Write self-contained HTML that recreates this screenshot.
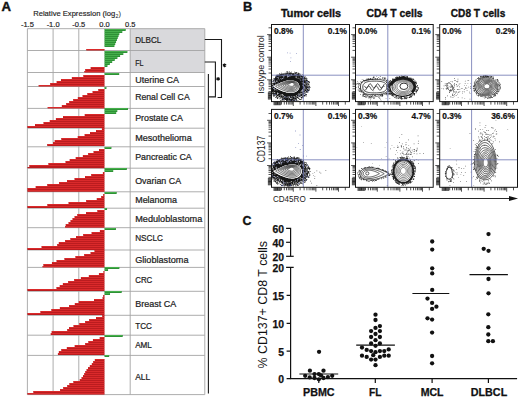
<!DOCTYPE html>
<html><head><meta charset="utf-8"><style>
html,body{margin:0;padding:0;background:#fff;width:520px;height:397px;overflow:hidden;}
svg{display:block;}
text{font-family:"Liberation Sans",sans-serif;}
</style></head><body>
<svg width="520" height="397" viewBox="0 0 520 397">
<rect width="520" height="397" fill="#fff"/>
<text x="1.5" y="11.1" font-family="Liberation Sans, sans-serif" font-weight="bold" font-size="12.4" fill="#111" stroke="#111" stroke-width="0.4" textLength="9.5" lengthAdjust="spacingAndGlyphs">A</text>
<text x="33.2" y="16" font-family="Liberation Sans, sans-serif" font-size="7.6" fill="#222" stroke="#222" stroke-width="0.15" textLength="82" lengthAdjust="spacingAndGlyphs">Relative Expression (log</text>
<text x="115.4" y="17.6" font-family="Liberation Sans, sans-serif" font-size="5.2" fill="#222">2</text>
<text x="118.4" y="16" font-family="Liberation Sans, sans-serif" font-size="7.5" fill="#222">)</text>
<text x="27.4" y="26.6" font-family="Liberation Sans, sans-serif" font-size="7.5" fill="#222" stroke="#222" stroke-width="0.18" text-anchor="middle">-1.5</text>
<text x="53.1" y="26.6" font-family="Liberation Sans, sans-serif" font-size="7.5" fill="#222" stroke="#222" stroke-width="0.18" text-anchor="middle">-1.0</text>
<text x="78.8" y="26.6" font-family="Liberation Sans, sans-serif" font-size="7.5" fill="#222" stroke="#222" stroke-width="0.18" text-anchor="middle">-0.5</text>
<text x="104.5" y="26.6" font-family="Liberation Sans, sans-serif" font-size="7.5" fill="#222" stroke="#222" stroke-width="0.18" text-anchor="middle">0.0</text>
<text x="130.2" y="26.6" font-family="Liberation Sans, sans-serif" font-size="7.5" fill="#222" stroke="#222" stroke-width="0.18" text-anchor="middle">0.5</text>
<rect x="130.2" y="28.7" width="74.6" height="43.8" fill="#d9d9dc"/>
<g stroke="#a4a4a4" stroke-width="0.9"><line x1="27.40" y1="28.7" x2="27.40" y2="394.6"/><line x1="53.10" y1="28.7" x2="53.10" y2="394.6"/><line x1="78.80" y1="28.7" x2="78.80" y2="394.6"/><line x1="27.40" y1="28.7" x2="204.8" y2="28.7"/><line x1="27.40" y1="50.5" x2="204.8" y2="50.5"/><line x1="27.40" y1="72.5" x2="204.8" y2="72.5"/><line x1="27.40" y1="86.5" x2="204.8" y2="86.5"/><line x1="27.40" y1="108.4" x2="204.8" y2="108.4"/><line x1="27.40" y1="128.2" x2="204.8" y2="128.2"/><line x1="27.40" y1="146.8" x2="204.8" y2="146.8"/><line x1="27.40" y1="168.2" x2="204.8" y2="168.2"/><line x1="27.40" y1="191.8" x2="204.8" y2="191.8"/><line x1="27.40" y1="208.2" x2="204.8" y2="208.2"/><line x1="27.40" y1="227.7" x2="204.8" y2="227.7"/><line x1="27.40" y1="250.0" x2="204.8" y2="250.0"/><line x1="27.40" y1="267.4" x2="204.8" y2="267.4"/><line x1="27.40" y1="291.3" x2="204.8" y2="291.3"/><line x1="27.40" y1="315.3" x2="204.8" y2="315.3"/><line x1="27.40" y1="335.2" x2="204.8" y2="335.2"/><line x1="27.40" y1="355.4" x2="204.8" y2="355.4"/><line x1="27.40" y1="394.6" x2="204.8" y2="394.6"/><line x1="130.20" y1="28.7" x2="130.20" y2="394.6"/><line x1="204.8" y1="28.7" x2="204.8" y2="394.6"/></g>
<g fill="#b91c1f"><rect x="86.30" y="49.00" width="18.20" height="1.50"/><rect x="90.65" y="67.00" width="13.85" height="2.00"/><rect x="85.23" y="69.00" width="19.27" height="2.00"/><rect x="84.32" y="71.00" width="20.18" height="1.50"/><rect x="83.33" y="75.00" width="21.17" height="2.00"/><rect x="71.84" y="77.00" width="32.66" height="2.00"/><rect x="60.98" y="79.00" width="43.52" height="2.00"/><rect x="56.62" y="81.00" width="47.88" height="2.00"/><rect x="50.20" y="83.00" width="54.30" height="2.00"/><rect x="38.60" y="85.00" width="65.90" height="1.50"/><rect x="98.28" y="89.00" width="6.22" height="2.00"/><rect x="92.56" y="91.00" width="11.94" height="2.00"/><rect x="87.32" y="93.00" width="17.18" height="2.00"/><rect x="82.52" y="95.00" width="21.98" height="2.00"/><rect x="77.81" y="97.00" width="26.69" height="2.00"/><rect x="73.20" y="99.00" width="31.30" height="2.00"/><rect x="69.20" y="101.00" width="35.30" height="2.00"/><rect x="66.20" y="103.00" width="38.30" height="2.00"/><rect x="61.82" y="105.00" width="42.68" height="2.00"/><rect x="47.60" y="107.00" width="56.90" height="1.40"/><rect x="84.70" y="114.00" width="19.80" height="2.00"/><rect x="63.00" y="116.00" width="41.50" height="2.00"/><rect x="55.90" y="118.00" width="48.60" height="2.00"/><rect x="49.70" y="120.00" width="54.80" height="2.00"/><rect x="43.50" y="122.00" width="61.00" height="2.00"/><rect x="35.00" y="124.00" width="69.50" height="2.00"/><rect x="27.40" y="126.00" width="77.10" height="2.00"/><rect x="101.90" y="128.00" width="2.60" height="2.00"/><rect x="96.00" y="130.00" width="8.50" height="2.00"/><rect x="90.00" y="132.00" width="14.50" height="2.00"/><rect x="84.59" y="134.00" width="19.91" height="2.00"/><rect x="77.71" y="136.00" width="26.79" height="2.00"/><rect x="61.28" y="138.00" width="43.22" height="2.00"/><rect x="54.64" y="140.00" width="49.86" height="2.00"/><rect x="53.04" y="142.00" width="51.46" height="2.00"/><rect x="47.20" y="144.00" width="57.30" height="2.00"/><rect x="99.00" y="149.00" width="5.50" height="2.00"/><rect x="93.53" y="151.00" width="10.97" height="2.00"/><rect x="88.15" y="153.00" width="16.35" height="2.00"/><rect x="82.86" y="155.00" width="21.64" height="2.00"/><rect x="75.67" y="157.00" width="28.83" height="2.00"/><rect x="69.65" y="159.00" width="34.85" height="2.00"/><rect x="65.51" y="161.00" width="38.99" height="2.00"/><rect x="48.39" y="163.00" width="56.11" height="2.00"/><rect x="29.32" y="165.00" width="75.18" height="2.00"/><rect x="27.40" y="167.00" width="77.10" height="1.20"/><rect x="102.88" y="172.00" width="1.62" height="2.00"/><rect x="91.21" y="174.00" width="13.29" height="2.00"/><rect x="85.01" y="176.00" width="19.49" height="2.00"/><rect x="74.52" y="178.00" width="29.98" height="2.00"/><rect x="67.05" y="180.00" width="37.45" height="2.00"/><rect x="59.11" y="182.00" width="45.39" height="2.00"/><rect x="47.27" y="184.00" width="57.23" height="2.00"/><rect x="35.65" y="186.00" width="68.85" height="2.00"/><rect x="27.40" y="188.00" width="77.10" height="2.00"/><rect x="27.40" y="190.00" width="77.10" height="1.80"/><rect x="103.20" y="194.00" width="1.30" height="2.00"/><rect x="101.20" y="196.00" width="3.30" height="2.00"/><rect x="96.75" y="198.00" width="7.75" height="2.00"/><rect x="86.16" y="200.00" width="18.34" height="2.00"/><rect x="68.53" y="202.00" width="35.97" height="2.00"/><rect x="47.36" y="204.00" width="57.14" height="2.00"/><rect x="27.40" y="206.00" width="77.10" height="2.00"/><rect x="97.33" y="210.00" width="7.17" height="2.00"/><rect x="86.04" y="212.00" width="18.46" height="2.00"/><rect x="77.27" y="214.00" width="27.23" height="2.00"/><rect x="74.54" y="216.00" width="29.96" height="2.00"/><rect x="72.50" y="218.00" width="32.00" height="2.00"/><rect x="70.50" y="220.00" width="34.00" height="2.00"/><rect x="68.50" y="222.00" width="36.00" height="2.00"/><rect x="65.69" y="224.00" width="38.81" height="2.00"/><rect x="65.10" y="226.00" width="39.40" height="1.70"/><rect x="99.88" y="230.00" width="4.62" height="2.00"/><rect x="91.57" y="232.00" width="12.93" height="2.00"/><rect x="83.19" y="234.00" width="21.31" height="2.00"/><rect x="76.02" y="236.00" width="28.48" height="2.00"/><rect x="70.35" y="238.00" width="34.15" height="2.00"/><rect x="65.12" y="240.00" width="39.38" height="2.00"/><rect x="58.77" y="242.00" width="45.73" height="2.00"/><rect x="57.21" y="244.00" width="47.29" height="2.00"/><rect x="41.53" y="246.00" width="62.97" height="2.00"/><rect x="27.40" y="248.00" width="77.10" height="2.00"/><rect x="94.47" y="250.00" width="10.03" height="2.00"/><rect x="90.54" y="252.00" width="13.96" height="2.00"/><rect x="84.18" y="254.00" width="20.32" height="2.00"/><rect x="75.40" y="256.00" width="29.10" height="2.00"/><rect x="64.41" y="258.00" width="40.09" height="2.00"/><rect x="56.52" y="260.00" width="47.98" height="2.00"/><rect x="51.93" y="262.00" width="52.57" height="2.00"/><rect x="43.38" y="264.00" width="61.12" height="2.00"/><rect x="42.50" y="266.00" width="62.00" height="1.40"/><rect x="103.44" y="271.00" width="1.06" height="2.00"/><rect x="98.94" y="273.00" width="5.56" height="2.00"/><rect x="88.82" y="275.00" width="15.68" height="2.00"/><rect x="80.88" y="277.00" width="23.62" height="2.00"/><rect x="74.16" y="279.00" width="30.34" height="2.00"/><rect x="68.14" y="281.00" width="36.36" height="2.00"/><rect x="62.85" y="283.00" width="41.65" height="2.00"/><rect x="59.70" y="285.00" width="44.80" height="2.00"/><rect x="56.46" y="287.00" width="48.04" height="2.00"/><rect x="27.40" y="289.00" width="77.10" height="2.00"/><rect x="103.20" y="295.00" width="1.30" height="2.00"/><rect x="102.55" y="297.00" width="1.95" height="2.00"/><rect x="94.03" y="299.00" width="10.47" height="2.00"/><rect x="78.72" y="301.00" width="25.78" height="2.00"/><rect x="74.79" y="303.00" width="29.71" height="2.00"/><rect x="69.09" y="305.00" width="35.41" height="2.00"/><rect x="59.86" y="307.00" width="44.64" height="2.00"/><rect x="51.34" y="309.00" width="53.16" height="2.00"/><rect x="40.40" y="311.00" width="64.10" height="2.00"/><rect x="27.40" y="313.00" width="77.10" height="2.00"/><rect x="102.20" y="315.00" width="2.30" height="2.00"/><rect x="96.00" y="317.00" width="8.50" height="2.00"/><rect x="89.14" y="319.00" width="15.36" height="2.00"/><rect x="85.14" y="321.00" width="19.36" height="2.00"/><rect x="79.28" y="323.00" width="25.22" height="2.00"/><rect x="73.49" y="325.00" width="31.01" height="2.00"/><rect x="69.04" y="327.00" width="35.46" height="2.00"/><rect x="67.20" y="329.00" width="37.30" height="2.00"/><rect x="51.62" y="331.00" width="52.88" height="2.00"/><rect x="50.70" y="333.00" width="53.80" height="2.00"/><rect x="99.66" y="337.00" width="4.84" height="2.00"/><rect x="92.93" y="339.00" width="11.57" height="2.00"/><rect x="88.33" y="341.00" width="16.17" height="2.00"/><rect x="85.17" y="343.00" width="19.33" height="2.00"/><rect x="74.66" y="345.00" width="29.84" height="2.00"/><rect x="66.81" y="347.00" width="37.69" height="2.00"/><rect x="61.27" y="349.00" width="43.23" height="2.00"/><rect x="58.83" y="351.00" width="45.67" height="2.00"/><rect x="57.90" y="353.00" width="46.60" height="2.00"/><rect x="94.80" y="359.00" width="9.70" height="2.00"/><rect x="93.17" y="361.00" width="11.33" height="2.00"/><rect x="91.80" y="363.00" width="12.70" height="2.00"/><rect x="89.80" y="365.00" width="14.70" height="2.00"/><rect x="88.04" y="367.00" width="16.46" height="2.00"/><rect x="86.53" y="369.00" width="17.97" height="2.00"/><rect x="85.23" y="371.00" width="19.27" height="2.00"/><rect x="84.18" y="373.00" width="20.32" height="2.00"/><rect x="82.99" y="375.00" width="21.51" height="2.00"/><rect x="81.52" y="377.00" width="22.98" height="2.00"/><rect x="79.72" y="379.00" width="24.78" height="2.00"/><rect x="73.35" y="381.00" width="31.15" height="2.00"/><rect x="69.34" y="383.00" width="35.16" height="2.00"/><rect x="67.20" y="385.00" width="37.30" height="2.00"/><rect x="63.20" y="387.00" width="41.30" height="2.00"/><rect x="60.08" y="389.00" width="44.42" height="2.00"/><rect x="33.33" y="391.00" width="71.17" height="2.00"/><rect x="27.40" y="393.00" width="77.10" height="1.60"/></g><g fill="#dc2c2d"><rect x="86.65" y="49.05" width="17.50" height="1.0"/><rect x="91.00" y="67.05" width="13.15" height="1.0"/><rect x="85.58" y="69.05" width="18.57" height="1.0"/><rect x="84.67" y="71.05" width="19.48" height="1.0"/><rect x="83.68" y="75.05" width="20.47" height="1.0"/><rect x="72.19" y="77.05" width="31.96" height="1.0"/><rect x="61.33" y="79.05" width="42.82" height="1.0"/><rect x="56.98" y="81.05" width="47.17" height="1.0"/><rect x="50.55" y="83.05" width="53.60" height="1.0"/><rect x="38.95" y="85.05" width="65.20" height="1.0"/><rect x="98.63" y="89.05" width="5.52" height="1.0"/><rect x="92.91" y="91.05" width="11.24" height="1.0"/><rect x="87.67" y="93.05" width="16.48" height="1.0"/><rect x="82.87" y="95.05" width="21.28" height="1.0"/><rect x="78.16" y="97.05" width="25.99" height="1.0"/><rect x="73.55" y="99.05" width="30.60" height="1.0"/><rect x="69.55" y="101.05" width="34.60" height="1.0"/><rect x="66.55" y="103.05" width="37.60" height="1.0"/><rect x="62.17" y="105.05" width="41.98" height="1.0"/><rect x="47.95" y="107.05" width="56.20" height="1.0"/><rect x="85.05" y="114.05" width="19.10" height="1.0"/><rect x="63.35" y="116.05" width="40.80" height="1.0"/><rect x="56.25" y="118.05" width="47.90" height="1.0"/><rect x="50.05" y="120.05" width="54.10" height="1.0"/><rect x="43.85" y="122.05" width="60.30" height="1.0"/><rect x="35.35" y="124.05" width="68.80" height="1.0"/><rect x="27.75" y="126.05" width="76.40" height="1.0"/><rect x="102.25" y="128.05" width="1.90" height="1.0"/><rect x="96.35" y="130.05" width="7.80" height="1.0"/><rect x="90.35" y="132.05" width="13.80" height="1.0"/><rect x="84.94" y="134.05" width="19.21" height="1.0"/><rect x="78.06" y="136.05" width="26.09" height="1.0"/><rect x="61.63" y="138.05" width="42.52" height="1.0"/><rect x="54.99" y="140.05" width="49.16" height="1.0"/><rect x="53.39" y="142.05" width="50.76" height="1.0"/><rect x="47.55" y="144.05" width="56.60" height="1.0"/><rect x="99.35" y="149.05" width="4.80" height="1.0"/><rect x="93.88" y="151.05" width="10.27" height="1.0"/><rect x="88.50" y="153.05" width="15.65" height="1.0"/><rect x="83.21" y="155.05" width="20.94" height="1.0"/><rect x="76.02" y="157.05" width="28.13" height="1.0"/><rect x="70.00" y="159.05" width="34.15" height="1.0"/><rect x="65.86" y="161.05" width="38.29" height="1.0"/><rect x="48.74" y="163.05" width="55.41" height="1.0"/><rect x="29.67" y="165.05" width="74.48" height="1.0"/><rect x="103.23" y="172.05" width="0.92" height="1.0"/><rect x="91.56" y="174.05" width="12.59" height="1.0"/><rect x="85.36" y="176.05" width="18.79" height="1.0"/><rect x="74.87" y="178.05" width="29.28" height="1.0"/><rect x="67.40" y="180.05" width="36.75" height="1.0"/><rect x="59.46" y="182.05" width="44.69" height="1.0"/><rect x="47.62" y="184.05" width="56.53" height="1.0"/><rect x="36.00" y="186.05" width="68.15" height="1.0"/><rect x="27.75" y="188.05" width="76.40" height="1.0"/><rect x="27.75" y="190.05" width="76.40" height="1.0"/><rect x="103.55" y="194.05" width="0.60" height="1.0"/><rect x="101.55" y="196.05" width="2.60" height="1.0"/><rect x="97.10" y="198.05" width="7.05" height="1.0"/><rect x="86.51" y="200.05" width="17.64" height="1.0"/><rect x="68.88" y="202.05" width="35.27" height="1.0"/><rect x="47.71" y="204.05" width="56.44" height="1.0"/><rect x="27.75" y="206.05" width="76.40" height="1.0"/><rect x="97.68" y="210.05" width="6.47" height="1.0"/><rect x="86.39" y="212.05" width="17.76" height="1.0"/><rect x="77.62" y="214.05" width="26.53" height="1.0"/><rect x="74.89" y="216.05" width="29.26" height="1.0"/><rect x="72.85" y="218.05" width="31.30" height="1.0"/><rect x="70.85" y="220.05" width="33.30" height="1.0"/><rect x="68.85" y="222.05" width="35.30" height="1.0"/><rect x="66.04" y="224.05" width="38.11" height="1.0"/><rect x="65.45" y="226.05" width="38.70" height="1.0"/><rect x="100.23" y="230.05" width="3.92" height="1.0"/><rect x="91.92" y="232.05" width="12.23" height="1.0"/><rect x="83.54" y="234.05" width="20.61" height="1.0"/><rect x="76.37" y="236.05" width="27.78" height="1.0"/><rect x="70.70" y="238.05" width="33.45" height="1.0"/><rect x="65.47" y="240.05" width="38.68" height="1.0"/><rect x="59.12" y="242.05" width="45.03" height="1.0"/><rect x="57.56" y="244.05" width="46.59" height="1.0"/><rect x="41.88" y="246.05" width="62.27" height="1.0"/><rect x="27.75" y="248.05" width="76.40" height="1.0"/><rect x="94.82" y="250.05" width="9.33" height="1.0"/><rect x="90.89" y="252.05" width="13.26" height="1.0"/><rect x="84.53" y="254.05" width="19.62" height="1.0"/><rect x="75.75" y="256.05" width="28.40" height="1.0"/><rect x="64.76" y="258.05" width="39.39" height="1.0"/><rect x="56.87" y="260.05" width="47.28" height="1.0"/><rect x="52.28" y="262.05" width="51.87" height="1.0"/><rect x="43.73" y="264.05" width="60.42" height="1.0"/><rect x="42.85" y="266.05" width="61.30" height="1.0"/><rect x="103.79" y="271.05" width="0.36" height="1.0"/><rect x="99.29" y="273.05" width="4.86" height="1.0"/><rect x="89.17" y="275.05" width="14.98" height="1.0"/><rect x="81.23" y="277.05" width="22.92" height="1.0"/><rect x="74.51" y="279.05" width="29.64" height="1.0"/><rect x="68.49" y="281.05" width="35.66" height="1.0"/><rect x="63.20" y="283.05" width="40.95" height="1.0"/><rect x="60.05" y="285.05" width="44.10" height="1.0"/><rect x="56.81" y="287.05" width="47.34" height="1.0"/><rect x="27.75" y="289.05" width="76.40" height="1.0"/><rect x="103.55" y="295.05" width="0.60" height="1.0"/><rect x="102.90" y="297.05" width="1.25" height="1.0"/><rect x="94.38" y="299.05" width="9.77" height="1.0"/><rect x="79.07" y="301.05" width="25.08" height="1.0"/><rect x="75.14" y="303.05" width="29.01" height="1.0"/><rect x="69.44" y="305.05" width="34.71" height="1.0"/><rect x="60.21" y="307.05" width="43.94" height="1.0"/><rect x="51.69" y="309.05" width="52.46" height="1.0"/><rect x="40.75" y="311.05" width="63.40" height="1.0"/><rect x="27.75" y="313.05" width="76.40" height="1.0"/><rect x="102.55" y="315.05" width="1.60" height="1.0"/><rect x="96.35" y="317.05" width="7.80" height="1.0"/><rect x="89.49" y="319.05" width="14.66" height="1.0"/><rect x="85.49" y="321.05" width="18.66" height="1.0"/><rect x="79.63" y="323.05" width="24.52" height="1.0"/><rect x="73.84" y="325.05" width="30.31" height="1.0"/><rect x="69.39" y="327.05" width="34.76" height="1.0"/><rect x="67.55" y="329.05" width="36.60" height="1.0"/><rect x="51.97" y="331.05" width="52.18" height="1.0"/><rect x="51.05" y="333.05" width="53.10" height="1.0"/><rect x="100.01" y="337.05" width="4.14" height="1.0"/><rect x="93.28" y="339.05" width="10.87" height="1.0"/><rect x="88.68" y="341.05" width="15.47" height="1.0"/><rect x="85.52" y="343.05" width="18.63" height="1.0"/><rect x="75.01" y="345.05" width="29.14" height="1.0"/><rect x="67.16" y="347.05" width="36.99" height="1.0"/><rect x="61.62" y="349.05" width="42.52" height="1.0"/><rect x="59.18" y="351.05" width="44.97" height="1.0"/><rect x="58.25" y="353.05" width="45.90" height="1.0"/><rect x="95.15" y="359.05" width="9.00" height="1.0"/><rect x="93.52" y="361.05" width="10.63" height="1.0"/><rect x="92.15" y="363.05" width="12.00" height="1.0"/><rect x="90.15" y="365.05" width="14.00" height="1.0"/><rect x="88.39" y="367.05" width="15.76" height="1.0"/><rect x="86.88" y="369.05" width="17.27" height="1.0"/><rect x="85.58" y="371.05" width="18.57" height="1.0"/><rect x="84.53" y="373.05" width="19.62" height="1.0"/><rect x="83.34" y="375.05" width="20.81" height="1.0"/><rect x="81.87" y="377.05" width="22.28" height="1.0"/><rect x="80.07" y="379.05" width="24.08" height="1.0"/><rect x="73.70" y="381.05" width="30.45" height="1.0"/><rect x="69.69" y="383.05" width="34.46" height="1.0"/><rect x="67.55" y="385.05" width="36.60" height="1.0"/><rect x="63.55" y="387.05" width="40.60" height="1.0"/><rect x="60.43" y="389.05" width="43.72" height="1.0"/><rect x="33.68" y="391.05" width="70.47" height="1.0"/><rect x="27.75" y="393.05" width="76.40" height="1.0"/></g>
<g fill="#2e9035"><rect x="104.50" y="29.00" width="21.18" height="2.00"/><rect x="104.50" y="31.00" width="17.80" height="2.00"/><rect x="104.50" y="33.00" width="14.85" height="2.00"/><rect x="104.50" y="35.00" width="14.02" height="2.00"/><rect x="104.50" y="37.00" width="13.20" height="2.00"/><rect x="104.50" y="39.00" width="12.38" height="2.00"/><rect x="104.50" y="41.00" width="11.55" height="2.00"/><rect x="104.50" y="43.00" width="10.73" height="2.00"/><rect x="104.50" y="45.00" width="9.91" height="2.00"/><rect x="104.50" y="51.00" width="22.89" height="2.00"/><rect x="104.50" y="53.00" width="18.83" height="2.00"/><rect x="104.50" y="55.00" width="15.59" height="2.00"/><rect x="104.50" y="57.00" width="12.90" height="2.00"/><rect x="104.50" y="59.00" width="10.21" height="2.00"/><rect x="104.50" y="61.00" width="7.69" height="2.00"/><rect x="104.50" y="63.00" width="5.30" height="2.00"/><rect x="104.50" y="65.00" width="2.92" height="2.00"/><rect x="104.50" y="73.00" width="14.70" height="2.00"/><rect x="104.50" y="87.00" width="1.93" height="2.00"/><rect x="104.50" y="108.00" width="23.50" height="2.00"/><rect x="104.50" y="110.00" width="12.80" height="2.00"/><rect x="104.50" y="112.00" width="11.70" height="2.00"/><rect x="104.50" y="147.00" width="6.90" height="2.00"/><rect x="104.50" y="168.00" width="22.33" height="2.00"/><rect x="104.50" y="170.00" width="8.70" height="2.00"/><rect x="104.50" y="192.00" width="12.16" height="2.00"/><rect x="104.50" y="208.00" width="2.53" height="2.00"/><rect x="104.50" y="228.00" width="11.43" height="2.00"/><rect x="104.50" y="267.00" width="14.86" height="2.00"/><rect x="104.50" y="269.00" width="3.56" height="2.00"/><rect x="104.50" y="291.00" width="17.20" height="2.00"/><rect x="104.50" y="293.00" width="5.52" height="2.00"/><rect x="104.50" y="335.00" width="18.20" height="2.00"/><rect x="104.50" y="355.00" width="4.66" height="2.00"/></g><g fill="#48b24e"><rect x="104.85" y="29.05" width="20.48" height="1.0"/><rect x="104.85" y="31.05" width="17.10" height="1.0"/><rect x="104.85" y="33.05" width="14.15" height="1.0"/><rect x="104.85" y="35.05" width="13.32" height="1.0"/><rect x="104.85" y="37.05" width="12.50" height="1.0"/><rect x="104.85" y="39.05" width="11.68" height="1.0"/><rect x="104.85" y="41.05" width="10.85" height="1.0"/><rect x="104.85" y="43.05" width="10.03" height="1.0"/><rect x="104.85" y="45.05" width="9.21" height="1.0"/><rect x="104.85" y="51.05" width="22.19" height="1.0"/><rect x="104.85" y="53.05" width="18.13" height="1.0"/><rect x="104.85" y="55.05" width="14.89" height="1.0"/><rect x="104.85" y="57.05" width="12.20" height="1.0"/><rect x="104.85" y="59.05" width="9.51" height="1.0"/><rect x="104.85" y="61.05" width="6.99" height="1.0"/><rect x="104.85" y="63.05" width="4.60" height="1.0"/><rect x="104.85" y="65.05" width="2.22" height="1.0"/><rect x="104.85" y="73.05" width="14.00" height="1.0"/><rect x="104.85" y="87.05" width="1.23" height="1.0"/><rect x="104.85" y="108.05" width="22.80" height="1.0"/><rect x="104.85" y="110.05" width="12.10" height="1.0"/><rect x="104.85" y="112.05" width="11.00" height="1.0"/><rect x="104.85" y="147.05" width="6.20" height="1.0"/><rect x="104.85" y="168.05" width="21.63" height="1.0"/><rect x="104.85" y="170.05" width="8.00" height="1.0"/><rect x="104.85" y="192.05" width="11.46" height="1.0"/><rect x="104.85" y="208.05" width="1.83" height="1.0"/><rect x="104.85" y="228.05" width="10.73" height="1.0"/><rect x="104.85" y="267.05" width="14.16" height="1.0"/><rect x="104.85" y="269.05" width="2.86" height="1.0"/><rect x="104.85" y="291.05" width="16.50" height="1.0"/><rect x="104.85" y="293.05" width="4.82" height="1.0"/><rect x="104.85" y="335.05" width="17.50" height="1.0"/><rect x="104.85" y="355.05" width="3.96" height="1.0"/></g>
<text x="135.2" y="42.6" font-family="Liberation Sans, sans-serif" font-size="8.6" fill="#222" stroke="#222" stroke-width="0.22" textLength="26.1" lengthAdjust="spacingAndGlyphs">DLBCL</text>
<text x="135.2" y="65.7" font-family="Liberation Sans, sans-serif" font-size="8.6" fill="#222" stroke="#222" stroke-width="0.22" textLength="8.3" lengthAdjust="spacingAndGlyphs">FL</text>
<text x="135.2" y="83.3" font-family="Liberation Sans, sans-serif" font-size="8.6" fill="#222" stroke="#222" stroke-width="0.22" textLength="43.9" lengthAdjust="spacingAndGlyphs">Uterine CA</text>
<text x="135.2" y="99.7" font-family="Liberation Sans, sans-serif" font-size="8.6" fill="#222" stroke="#222" stroke-width="0.22" textLength="54.5" lengthAdjust="spacingAndGlyphs">Renal Cell CA</text>
<text x="135.2" y="121.4" font-family="Liberation Sans, sans-serif" font-size="8.6" fill="#222" stroke="#222" stroke-width="0.22" textLength="47.7" lengthAdjust="spacingAndGlyphs">Prostate CA</text>
<text x="135.2" y="140.9" font-family="Liberation Sans, sans-serif" font-size="8.6" fill="#222" stroke="#222" stroke-width="0.22" textLength="56.5" lengthAdjust="spacingAndGlyphs">Mesothelioma</text>
<text x="135.2" y="160.3" font-family="Liberation Sans, sans-serif" font-size="8.6" fill="#222" stroke="#222" stroke-width="0.22" textLength="56.5" lengthAdjust="spacingAndGlyphs">Pancreatic CA</text>
<text x="135.2" y="183.6" font-family="Liberation Sans, sans-serif" font-size="8.6" fill="#222" stroke="#222" stroke-width="0.22" textLength="45.9" lengthAdjust="spacingAndGlyphs">Ovarian CA</text>
<text x="135.2" y="203.0" font-family="Liberation Sans, sans-serif" font-size="8.6" fill="#222" stroke="#222" stroke-width="0.22" textLength="41.8" lengthAdjust="spacingAndGlyphs">Melanoma</text>
<text x="135.2" y="221.9" font-family="Liberation Sans, sans-serif" font-size="8.6" fill="#222" stroke="#222" stroke-width="0.22" textLength="67.1" lengthAdjust="spacingAndGlyphs">Meduloblastoma</text>
<text x="135.2" y="241.3" font-family="Liberation Sans, sans-serif" font-size="8.6" fill="#222" stroke="#222" stroke-width="0.22" textLength="27.7" lengthAdjust="spacingAndGlyphs">NSCLC</text>
<text x="135.2" y="262.5" font-family="Liberation Sans, sans-serif" font-size="8.6" fill="#222" stroke="#222" stroke-width="0.22" textLength="53.3" lengthAdjust="spacingAndGlyphs">Glioblastoma</text>
<text x="135.2" y="283.3" font-family="Liberation Sans, sans-serif" font-size="8.6" fill="#222" stroke="#222" stroke-width="0.22" textLength="17.1" lengthAdjust="spacingAndGlyphs">CRC</text>
<text x="135.2" y="307.1" font-family="Liberation Sans, sans-serif" font-size="8.6" fill="#222" stroke="#222" stroke-width="0.22" textLength="41.0" lengthAdjust="spacingAndGlyphs">Breast CA</text>
<text x="135.2" y="328.7" font-family="Liberation Sans, sans-serif" font-size="8.6" fill="#222" stroke="#222" stroke-width="0.22" textLength="16.7" lengthAdjust="spacingAndGlyphs">TCC</text>
<text x="135.2" y="348.4" font-family="Liberation Sans, sans-serif" font-size="8.6" fill="#222" stroke="#222" stroke-width="0.22" textLength="16.7" lengthAdjust="spacingAndGlyphs">AML</text>
<text x="135.2" y="379.5" font-family="Liberation Sans, sans-serif" font-size="8.6" fill="#222" stroke="#222" stroke-width="0.22" textLength="15.0" lengthAdjust="spacingAndGlyphs">ALL</text>
<g fill="none" stroke="#1a1a1a" stroke-width="1.1"><path d="M204.8,39.5 H221.5 V97.5 H217.6"/><path d="M204.8,62.0 H215.4 V96.9 H208.4"/><path d="M208.4,73.9 V393.5"/></g>
<path d="M224.50,67.20 L224.50,63.40 M222.85,66.25 L226.15,64.35 M222.85,64.35 L226.15,66.25" stroke="#111" stroke-width="1.1"/>
<path d="M218.10,80.80 L218.10,77.00 M216.45,79.85 L219.75,77.95 M216.45,77.95 L219.75,79.85" stroke="#111" stroke-width="1.1"/>
<text x="243" y="11.3" font-family="Liberation Sans, sans-serif" font-weight="bold" font-size="12.8" fill="#111" stroke="#111" stroke-width="0.35">B</text>
<text x="281.0" y="17.4" font-family="Liberation Sans, sans-serif" font-weight="bold" font-size="10.7" fill="#111" stroke="#111" stroke-width="0.35" textLength="60.0" lengthAdjust="spacingAndGlyphs">Tumor cells</text>
<text x="366.6" y="17.4" font-family="Liberation Sans, sans-serif" font-weight="bold" font-size="10.7" fill="#111" stroke="#111" stroke-width="0.35" textLength="56.0" lengthAdjust="spacingAndGlyphs">CD4 T cells</text>
<text x="450.8" y="17.4" font-family="Liberation Sans, sans-serif" font-weight="bold" font-size="10.7" fill="#111" stroke="#111" stroke-width="0.35" textLength="54.5" lengthAdjust="spacingAndGlyphs">CD8 T cells</text>
<text transform="translate(264.1,93.8) rotate(-90)" font-family="Liberation Sans, sans-serif" font-size="9.3" fill="#222" textLength="58.5" lengthAdjust="spacingAndGlyphs">Isotype control</text>
<text transform="translate(264.7,162.3) rotate(-90)" font-family="Liberation Sans, sans-serif" font-size="10" fill="#222" textLength="26.6" lengthAdjust="spacingAndGlyphs">CD137</text>
<text x="272.9" y="201.8" font-family="Liberation Sans, sans-serif" font-size="9" fill="#222" textLength="32.8" lengthAdjust="spacingAndGlyphs">CD45RO</text>
<line x1="309.8" y1="198.5" x2="510" y2="198.5" stroke="#111" stroke-width="0.9"/>
<path d="M509,196.1 L518.1,198.5 L509,200.9 Z" fill="#111"/>
<rect x="271.5" y="24.5" width="78.0" height="77.1" fill="#fff"/>
<rect x="355.5" y="24.5" width="77.7" height="77.1" fill="#fff"/>
<rect x="439.7" y="24.5" width="77.8" height="77.1" fill="#fff"/>
<rect x="271.5" y="109.4" width="78.0" height="77.9" fill="#fff"/>
<rect x="355.5" y="109.4" width="77.7" height="77.9" fill="#fff"/>
<rect x="439.7" y="109.4" width="77.8" height="77.9" fill="#fff"/>
<clipPath id="c15"><rect x="271.95" y="24.95" width="77.1" height="76.2"/></clipPath>
<g clip-path="url(#c15)"><path d="M307.80,86.40 L308.04,87.61 L308.07,88.83 L307.86,90.06 L307.37,91.23 L306.63,92.34 L305.67,93.34 L304.54,94.23 L303.33,95.02 L302.07,95.74 L300.82,96.43 L299.58,97.10 L298.33,97.77 L297.06,98.44 L295.72,99.09 L294.29,99.67 L292.76,100.14 L291.15,100.44 L289.50,100.54 L287.85,100.44 L286.24,100.14 L284.71,99.67 L283.28,99.09 L281.94,98.44 L280.67,97.77 L279.42,97.10 L278.18,96.43 L276.93,95.74 L275.67,95.02 L274.46,94.23 L273.33,93.34 L272.37,92.34 L271.63,91.23 L271.14,90.06 L270.93,88.83 L270.96,87.61 L271.20,86.40 L271.58,85.23 L272.03,84.11 L272.51,83.02 L272.98,81.93 L273.46,80.84 L273.97,79.74 L274.56,78.63 L275.29,77.54 L276.19,76.51 L277.29,75.59 L278.59,74.82 L280.03,74.21 L281.59,73.79 L283.20,73.53 L284.81,73.40 L286.40,73.35 L287.96,73.34 L289.50,73.34 L291.04,73.34 L292.60,73.35 L294.19,73.40 L295.80,73.53 L297.41,73.79 L298.97,74.21 L300.41,74.82 L301.71,75.59 L302.81,76.51 L303.71,77.54 L304.44,78.63 L305.03,79.74 L305.54,80.84 L306.02,81.93 L306.49,83.02 L306.97,84.11 L307.42,85.23Z M299.35,85.89 L299.20,85.18 L298.96,84.50 L298.62,83.84 L298.18,83.22 L297.66,82.64 L297.05,82.11 L296.36,81.65 L295.59,81.24 L294.76,80.91 L293.86,80.64 L292.90,80.45 L291.89,80.33 L290.85,80.29 L289.76,80.32 L288.66,80.41 L287.53,80.58 L286.40,80.80 L285.27,81.08 L284.14,81.41 L283.04,81.78 L281.95,82.18 L280.91,82.61 L279.90,83.05 L278.94,83.50 L278.04,83.95 L277.21,84.38 L276.44,84.80 L275.75,85.19 L275.14,85.54 L274.62,85.85 L274.18,86.11 L273.84,86.32 L273.60,86.48 L273.45,86.57 L273.40,86.60 L273.45,86.63 L273.60,86.72 L273.84,86.88 L274.18,87.09 L274.62,87.35 L275.14,87.66 L275.75,88.01 L276.44,88.40 L277.21,88.82 L278.04,89.25 L278.94,89.70 L279.90,90.15 L280.91,90.59 L281.95,91.02 L283.04,91.42 L284.14,91.79 L285.27,92.12 L286.40,92.40 L287.53,92.62 L288.66,92.79 L289.76,92.88 L290.85,92.91 L291.89,92.87 L292.90,92.75 L293.86,92.56 L294.76,92.29 L295.59,91.96 L296.36,91.55 L297.05,91.09 L297.66,90.56 L298.18,89.98 L298.62,89.36 L298.96,88.70 L299.20,88.02 L299.35,87.31 L299.40,86.60Z" fill="#161616" fill-rule="evenodd"/><path d="M283.4,95.5h0.6v0.6h-0.6zM281.8,78.4h0.6v0.6h-0.6zM275.1,83.9h0.6v0.6h-0.6zM304.1,90.5h0.6v0.6h-0.6zM304.3,89.0h0.6v0.6h-0.6zM301.5,90.6h0.6v0.6h-0.6zM274.1,92.3h0.6v0.6h-0.6zM299.5,93.7h0.6v0.6h-0.6zM277.0,76.8h0.6v0.6h-0.6zM276.2,81.2h0.6v0.6h-0.6zM302.4,85.0h0.6v0.6h-0.6zM298.6,78.1h0.6v0.6h-0.6zM297.8,94.3h0.6v0.6h-0.6zM283.3,98.4h0.6v0.6h-0.6zM296.2,97.2h0.6v0.6h-0.6zM280.0,77.9h0.6v0.6h-0.6zM276.9,83.5h0.6v0.6h-0.6zM302.5,90.2h0.6v0.6h-0.6zM283.1,76.2h0.6v0.6h-0.6zM283.2,97.4h0.6v0.6h-0.6zM275.7,89.5h0.6v0.6h-0.6zM294.1,74.5h0.6v0.6h-0.6zM290.1,98.3h0.6v0.6h-0.6zM272.1,84.3h0.6v0.6h-0.6zM287.6,75.8h0.6v0.6h-0.6zM302.9,85.2h0.6v0.6h-0.6zM274.7,92.6h0.6v0.6h-0.6zM298.5,95.8h0.6v0.6h-0.6zM305.5,89.4h0.6v0.6h-0.6zM291.0,74.6h0.6v0.6h-0.6zM299.8,78.8h0.6v0.6h-0.6zM284.1,75.2h0.6v0.6h-0.6zM276.1,80.9h0.6v0.6h-0.6zM299.1,75.1h0.6v0.6h-0.6zM273.3,88.4h0.6v0.6h-0.6zM305.0,91.0h0.6v0.6h-0.6zM278.5,75.6h0.6v0.6h-0.6zM295.8,76.8h0.6v0.6h-0.6zM277.1,94.5h0.6v0.6h-0.6zM304.7,88.0h0.6v0.6h-0.6zM296.1,95.1h0.6v0.6h-0.6zM305.4,91.0h0.6v0.6h-0.6zM299.2,94.0h0.6v0.6h-0.6zM275.9,94.7h0.6v0.6h-0.6zM302.9,91.9h0.6v0.6h-0.6zM272.7,82.4h0.6v0.6h-0.6zM296.9,74.6h0.6v0.6h-0.6zM286.8,97.4h0.6v0.6h-0.6zM278.3,96.6h0.6v0.6h-0.6zM302.7,83.7h0.6v0.6h-0.6zM295.8,95.8h0.6v0.6h-0.6zM291.1,97.8h0.6v0.6h-0.6zM277.4,80.8h0.6v0.6h-0.6zM304.6,86.7h0.6v0.6h-0.6zM278.7,95.1h0.6v0.6h-0.6zM305.4,82.8h0.6v0.6h-0.6zM273.4,85.2h0.6v0.6h-0.6zM283.6,77.7h0.6v0.6h-0.6zM303.3,78.9h0.6v0.6h-0.6zM301.6,77.3h0.6v0.6h-0.6zM277.8,93.4h0.6v0.6h-0.6zM302.5,93.7h0.6v0.6h-0.6zM301.7,90.1h0.6v0.6h-0.6zM293.0,96.2h0.6v0.6h-0.6zM282.5,94.6h0.6v0.6h-0.6zM303.1,86.4h0.6v0.6h-0.6zM301.4,92.9h0.6v0.6h-0.6zM306.9,88.5h0.6v0.6h-0.6zM279.2,79.7h0.6v0.6h-0.6zM289.3,97.3h0.6v0.6h-0.6zM280.6,94.0h0.6v0.6h-0.6zM300.1,75.4h0.6v0.6h-0.6zM274.4,88.8h0.6v0.6h-0.6zM301.0,91.5h0.6v0.6h-0.6zM281.7,95.3h0.6v0.6h-0.6zM296.0,77.4h0.6v0.6h-0.6zM307.3,88.3h0.6v0.6h-0.6zM276.1,84.6h0.6v0.6h-0.6zM277.0,83.8h0.6v0.6h-0.6zM300.4,77.0h0.6v0.6h-0.6zM288.5,97.4h0.6v0.6h-0.6zM298.0,97.4h0.6v0.6h-0.6zM272.8,83.8h0.6v0.6h-0.6zM282.8,95.6h0.6v0.6h-0.6zM296.4,73.9h0.6v0.6h-0.6zM299.9,76.2h0.6v0.6h-0.6zM296.5,75.0h0.6v0.6h-0.6zM291.8,97.9h0.6v0.6h-0.6zM281.5,94.0h0.6v0.6h-0.6zM303.6,88.3h0.6v0.6h-0.6zM288.5,98.7h0.6v0.6h-0.6zM304.2,83.3h0.6v0.6h-0.6zM306.3,81.2h0.6v0.6h-0.6zM303.7,83.3h0.6v0.6h-0.6zM292.1,96.7h0.6v0.6h-0.6zM294.1,96.2h0.6v0.6h-0.6zM276.9,77.1h0.6v0.6h-0.6zM297.8,76.7h0.6v0.6h-0.6zM279.7,75.9h0.6v0.6h-0.6zM303.7,92.6h0.6v0.6h-0.6zM303.9,79.6h0.6v0.6h-0.6zM289.5,74.9h0.6v0.6h-0.6zM296.9,97.9h0.6v0.6h-0.6zM281.0,97.5h0.6v0.6h-0.6zM304.2,84.4h0.6v0.6h-0.6zM274.8,94.2h0.6v0.6h-0.6zM287.3,76.3h0.6v0.6h-0.6zM299.0,93.7h0.6v0.6h-0.6zM303.7,79.2h0.6v0.6h-0.6zM300.0,96.6h0.6v0.6h-0.6zM305.8,84.9h0.6v0.6h-0.6zM280.2,95.9h0.6v0.6h-0.6zM298.3,93.4h0.6v0.6h-0.6zM305.6,84.2h0.6v0.6h-0.6zM273.4,91.7h0.6v0.6h-0.6zM295.9,77.2h0.6v0.6h-0.6zM289.3,97.1h0.6v0.6h-0.6zM290.5,98.3h0.6v0.6h-0.6zM288.6,97.6h0.6v0.6h-0.6zM301.6,96.1h0.6v0.6h-0.6zM280.2,95.5h0.6v0.6h-0.6zM274.1,79.8h0.6v0.6h-0.6zM273.8,92.7h0.6v0.6h-0.6zM273.8,86.3h0.6v0.6h-0.6zM276.7,85.0h0.6v0.6h-0.6zM276.7,90.2h0.6v0.6h-0.6zM306.7,86.7h0.6v0.6h-0.6zM296.7,96.5h0.6v0.6h-0.6zM287.0,74.8h0.6v0.6h-0.6zM282.3,96.7h0.6v0.6h-0.6zM273.4,82.1h0.6v0.6h-0.6zM302.0,93.7h0.6v0.6h-0.6zM289.6,97.0h0.6v0.6h-0.6zM291.7,74.9h0.6v0.6h-0.6zM273.8,81.6h0.6v0.6h-0.6zM302.5,80.5h0.6v0.6h-0.6zM277.7,78.9h0.6v0.6h-0.6zM272.9,85.5h0.6v0.6h-0.6zM274.5,89.8h0.6v0.6h-0.6zM284.0,74.0h0.6v0.6h-0.6zM302.8,82.6h0.6v0.6h-0.6zM272.8,81.5h0.6v0.6h-0.6zM296.8,77.9h0.6v0.6h-0.6zM300.5,94.2h0.6v0.6h-0.6zM302.2,91.0h0.6v0.6h-0.6zM304.3,91.8h0.6v0.6h-0.6zM293.3,73.5h0.6v0.6h-0.6zM299.0,96.7h0.6v0.6h-0.6zM282.2,77.9h0.6v0.6h-0.6zM302.9,77.4h0.6v0.6h-0.6zM292.9,99.6h0.6v0.6h-0.6zM277.1,93.3h0.6v0.6h-0.6zM306.8,85.6h0.6v0.6h-0.6zM297.5,96.0h0.6v0.6h-0.6zM274.9,85.3h0.6v0.6h-0.6zM294.4,96.6h0.6v0.6h-0.6zM287.3,76.9h0.6v0.6h-0.6zM275.1,82.6h0.6v0.6h-0.6zM304.0,87.6h0.6v0.6h-0.6zM278.4,78.2h0.6v0.6h-0.6zM306.3,91.7h0.6v0.6h-0.6zM293.8,73.3h0.6v0.6h-0.6zM300.8,92.9h0.6v0.6h-0.6zM306.1,89.5h0.6v0.6h-0.6zM287.8,96.4h0.6v0.6h-0.6zM273.8,92.6h0.6v0.6h-0.6zM295.5,76.8h0.6v0.6h-0.6zM300.1,97.1h0.6v0.6h-0.6zM274.5,81.1h0.6v0.6h-0.6zM300.6,91.6h0.6v0.6h-0.6zM283.8,76.0h0.6v0.6h-0.6zM305.6,92.3h0.6v0.6h-0.6zM278.1,76.8h0.6v0.6h-0.6zM304.6,92.9h0.6v0.6h-0.6zM305.5,91.7h0.6v0.6h-0.6zM275.4,89.5h0.6v0.6h-0.6zM272.6,82.0h0.6v0.6h-0.6zM288.0,96.4h0.6v0.6h-0.6zM275.6,84.6h0.6v0.6h-0.6zM300.1,92.9h0.6v0.6h-0.6zM302.7,89.6h0.6v0.6h-0.6zM284.0,96.4h0.6v0.6h-0.6zM290.4,75.7h0.6v0.6h-0.6zM275.7,86.4h0.6v0.6h-0.6zM282.1,94.3h0.6v0.6h-0.6zM289.5,96.0h0.6v0.6h-0.6zM287.8,74.7h0.6v0.6h-0.6zM295.2,97.0h0.6v0.6h-0.6zM301.8,82.4h0.6v0.6h-0.6zM295.9,76.2h0.6v0.6h-0.6zM272.1,86.8h0.6v0.6h-0.6zM277.3,93.6h0.6v0.6h-0.6zM282.6,73.9h0.6v0.6h-0.6zM279.9,97.2h0.6v0.6h-0.6zM285.1,74.7h0.6v0.6h-0.6zM277.3,92.6h0.6v0.6h-0.6zM302.2,89.8h0.6v0.6h-0.6z" fill="#ffffff"/><path d="M304.7,91.8h0.8v0.8h-0.8zM289.0,96.6h0.8v0.8h-0.8zM304.5,93.0h0.8v0.8h-0.8zM300.8,77.5h0.8v0.8h-0.8zM286.7,96.7h0.8v0.8h-0.8zM285.4,97.4h0.8v0.8h-0.8zM297.9,95.9h0.8v0.8h-0.8zM288.0,99.8h0.8v0.8h-0.8zM305.1,84.4h0.8v0.8h-0.8zM290.1,99.9h0.8v0.8h-0.8zM284.1,96.6h0.8v0.8h-0.8zM304.4,86.5h0.8v0.8h-0.8zM274.1,88.2h0.8v0.8h-0.8zM294.2,97.4h0.8v0.8h-0.8zM303.8,86.7h0.8v0.8h-0.8zM302.2,92.4h0.8v0.8h-0.8zM302.0,88.9h0.8v0.8h-0.8zM284.8,96.3h0.8v0.8h-0.8zM276.0,80.4h0.8v0.8h-0.8zM289.6,74.2h0.8v0.8h-0.8zM285.8,73.6h0.8v0.8h-0.8zM278.3,93.3h0.8v0.8h-0.8zM303.1,85.4h0.8v0.8h-0.8zM286.9,74.4h0.8v0.8h-0.8zM306.2,89.9h0.8v0.8h-0.8zM302.1,78.8h0.8v0.8h-0.8zM287.8,73.6h0.8v0.8h-0.8zM299.6,95.3h0.8v0.8h-0.8zM272.1,86.0h0.8v0.8h-0.8zM295.3,74.3h0.8v0.8h-0.8zM274.2,79.8h0.8v0.8h-0.8zM282.7,75.1h0.8v0.8h-0.8zM291.1,96.0h0.8v0.8h-0.8zM299.4,94.6h0.8v0.8h-0.8zM303.3,94.3h0.8v0.8h-0.8zM274.3,82.1h0.8v0.8h-0.8zM277.9,77.6h0.8v0.8h-0.8zM276.7,87.0h0.8v0.8h-0.8zM294.5,74.4h0.8v0.8h-0.8zM273.8,86.2h0.8v0.8h-0.8zM282.4,78.2h0.8v0.8h-0.8zM288.3,75.9h0.8v0.8h-0.8zM302.2,91.2h0.8v0.8h-0.8zM287.7,76.1h0.8v0.8h-0.8zM288.3,72.9h0.8v0.8h-0.8zM274.6,86.8h0.8v0.8h-0.8zM273.1,88.0h0.8v0.8h-0.8zM291.2,74.4h0.8v0.8h-0.8zM281.2,78.7h0.8v0.8h-0.8zM298.0,94.8h0.8v0.8h-0.8zM288.9,75.6h0.8v0.8h-0.8zM277.8,82.4h0.8v0.8h-0.8zM302.8,90.3h0.8v0.8h-0.8zM281.7,75.5h0.8v0.8h-0.8zM283.0,76.8h0.8v0.8h-0.8zM274.2,85.2h0.8v0.8h-0.8zM276.3,88.5h0.8v0.8h-0.8zM300.4,80.0h0.8v0.8h-0.8zM307.3,84.6h0.8v0.8h-0.8zM304.7,87.7h0.8v0.8h-0.8z" fill="#9aa0c8"/><path d="M298.2,72.7h0.8v0.8h-0.8zM294.2,100.3h0.8v0.8h-0.8zM301.6,97.5h0.8v0.8h-0.8zM306.8,82.5h0.8v0.8h-0.8zM297.7,73.5h0.8v0.8h-0.8zM304.4,76.9h0.8v0.8h-0.8zM308.6,86.7h0.8v0.8h-0.8zM301.4,97.1h0.8v0.8h-0.8zM281.4,100.0h0.8v0.8h-0.8zM309.3,86.6h0.8v0.8h-0.8zM299.1,75.0h0.8v0.8h-0.8zM307.1,79.9h0.8v0.8h-0.8zM304.6,78.4h0.8v0.8h-0.8zM276.4,96.5h0.8v0.8h-0.8zM308.9,86.3h0.8v0.8h-0.8zM277.4,97.2h0.8v0.8h-0.8zM286.7,99.5h0.8v0.8h-0.8zM305.6,95.3h0.8v0.8h-0.8zM289.6,100.1h0.8v0.8h-0.8zM275.2,97.2h0.8v0.8h-0.8zM304.4,76.5h0.8v0.8h-0.8zM275.7,75.4h0.8v0.8h-0.8zM307.4,81.2h0.8v0.8h-0.8zM286.1,73.3h0.8v0.8h-0.8zM287.4,72.4h0.8v0.8h-0.8zM289.8,71.9h0.8v0.8h-0.8zM285.5,99.3h0.8v0.8h-0.8zM305.7,80.4h0.8v0.8h-0.8zM283.7,100.4h0.8v0.8h-0.8zM307.8,84.4h0.8v0.8h-0.8zM279.2,74.9h0.8v0.8h-0.8zM298.5,98.1h0.8v0.8h-0.8zM306.5,77.9h0.8v0.8h-0.8zM272.3,90.6h0.8v0.8h-0.8zM295.9,98.9h0.8v0.8h-0.8zM279.7,97.6h0.8v0.8h-0.8zM290.8,100.1h0.8v0.8h-0.8zM289.5,72.4h0.8v0.8h-0.8zM273.1,93.7h0.8v0.8h-0.8zM276.1,96.1h0.8v0.8h-0.8zM306.6,91.6h0.8v0.8h-0.8zM307.2,83.7h0.8v0.8h-0.8zM301.4,76.1h0.8v0.8h-0.8zM287.1,100.0h0.8v0.8h-0.8zM274.2,94.7h0.8v0.8h-0.8zM308.7,82.1h0.8v0.8h-0.8zM301.9,76.9h0.8v0.8h-0.8zM308.8,89.3h0.8v0.8h-0.8zM304.6,77.8h0.8v0.8h-0.8zM274.3,79.5h0.8v0.8h-0.8zM273.7,95.9h0.8v0.8h-0.8zM298.7,73.1h0.8v0.8h-0.8zM307.7,84.0h0.8v0.8h-0.8zM303.6,94.9h0.8v0.8h-0.8zM307.9,81.1h0.8v0.8h-0.8zM277.6,74.6h0.8v0.8h-0.8zM308.8,90.0h0.8v0.8h-0.8zM278.2,75.5h0.8v0.8h-0.8zM302.3,96.3h0.8v0.8h-0.8zM276.6,75.4h0.8v0.8h-0.8zM303.2,95.0h0.8v0.8h-0.8zM275.5,95.2h0.8v0.8h-0.8zM275.2,78.6h0.8v0.8h-0.8zM283.5,99.8h0.8v0.8h-0.8zM308.4,82.7h0.8v0.8h-0.8zM303.7,77.0h0.8v0.8h-0.8zM291.3,100.0h0.8v0.8h-0.8zM308.6,82.8h0.8v0.8h-0.8zM283.2,98.8h0.8v0.8h-0.8zM273.3,93.0h0.8v0.8h-0.8zM279.4,73.3h0.8v0.8h-0.8zM292.1,99.5h0.8v0.8h-0.8zM279.6,98.4h0.8v0.8h-0.8zM282.0,74.0h0.8v0.8h-0.8zM295.3,72.3h0.8v0.8h-0.8zM307.8,83.8h0.8v0.8h-0.8zM297.3,74.0h0.8v0.8h-0.8zM292.7,100.2h0.8v0.8h-0.8zM279.2,73.4h0.8v0.8h-0.8zM300.9,97.5h0.8v0.8h-0.8zM300.7,96.7h0.8v0.8h-0.8zM307.0,91.6h0.8v0.8h-0.8zM305.7,77.4h0.8v0.8h-0.8zM287.3,71.3h0.8v0.8h-0.8zM306.5,80.6h0.8v0.8h-0.8zM297.5,100.3h0.8v0.8h-0.8zM289.1,73.1h0.8v0.8h-0.8zM279.9,74.4h0.8v0.8h-0.8zM276.4,96.3h0.8v0.8h-0.8zM298.1,97.9h0.8v0.8h-0.8zM286.0,100.1h0.8v0.8h-0.8zM306.9,82.7h0.8v0.8h-0.8zM307.4,83.4h0.8v0.8h-0.8zM277.1,98.1h0.8v0.8h-0.8zM297.8,73.7h0.8v0.8h-0.8zM307.6,90.7h0.8v0.8h-0.8zM275.4,97.2h0.8v0.8h-0.8zM296.1,99.5h0.8v0.8h-0.8zM303.7,78.4h0.8v0.8h-0.8zM272.6,94.3h0.8v0.8h-0.8zM291.4,73.2h0.8v0.8h-0.8zM307.0,89.3h0.8v0.8h-0.8zM305.7,79.8h0.8v0.8h-0.8zM289.2,71.4h0.8v0.8h-0.8zM279.7,98.1h0.8v0.8h-0.8zM308.3,82.6h0.8v0.8h-0.8zM282.0,99.0h0.8v0.8h-0.8zM309.3,86.7h0.8v0.8h-0.8zM306.4,79.1h0.8v0.8h-0.8zM306.2,81.8h0.8v0.8h-0.8zM309.1,82.3h0.8v0.8h-0.8zM275.6,95.4h0.8v0.8h-0.8zM272.2,92.5h0.8v0.8h-0.8zM305.9,80.5h0.8v0.8h-0.8zM295.9,72.5h0.8v0.8h-0.8zM298.3,73.1h0.8v0.8h-0.8zM274.9,77.8h0.8v0.8h-0.8zM281.6,99.0h0.8v0.8h-0.8zM293.1,73.3h0.8v0.8h-0.8zM295.9,100.3h0.8v0.8h-0.8zM289.8,99.7h0.8v0.8h-0.8zM308.3,89.4h0.8v0.8h-0.8zM280.1,99.9h0.8v0.8h-0.8zM304.7,76.2h0.8v0.8h-0.8zM287.8,99.7h0.8v0.8h-0.8zM305.2,94.5h0.8v0.8h-0.8zM284.8,72.7h0.8v0.8h-0.8zM291.4,100.4h0.8v0.8h-0.8zM275.2,76.4h0.8v0.8h-0.8zM289.2,71.5h0.8v0.8h-0.8zM280.2,74.9h0.8v0.8h-0.8zM299.5,74.8h0.8v0.8h-0.8zM272.4,80.7h0.8v0.8h-0.8zM288.1,72.8h0.8v0.8h-0.8zM289.8,100.1h0.8v0.8h-0.8zM301.0,98.7h0.8v0.8h-0.8zM273.1,79.9h0.8v0.8h-0.8zM273.2,95.6h0.8v0.8h-0.8zM296.5,72.8h0.8v0.8h-0.8zM307.5,85.6h0.8v0.8h-0.8zM300.4,73.7h0.8v0.8h-0.8zM307.5,89.9h0.8v0.8h-0.8zM302.9,95.6h0.8v0.8h-0.8zM308.6,84.0h0.8v0.8h-0.8zM306.5,80.5h0.8v0.8h-0.8zM302.2,75.9h0.8v0.8h-0.8zM306.5,81.9h0.8v0.8h-0.8zM273.5,78.2h0.8v0.8h-0.8zM293.3,100.1h0.8v0.8h-0.8zM301.0,97.0h0.8v0.8h-0.8zM278.9,75.3h0.8v0.8h-0.8zM308.1,87.4h0.8v0.8h-0.8zM281.6,74.2h0.8v0.8h-0.8zM282.5,99.0h0.8v0.8h-0.8zM294.9,72.7h0.8v0.8h-0.8zM306.1,91.6h0.8v0.8h-0.8zM274.3,95.2h0.8v0.8h-0.8zM278.0,76.1h0.8v0.8h-0.8zM299.6,98.9h0.8v0.8h-0.8zM273.9,93.8h0.8v0.8h-0.8zM282.1,99.7h0.8v0.8h-0.8zM277.7,97.4h0.8v0.8h-0.8zM303.0,74.9h0.8v0.8h-0.8zM277.5,96.7h0.8v0.8h-0.8zM287.0,72.9h0.8v0.8h-0.8zM309.7,87.0h0.8v0.8h-0.8zM272.7,94.7h0.8v0.8h-0.8zM308.7,87.7h0.8v0.8h-0.8zM276.7,74.8h0.8v0.8h-0.8zM306.0,94.1h0.8v0.8h-0.8zM276.3,96.7h0.8v0.8h-0.8zM300.8,97.3h0.8v0.8h-0.8zM304.3,95.4h0.8v0.8h-0.8zM296.4,72.1h0.8v0.8h-0.8zM295.4,99.1h0.8v0.8h-0.8zM308.6,81.1h0.8v0.8h-0.8zM306.3,80.1h0.8v0.8h-0.8zM305.5,78.2h0.8v0.8h-0.8zM297.7,74.3h0.8v0.8h-0.8zM293.6,73.1h0.8v0.8h-0.8zM272.9,94.8h0.8v0.8h-0.8zM298.2,74.5h0.8v0.8h-0.8zM293.2,100.1h0.8v0.8h-0.8zM302.7,96.0h0.8v0.8h-0.8zM286.3,71.6h0.8v0.8h-0.8zM308.2,90.1h0.8v0.8h-0.8zM290.3,73.1h0.8v0.8h-0.8zM299.0,75.0h0.8v0.8h-0.8zM273.9,78.0h0.8v0.8h-0.8zM276.5,76.5h0.8v0.8h-0.8zM272.5,93.3h0.8v0.8h-0.8zM272.0,92.9h0.8v0.8h-0.8zM308.7,88.5h0.8v0.8h-0.8zM291.2,71.7h0.8v0.8h-0.8zM302.6,96.6h0.8v0.8h-0.8zM305.4,94.1h0.8v0.8h-0.8zM277.7,76.3h0.8v0.8h-0.8zM287.4,71.7h0.8v0.8h-0.8zM306.8,82.3h0.8v0.8h-0.8zM302.3,74.5h0.8v0.8h-0.8zM287.3,71.6h0.8v0.8h-0.8zM305.2,79.6h0.8v0.8h-0.8zM294.3,71.7h0.8v0.8h-0.8zM306.7,92.0h0.8v0.8h-0.8zM290.2,72.9h0.8v0.8h-0.8zM304.2,78.1h0.8v0.8h-0.8zM296.8,74.0h0.8v0.8h-0.8zM294.3,99.7h0.8v0.8h-0.8zM307.3,89.5h0.8v0.8h-0.8zM300.3,99.2h0.8v0.8h-0.8zM280.9,72.8h0.8v0.8h-0.8zM299.2,99.3h0.8v0.8h-0.8zM303.9,95.8h0.8v0.8h-0.8zM277.2,75.9h0.8v0.8h-0.8zM303.0,76.1h0.8v0.8h-0.8zM305.7,95.7h0.8v0.8h-0.8zM276.6,76.2h0.8v0.8h-0.8zM295.0,73.3h0.8v0.8h-0.8zM308.8,85.5h0.8v0.8h-0.8zM276.8,97.8h0.8v0.8h-0.8zM272.4,91.2h0.8v0.8h-0.8zM288.8,73.1h0.8v0.8h-0.8zM297.3,74.0h0.8v0.8h-0.8zM276.4,74.7h0.8v0.8h-0.8zM272.7,78.9h0.8v0.8h-0.8zM282.7,98.6h0.8v0.8h-0.8zM307.3,89.2h0.8v0.8h-0.8zM275.4,77.0h0.8v0.8h-0.8zM301.9,96.5h0.8v0.8h-0.8zM279.3,75.5h0.8v0.8h-0.8zM308.2,86.6h0.8v0.8h-0.8zM304.2,95.0h0.8v0.8h-0.8z" fill="#1c1c1c"/><path d="M292.6,100.3h0.8v0.8h-0.8zM274.3,79.3h0.8v0.8h-0.8zM276.2,76.6h0.8v0.8h-0.8zM302.7,97.5h0.8v0.8h-0.8zM290.2,99.6h0.8v0.8h-0.8zM305.3,94.5h0.8v0.8h-0.8zM303.0,75.9h0.8v0.8h-0.8zM274.7,94.2h0.8v0.8h-0.8zM308.6,87.4h0.8v0.8h-0.8zM272.5,81.2h0.8v0.8h-0.8zM278.2,75.4h0.8v0.8h-0.8zM307.4,80.9h0.8v0.8h-0.8zM307.6,90.2h0.8v0.8h-0.8zM274.5,93.9h0.8v0.8h-0.8zM307.7,91.6h0.8v0.8h-0.8zM308.3,87.5h0.8v0.8h-0.8zM306.1,81.6h0.8v0.8h-0.8zM295.4,99.9h0.8v0.8h-0.8zM296.4,74.2h0.8v0.8h-0.8zM282.9,99.0h0.8v0.8h-0.8z" fill="#3a468f"/><path d="M299.40,86.60 L299.35,87.31 L299.20,88.02 L298.96,88.70 L298.62,89.36 L298.18,89.98 L297.66,90.56 L297.05,91.09 L296.36,91.55 L295.59,91.96 L294.76,92.29 L293.86,92.56 L292.90,92.75 L291.89,92.87 L290.85,92.91 L289.76,92.88 L288.66,92.79 L287.53,92.62 L286.40,92.40 L285.27,92.12 L284.14,91.79 L283.04,91.42 L281.95,91.02 L280.91,90.59 L279.90,90.15 L278.94,89.70 L278.04,89.25 L277.21,88.82 L276.44,88.40 L275.75,88.01 L275.14,87.66 L274.62,87.35 L274.18,87.09 L273.84,86.88 L273.60,86.72 L273.45,86.63 L273.40,86.60 L273.45,86.57 L273.60,86.48 L273.84,86.32 L274.18,86.11 L274.62,85.85 L275.14,85.54 L275.75,85.19 L276.44,84.80 L277.21,84.38 L278.04,83.95 L278.94,83.50 L279.90,83.05 L280.91,82.61 L281.95,82.18 L283.04,81.78 L284.14,81.41 L285.27,81.08 L286.40,80.80 L287.53,80.58 L288.66,80.41 L289.76,80.32 L290.85,80.29 L291.89,80.33 L292.90,80.45 L293.86,80.64 L294.76,80.91 L295.59,81.24 L296.36,81.65 L297.05,82.11 L297.66,82.64 L298.18,83.22 L298.62,83.84 L298.96,84.50 L299.20,85.18 L299.35,85.89Z" fill="#fafafa"/><path d="M298.51,86.31 L298.47,86.94 L298.34,87.56 L298.12,88.16 L297.82,88.74 L297.44,89.29 L296.98,89.80 L296.44,90.26 L295.84,90.67 L295.16,91.03 L294.43,91.32 L293.63,91.56 L292.79,91.72 L291.91,91.83 L290.98,91.87 L290.03,91.84 L289.06,91.76 L288.07,91.61 L287.07,91.41 L286.07,91.17 L285.09,90.88 L284.11,90.56 L283.16,90.20 L282.24,89.83 L281.35,89.44 L280.51,89.04 L279.72,88.65 L278.98,88.26 L278.31,87.90 L277.70,87.56 L277.16,87.25 L276.70,86.97 L276.32,86.74 L276.02,86.56 L275.81,86.42 L275.68,86.34 L275.63,86.31 L275.68,86.28 L275.81,86.20 L276.02,86.07 L276.32,85.88 L276.70,85.65 L277.16,85.38 L277.70,85.07 L278.31,84.73 L278.98,84.36 L279.72,83.98 L280.51,83.58 L281.35,83.19 L282.24,82.80 L283.16,82.42 L284.11,82.07 L285.09,81.74 L286.07,81.46 L287.07,81.21 L288.07,81.01 L289.06,80.87 L290.03,80.78 L290.98,80.76 L291.91,80.80 L292.79,80.90 L293.63,81.07 L294.43,81.30 L295.16,81.60 L295.84,81.95 L296.44,82.36 L296.98,82.83 L297.44,83.33 L297.82,83.88 L298.12,84.46 L298.34,85.06 L298.47,85.68Z M297.48,85.98 L297.44,86.50 L297.33,87.03 L297.15,87.53 L296.90,88.02 L296.57,88.48 L296.19,88.91 L295.74,89.30 L295.23,89.64 L294.66,89.94 L294.04,90.19 L293.37,90.38 L292.67,90.53 L291.92,90.61 L291.15,90.65 L290.35,90.63 L289.53,90.55 L288.69,90.43 L287.86,90.27 L287.02,90.06 L286.19,89.82 L285.37,89.54 L284.57,89.25 L283.79,88.93 L283.05,88.60 L282.34,88.27 L281.67,87.94 L281.05,87.62 L280.49,87.31 L279.98,87.02 L279.52,86.76 L279.14,86.53 L278.82,86.34 L278.56,86.18 L278.38,86.07 L278.27,86.00 L278.24,85.98 L278.27,85.95 L278.38,85.88 L278.56,85.77 L278.82,85.62 L279.14,85.42 L279.52,85.19 L279.98,84.93 L280.49,84.64 L281.05,84.33 L281.67,84.01 L282.34,83.68 L283.05,83.35 L283.79,83.02 L284.57,82.71 L285.37,82.41 L286.19,82.13 L287.02,81.89 L287.86,81.69 L288.69,81.52 L289.53,81.40 L290.35,81.33 L291.15,81.31 L291.92,81.34 L292.67,81.42 L293.37,81.57 L294.04,81.76 L294.66,82.01 L295.23,82.31 L295.74,82.66 L296.19,83.05 L296.57,83.47 L296.90,83.93 L297.15,84.42 L297.33,84.93 L297.44,85.45Z M296.51,85.66 L296.48,86.10 L296.39,86.53 L296.24,86.95 L296.04,87.35 L295.77,87.73 L295.45,88.08 L295.08,88.40 L294.66,88.69 L294.19,88.93 L293.68,89.14 L293.13,89.30 L292.55,89.42 L291.94,89.49 L291.30,89.51 L290.64,89.50 L289.96,89.44 L289.28,89.34 L288.58,89.20 L287.89,89.03 L287.21,88.83 L286.53,88.61 L285.87,88.36 L285.23,88.10 L284.62,87.83 L284.04,87.56 L283.49,87.28 L282.98,87.02 L282.51,86.76 L282.09,86.53 L281.72,86.31 L281.40,86.12 L281.13,85.96 L280.92,85.83 L280.77,85.74 L280.68,85.68 L280.65,85.66 L280.68,85.64 L280.77,85.59 L280.92,85.50 L281.13,85.37 L281.40,85.21 L281.72,85.02 L282.09,84.80 L282.51,84.56 L282.98,84.31 L283.49,84.04 L284.04,83.77 L284.62,83.50 L285.23,83.23 L285.87,82.97 L286.53,82.72 L287.21,82.50 L287.89,82.30 L288.58,82.13 L289.28,81.99 L289.96,81.89 L290.64,81.83 L291.30,81.81 L291.94,81.84 L292.55,81.91 L293.13,82.03 L293.68,82.19 L294.19,82.40 L294.66,82.64 L295.08,82.93 L295.45,83.25 L295.77,83.60 L296.04,83.98 L296.24,84.38 L296.39,84.80 L296.48,85.23Z M295.63,85.38 L295.60,85.73 L295.53,86.07 L295.41,86.41 L295.24,86.73 L295.03,87.03 L294.77,87.32 L294.47,87.57 L294.14,87.80 L293.76,88.00 L293.35,88.17 L292.91,88.30 L292.44,88.39 L291.95,88.45 L291.43,88.47 L290.90,88.46 L290.36,88.41 L289.81,88.33 L289.26,88.22 L288.70,88.08 L288.15,87.92 L287.61,87.74 L287.08,87.54 L286.56,87.33 L286.07,87.12 L285.60,86.90 L285.16,86.68 L284.75,86.46 L284.38,86.26 L284.04,86.07 L283.74,85.90 L283.48,85.74 L283.27,85.61 L283.10,85.51 L282.98,85.44 L282.91,85.39 L282.89,85.38 L282.91,85.36 L282.98,85.32 L283.10,85.24 L283.27,85.14 L283.48,85.01 L283.74,84.86 L284.04,84.68 L284.38,84.49 L284.75,84.29 L285.16,84.08 L285.60,83.86 L286.07,83.64 L286.56,83.42 L287.08,83.21 L287.61,83.01 L288.15,82.83 L288.70,82.67 L289.26,82.53 L289.81,82.42 L290.36,82.34 L290.90,82.30 L291.43,82.28 L291.95,82.30 L292.44,82.36 L292.91,82.46 L293.35,82.59 L293.76,82.75 L294.14,82.95 L294.47,83.18 L294.77,83.44 L295.03,83.72 L295.24,84.02 L295.41,84.34 L295.53,84.68 L295.60,85.03Z M294.74,85.09 L294.72,85.35 L294.66,85.61 L294.57,85.87 L294.45,86.11 L294.29,86.34 L294.09,86.55 L293.87,86.75 L293.61,86.92 L293.33,87.07 L293.02,87.19 L292.69,87.29 L292.33,87.36 L291.96,87.41 L291.57,87.42 L291.17,87.41 L290.76,87.38 L290.35,87.32 L289.93,87.23 L289.51,87.13 L289.09,87.01 L288.68,86.87 L288.28,86.72 L287.90,86.57 L287.52,86.40 L287.17,86.24 L286.84,86.07 L286.53,85.91 L286.24,85.76 L285.99,85.61 L285.76,85.48 L285.57,85.37 L285.41,85.27 L285.28,85.19 L285.19,85.13 L285.14,85.10 L285.12,85.09 L285.14,85.08 L285.19,85.04 L285.28,84.99 L285.41,84.91 L285.57,84.81 L285.76,84.70 L285.99,84.56 L286.24,84.42 L286.53,84.27 L286.84,84.11 L287.17,83.94 L287.52,83.77 L287.90,83.61 L288.28,83.45 L288.68,83.30 L289.09,83.17 L289.51,83.05 L289.93,82.94 L290.35,82.86 L290.76,82.80 L291.17,82.76 L291.57,82.75 L291.96,82.77 L292.33,82.81 L292.69,82.88 L293.02,82.98 L293.33,83.11 L293.61,83.26 L293.87,83.43 L294.09,83.62 L294.29,83.84 L294.45,84.07 L294.57,84.31 L294.66,84.56 L294.72,84.82Z M293.85,84.80 L293.84,84.98 L293.80,85.15 L293.74,85.33 L293.65,85.49 L293.55,85.65 L293.41,85.79 L293.26,85.92 L293.09,86.04 L292.90,86.14 L292.69,86.22 L292.46,86.29 L292.23,86.34 L291.97,86.37 L291.71,86.38 L291.44,86.37 L291.16,86.35 L290.88,86.31 L290.60,86.25 L290.32,86.18 L290.04,86.10 L289.76,86.01 L289.49,85.90 L289.23,85.80 L288.98,85.69 L288.74,85.58 L288.51,85.46 L288.30,85.35 L288.11,85.25 L287.94,85.15 L287.79,85.07 L287.65,84.99 L287.55,84.92 L287.46,84.87 L287.40,84.83 L287.36,84.81 L287.35,84.80 L287.36,84.79 L287.40,84.77 L287.46,84.73 L287.55,84.68 L287.65,84.61 L287.79,84.53 L287.94,84.45 L288.11,84.35 L288.30,84.25 L288.51,84.14 L288.74,84.02 L288.98,83.91 L289.23,83.80 L289.49,83.70 L289.76,83.59 L290.04,83.50 L290.32,83.42 L290.60,83.35 L290.88,83.29 L291.16,83.25 L291.44,83.23 L291.71,83.22 L291.97,83.23 L292.23,83.26 L292.46,83.31 L292.69,83.38 L292.90,83.46 L293.09,83.56 L293.26,83.68 L293.41,83.81 L293.55,83.95 L293.65,84.11 L293.74,84.27 L293.80,84.45 L293.84,84.62Z" fill="none" stroke="#2a2a2a" stroke-width="0.7"/><ellipse cx="292.0" cy="84.2" rx="1.7" ry="1.1" fill="#fff"/></g>
<clipPath id="c17"><rect x="271.95" y="109.85000000000001" width="77.1" height="77.0"/></clipPath>
<g clip-path="url(#c17)"><path d="M307.80,171.40 L308.04,172.62 L308.07,173.87 L307.86,175.11 L307.37,176.31 L306.63,177.42 L305.67,178.44 L304.54,179.34 L303.33,180.15 L302.07,180.88 L300.82,181.57 L299.58,182.25 L298.33,182.94 L297.06,183.62 L295.72,184.28 L294.29,184.87 L292.76,185.34 L291.15,185.65 L289.50,185.75 L287.85,185.65 L286.24,185.34 L284.71,184.87 L283.28,184.28 L281.94,183.62 L280.67,182.94 L279.42,182.25 L278.18,181.57 L276.93,180.88 L275.67,180.15 L274.46,179.34 L273.33,178.44 L272.37,177.42 L271.63,176.31 L271.14,175.11 L270.93,173.87 L270.96,172.62 L271.20,171.40 L271.58,170.22 L272.03,169.08 L272.51,167.97 L272.98,166.87 L273.46,165.76 L273.97,164.64 L274.56,163.51 L275.29,162.41 L276.19,161.37 L277.29,160.43 L278.59,159.65 L280.03,159.03 L281.59,158.61 L283.20,158.34 L284.81,158.21 L286.40,158.16 L287.96,158.15 L289.50,158.15 L291.04,158.15 L292.60,158.16 L294.19,158.21 L295.80,158.34 L297.41,158.61 L298.97,159.03 L300.41,159.65 L301.71,160.43 L302.81,161.37 L303.71,162.41 L304.44,163.51 L305.03,164.64 L305.54,165.76 L306.02,166.87 L306.49,167.97 L306.97,169.08 L307.42,170.22Z M301.75,170.60 L301.58,169.81 L301.32,169.04 L300.94,168.30 L300.47,167.60 L299.90,166.96 L299.23,166.37 L298.48,165.84 L297.64,165.39 L296.73,165.01 L295.74,164.72 L294.70,164.50 L293.60,164.37 L292.46,164.32 L291.28,164.35 L290.07,164.46 L288.84,164.64 L287.60,164.89 L286.36,165.21 L285.13,165.58 L283.92,165.99 L282.74,166.44 L281.60,166.92 L280.50,167.42 L279.46,167.92 L278.47,168.42 L277.56,168.91 L276.72,169.38 L275.97,169.81 L275.30,170.21 L274.73,170.56 L274.26,170.85 L273.88,171.09 L273.62,171.26 L273.45,171.37 L273.40,171.40 L273.45,171.43 L273.62,171.54 L273.88,171.71 L274.26,171.95 L274.73,172.24 L275.30,172.59 L275.97,172.99 L276.72,173.42 L277.56,173.89 L278.47,174.38 L279.46,174.88 L280.50,175.38 L281.60,175.88 L282.74,176.36 L283.92,176.81 L285.13,177.22 L286.36,177.59 L287.60,177.91 L288.84,178.16 L290.07,178.34 L291.28,178.45 L292.46,178.48 L293.60,178.43 L294.70,178.30 L295.74,178.08 L296.73,177.79 L297.64,177.41 L298.48,176.96 L299.23,176.43 L299.90,175.84 L300.47,175.20 L300.94,174.50 L301.32,173.76 L301.58,172.99 L301.75,172.20 L301.80,171.40Z" fill="#161616" fill-rule="evenodd"/><path d="M306.4,175.4h0.6v0.6h-0.6zM292.9,159.0h0.6v0.6h-0.6zM306.9,171.9h0.6v0.6h-0.6zM289.0,159.8h0.6v0.6h-0.6zM288.7,159.9h0.6v0.6h-0.6zM291.5,181.4h0.6v0.6h-0.6zM290.9,181.2h0.6v0.6h-0.6zM280.8,182.4h0.6v0.6h-0.6zM283.6,159.0h0.6v0.6h-0.6zM286.1,160.9h0.6v0.6h-0.6zM275.2,167.6h0.6v0.6h-0.6zM293.3,159.9h0.6v0.6h-0.6zM287.9,183.7h0.6v0.6h-0.6zM303.2,169.1h0.6v0.6h-0.6zM298.9,164.7h0.6v0.6h-0.6zM288.6,182.0h0.6v0.6h-0.6zM288.8,157.8h0.6v0.6h-0.6zM289.1,160.4h0.6v0.6h-0.6zM300.2,163.9h0.6v0.6h-0.6zM290.7,184.8h0.6v0.6h-0.6zM278.2,162.2h0.6v0.6h-0.6zM280.3,159.6h0.6v0.6h-0.6zM272.4,173.9h0.6v0.6h-0.6zM283.8,158.9h0.6v0.6h-0.6zM274.0,176.3h0.6v0.6h-0.6zM276.4,166.7h0.6v0.6h-0.6zM293.3,183.3h0.6v0.6h-0.6zM305.2,177.7h0.6v0.6h-0.6zM297.5,179.1h0.6v0.6h-0.6zM303.5,179.8h0.6v0.6h-0.6zM281.9,179.9h0.6v0.6h-0.6zM302.3,173.2h0.6v0.6h-0.6zM283.8,159.9h0.6v0.6h-0.6zM284.0,159.4h0.6v0.6h-0.6zM304.2,176.3h0.6v0.6h-0.6zM278.2,181.3h0.6v0.6h-0.6zM297.0,159.3h0.6v0.6h-0.6zM305.6,176.7h0.6v0.6h-0.6zM305.0,164.4h0.6v0.6h-0.6zM300.4,178.0h0.6v0.6h-0.6zM299.4,177.7h0.6v0.6h-0.6zM299.4,160.8h0.6v0.6h-0.6zM278.0,161.6h0.6v0.6h-0.6zM279.8,163.4h0.6v0.6h-0.6zM300.3,177.3h0.6v0.6h-0.6zM290.1,160.9h0.6v0.6h-0.6zM283.1,181.8h0.6v0.6h-0.6zM303.6,172.8h0.6v0.6h-0.6zM286.1,183.8h0.6v0.6h-0.6zM279.7,179.5h0.6v0.6h-0.6zM304.7,168.8h0.6v0.6h-0.6zM299.1,161.6h0.6v0.6h-0.6zM304.3,173.6h0.6v0.6h-0.6zM273.8,176.4h0.6v0.6h-0.6zM280.0,181.7h0.6v0.6h-0.6zM275.9,168.9h0.6v0.6h-0.6zM298.1,163.8h0.6v0.6h-0.6zM295.3,162.0h0.6v0.6h-0.6zM303.4,171.5h0.6v0.6h-0.6zM290.9,157.7h0.6v0.6h-0.6zM305.0,171.7h0.6v0.6h-0.6zM272.3,172.1h0.6v0.6h-0.6zM295.7,182.1h0.6v0.6h-0.6zM279.5,182.1h0.6v0.6h-0.6zM288.3,184.9h0.6v0.6h-0.6zM286.6,181.7h0.6v0.6h-0.6zM284.6,160.3h0.6v0.6h-0.6zM302.1,179.2h0.6v0.6h-0.6zM304.5,177.7h0.6v0.6h-0.6zM283.9,159.2h0.6v0.6h-0.6zM279.3,163.4h0.6v0.6h-0.6zM277.3,178.0h0.6v0.6h-0.6zM299.8,165.0h0.6v0.6h-0.6zM299.4,165.1h0.6v0.6h-0.6zM293.4,181.7h0.6v0.6h-0.6zM302.2,164.6h0.6v0.6h-0.6zM276.7,180.6h0.6v0.6h-0.6zM291.1,182.9h0.6v0.6h-0.6zM272.9,168.9h0.6v0.6h-0.6zM289.8,159.1h0.6v0.6h-0.6zM281.0,180.4h0.6v0.6h-0.6zM299.3,182.3h0.6v0.6h-0.6zM280.6,160.6h0.6v0.6h-0.6zM296.9,181.4h0.6v0.6h-0.6zM291.8,159.5h0.6v0.6h-0.6zM300.3,179.6h0.6v0.6h-0.6zM300.1,164.4h0.6v0.6h-0.6zM294.7,181.6h0.6v0.6h-0.6zM284.4,158.8h0.6v0.6h-0.6zM297.2,179.9h0.6v0.6h-0.6zM289.7,182.4h0.6v0.6h-0.6zM275.9,170.0h0.6v0.6h-0.6zM283.0,180.6h0.6v0.6h-0.6zM306.1,169.4h0.6v0.6h-0.6zM304.0,179.5h0.6v0.6h-0.6zM301.5,178.1h0.6v0.6h-0.6zM306.6,170.1h0.6v0.6h-0.6zM287.9,160.0h0.6v0.6h-0.6zM294.9,183.0h0.6v0.6h-0.6zM300.4,177.9h0.6v0.6h-0.6zM279.6,177.7h0.6v0.6h-0.6zM275.7,179.1h0.6v0.6h-0.6zM284.1,160.4h0.6v0.6h-0.6zM279.2,162.8h0.6v0.6h-0.6zM299.6,180.9h0.6v0.6h-0.6zM275.6,178.6h0.6v0.6h-0.6zM302.2,165.1h0.6v0.6h-0.6zM274.4,165.7h0.6v0.6h-0.6zM277.1,176.4h0.6v0.6h-0.6zM286.4,158.3h0.6v0.6h-0.6zM292.0,159.0h0.6v0.6h-0.6zM299.4,161.4h0.6v0.6h-0.6zM279.9,162.4h0.6v0.6h-0.6zM283.2,182.7h0.6v0.6h-0.6zM301.8,178.0h0.6v0.6h-0.6zM292.9,159.0h0.6v0.6h-0.6zM279.8,163.6h0.6v0.6h-0.6zM275.9,176.7h0.6v0.6h-0.6zM278.6,163.5h0.6v0.6h-0.6zM281.4,159.4h0.6v0.6h-0.6zM296.2,182.7h0.6v0.6h-0.6zM292.1,160.3h0.6v0.6h-0.6zM304.8,174.2h0.6v0.6h-0.6zM298.6,182.3h0.6v0.6h-0.6zM304.1,167.1h0.6v0.6h-0.6zM302.4,178.5h0.6v0.6h-0.6zM273.3,168.2h0.6v0.6h-0.6zM273.2,170.5h0.6v0.6h-0.6zM297.0,161.0h0.6v0.6h-0.6zM274.3,178.7h0.6v0.6h-0.6zM293.6,183.5h0.6v0.6h-0.6zM276.2,179.4h0.6v0.6h-0.6zM302.6,181.0h0.6v0.6h-0.6zM281.4,179.2h0.6v0.6h-0.6zM287.2,182.6h0.6v0.6h-0.6zM304.6,172.4h0.6v0.6h-0.6zM274.9,177.4h0.6v0.6h-0.6zM281.0,180.0h0.6v0.6h-0.6zM292.2,184.0h0.6v0.6h-0.6zM304.1,167.0h0.6v0.6h-0.6zM292.8,184.1h0.6v0.6h-0.6zM278.6,178.0h0.6v0.6h-0.6zM301.2,180.7h0.6v0.6h-0.6zM295.5,160.0h0.6v0.6h-0.6zM273.9,173.7h0.6v0.6h-0.6zM292.2,184.9h0.6v0.6h-0.6zM279.7,181.2h0.6v0.6h-0.6zM296.7,159.6h0.6v0.6h-0.6zM275.4,173.6h0.6v0.6h-0.6zM276.6,168.4h0.6v0.6h-0.6zM296.9,161.8h0.6v0.6h-0.6zM297.9,162.7h0.6v0.6h-0.6zM279.4,178.9h0.6v0.6h-0.6zM277.1,176.1h0.6v0.6h-0.6zM306.3,171.6h0.6v0.6h-0.6zM286.7,181.9h0.6v0.6h-0.6zM284.6,182.4h0.6v0.6h-0.6zM274.8,176.7h0.6v0.6h-0.6zM281.5,162.0h0.6v0.6h-0.6zM305.3,165.7h0.6v0.6h-0.6zM305.8,176.0h0.6v0.6h-0.6zM303.7,164.2h0.6v0.6h-0.6zM300.5,181.5h0.6v0.6h-0.6zM280.9,164.2h0.6v0.6h-0.6zM307.5,172.4h0.6v0.6h-0.6zM281.6,162.5h0.6v0.6h-0.6zM300.4,177.5h0.6v0.6h-0.6zM291.3,184.2h0.6v0.6h-0.6zM281.7,179.9h0.6v0.6h-0.6zM303.6,164.1h0.6v0.6h-0.6zM298.2,183.0h0.6v0.6h-0.6zM276.2,163.3h0.6v0.6h-0.6zM280.8,159.8h0.6v0.6h-0.6zM293.6,158.6h0.6v0.6h-0.6zM294.9,183.2h0.6v0.6h-0.6zM272.9,169.0h0.6v0.6h-0.6zM273.1,176.4h0.6v0.6h-0.6zM276.1,167.8h0.6v0.6h-0.6zM290.8,181.6h0.6v0.6h-0.6zM276.4,171.8h0.6v0.6h-0.6zM276.2,173.5h0.6v0.6h-0.6zM274.0,172.0h0.6v0.6h-0.6zM272.5,168.1h0.6v0.6h-0.6zM306.9,171.9h0.6v0.6h-0.6zM273.9,173.8h0.6v0.6h-0.6zM280.7,160.1h0.6v0.6h-0.6zM278.8,179.5h0.6v0.6h-0.6zM302.3,169.0h0.6v0.6h-0.6zM278.9,162.1h0.6v0.6h-0.6zM305.4,173.6h0.6v0.6h-0.6zM282.1,159.1h0.6v0.6h-0.6zM280.7,183.4h0.6v0.6h-0.6zM274.1,170.6h0.6v0.6h-0.6zM299.9,165.5h0.6v0.6h-0.6zM286.3,159.4h0.6v0.6h-0.6zM280.2,182.6h0.6v0.6h-0.6zM279.2,180.1h0.6v0.6h-0.6zM272.7,169.3h0.6v0.6h-0.6zM293.2,182.5h0.6v0.6h-0.6z" fill="#ffffff"/><path d="M275.5,177.0h0.8v0.8h-0.8zM296.2,161.8h0.8v0.8h-0.8zM296.6,161.4h0.8v0.8h-0.8zM275.2,171.1h0.8v0.8h-0.8zM279.8,160.7h0.8v0.8h-0.8zM282.4,181.0h0.8v0.8h-0.8zM284.6,182.9h0.8v0.8h-0.8zM278.2,161.7h0.8v0.8h-0.8zM305.7,174.6h0.8v0.8h-0.8zM301.4,163.6h0.8v0.8h-0.8zM303.3,174.7h0.8v0.8h-0.8zM303.3,171.8h0.8v0.8h-0.8zM303.7,165.6h0.8v0.8h-0.8zM280.1,160.6h0.8v0.8h-0.8zM303.1,164.9h0.8v0.8h-0.8zM277.4,163.2h0.8v0.8h-0.8zM284.2,160.0h0.8v0.8h-0.8zM283.6,161.8h0.8v0.8h-0.8zM281.9,161.4h0.8v0.8h-0.8zM290.6,161.4h0.8v0.8h-0.8zM294.9,180.3h0.8v0.8h-0.8zM292.2,158.1h0.8v0.8h-0.8zM281.2,162.1h0.8v0.8h-0.8zM297.0,159.8h0.8v0.8h-0.8zM276.3,167.3h0.8v0.8h-0.8zM284.6,182.2h0.8v0.8h-0.8zM283.2,181.8h0.8v0.8h-0.8zM278.2,160.9h0.8v0.8h-0.8zM304.5,175.4h0.8v0.8h-0.8zM302.6,173.9h0.8v0.8h-0.8zM295.4,160.2h0.8v0.8h-0.8zM302.8,165.8h0.8v0.8h-0.8zM304.4,172.4h0.8v0.8h-0.8zM274.5,164.0h0.8v0.8h-0.8zM304.8,170.0h0.8v0.8h-0.8zM278.1,176.7h0.8v0.8h-0.8zM280.9,163.1h0.8v0.8h-0.8zM297.0,179.3h0.8v0.8h-0.8zM306.1,171.8h0.8v0.8h-0.8zM302.6,180.9h0.8v0.8h-0.8zM304.5,178.4h0.8v0.8h-0.8zM298.4,178.5h0.8v0.8h-0.8zM286.8,160.9h0.8v0.8h-0.8zM288.1,161.0h0.8v0.8h-0.8zM305.7,175.4h0.8v0.8h-0.8zM285.5,158.5h0.8v0.8h-0.8zM287.8,161.5h0.8v0.8h-0.8zM278.0,162.3h0.8v0.8h-0.8zM272.1,174.7h0.8v0.8h-0.8zM289.0,185.0h0.8v0.8h-0.8zM286.9,161.9h0.8v0.8h-0.8zM305.8,172.5h0.8v0.8h-0.8zM294.9,162.3h0.8v0.8h-0.8zM283.2,183.2h0.8v0.8h-0.8zM298.3,182.8h0.8v0.8h-0.8zM276.4,172.3h0.8v0.8h-0.8zM278.7,180.3h0.8v0.8h-0.8zM274.2,176.1h0.8v0.8h-0.8zM300.0,181.6h0.8v0.8h-0.8z" fill="#9aa0c8"/><path d="M276.8,182.5h0.8v0.8h-0.8zM276.5,161.0h0.8v0.8h-0.8zM274.5,181.3h0.8v0.8h-0.8zM308.2,166.3h0.8v0.8h-0.8zM272.6,165.7h0.8v0.8h-0.8zM308.5,177.1h0.8v0.8h-0.8zM283.7,156.9h0.8v0.8h-0.8zM279.9,184.1h0.8v0.8h-0.8zM309.3,169.3h0.8v0.8h-0.8zM274.5,163.1h0.8v0.8h-0.8zM275.5,181.8h0.8v0.8h-0.8zM273.3,162.3h0.8v0.8h-0.8zM296.0,158.3h0.8v0.8h-0.8zM308.0,171.5h0.8v0.8h-0.8zM272.4,178.2h0.8v0.8h-0.8zM297.6,157.5h0.8v0.8h-0.8zM308.8,175.4h0.8v0.8h-0.8zM297.1,157.3h0.8v0.8h-0.8zM272.9,165.3h0.8v0.8h-0.8zM301.4,159.3h0.8v0.8h-0.8zM281.4,157.4h0.8v0.8h-0.8zM279.2,182.5h0.8v0.8h-0.8zM295.6,185.6h0.8v0.8h-0.8zM306.2,165.6h0.8v0.8h-0.8zM274.1,162.2h0.8v0.8h-0.8zM294.4,157.6h0.8v0.8h-0.8zM306.5,179.3h0.8v0.8h-0.8zM292.1,157.7h0.8v0.8h-0.8zM303.9,161.8h0.8v0.8h-0.8zM296.3,184.2h0.8v0.8h-0.8zM297.8,184.9h0.8v0.8h-0.8zM276.9,182.4h0.8v0.8h-0.8zM273.8,179.7h0.8v0.8h-0.8zM300.1,182.3h0.8v0.8h-0.8zM308.3,171.1h0.8v0.8h-0.8zM304.8,180.5h0.8v0.8h-0.8zM293.7,158.1h0.8v0.8h-0.8zM274.2,163.3h0.8v0.8h-0.8zM309.5,174.6h0.8v0.8h-0.8zM302.2,160.7h0.8v0.8h-0.8zM272.7,165.7h0.8v0.8h-0.8zM293.0,157.4h0.8v0.8h-0.8zM308.2,166.5h0.8v0.8h-0.8zM298.0,157.4h0.8v0.8h-0.8zM289.1,184.9h0.8v0.8h-0.8zM295.0,184.5h0.8v0.8h-0.8zM305.0,178.2h0.8v0.8h-0.8zM304.6,164.2h0.8v0.8h-0.8zM274.1,163.2h0.8v0.8h-0.8zM304.4,181.9h0.8v0.8h-0.8zM288.6,185.9h0.8v0.8h-0.8zM276.6,159.5h0.8v0.8h-0.8zM280.4,159.0h0.8v0.8h-0.8zM272.3,175.8h0.8v0.8h-0.8zM309.5,168.1h0.8v0.8h-0.8zM292.7,184.7h0.8v0.8h-0.8zM288.8,185.5h0.8v0.8h-0.8zM306.1,162.6h0.8v0.8h-0.8zM298.8,159.9h0.8v0.8h-0.8zM294.0,156.9h0.8v0.8h-0.8zM277.1,159.1h0.8v0.8h-0.8zM306.5,176.1h0.8v0.8h-0.8zM290.1,156.1h0.8v0.8h-0.8zM281.3,158.8h0.8v0.8h-0.8zM272.9,163.3h0.8v0.8h-0.8zM304.2,180.0h0.8v0.8h-0.8zM288.7,185.0h0.8v0.8h-0.8zM290.8,185.0h0.8v0.8h-0.8zM281.7,159.4h0.8v0.8h-0.8zM285.8,157.9h0.8v0.8h-0.8zM309.3,174.8h0.8v0.8h-0.8zM303.0,160.1h0.8v0.8h-0.8zM301.6,182.4h0.8v0.8h-0.8zM306.1,180.2h0.8v0.8h-0.8zM300.2,159.1h0.8v0.8h-0.8zM297.9,158.5h0.8v0.8h-0.8zM276.9,161.5h0.8v0.8h-0.8zM292.7,184.7h0.8v0.8h-0.8zM285.1,157.2h0.8v0.8h-0.8zM301.9,183.4h0.8v0.8h-0.8zM287.6,185.6h0.8v0.8h-0.8zM299.8,183.0h0.8v0.8h-0.8zM299.5,159.5h0.8v0.8h-0.8zM298.9,183.9h0.8v0.8h-0.8zM281.1,185.3h0.8v0.8h-0.8zM304.9,181.5h0.8v0.8h-0.8zM308.4,176.7h0.8v0.8h-0.8zM280.5,159.4h0.8v0.8h-0.8zM288.6,185.2h0.8v0.8h-0.8zM276.0,183.0h0.8v0.8h-0.8zM309.8,171.2h0.8v0.8h-0.8zM304.7,179.4h0.8v0.8h-0.8zM303.7,163.2h0.8v0.8h-0.8zM286.8,157.6h0.8v0.8h-0.8zM307.1,169.6h0.8v0.8h-0.8zM296.1,158.2h0.8v0.8h-0.8zM300.8,181.7h0.8v0.8h-0.8zM299.0,158.8h0.8v0.8h-0.8zM296.9,184.5h0.8v0.8h-0.8zM305.1,164.1h0.8v0.8h-0.8zM273.2,165.5h0.8v0.8h-0.8zM297.9,185.0h0.8v0.8h-0.8zM285.1,158.0h0.8v0.8h-0.8zM305.3,177.9h0.8v0.8h-0.8zM274.7,162.3h0.8v0.8h-0.8zM286.8,185.1h0.8v0.8h-0.8zM274.5,161.8h0.8v0.8h-0.8zM296.8,157.9h0.8v0.8h-0.8zM294.8,184.3h0.8v0.8h-0.8zM287.5,157.3h0.8v0.8h-0.8zM286.3,158.1h0.8v0.8h-0.8zM296.4,158.3h0.8v0.8h-0.8zM300.5,158.7h0.8v0.8h-0.8zM305.6,163.7h0.8v0.8h-0.8zM302.3,161.4h0.8v0.8h-0.8zM297.3,185.3h0.8v0.8h-0.8zM277.3,181.6h0.8v0.8h-0.8zM276.1,182.0h0.8v0.8h-0.8zM308.7,171.8h0.8v0.8h-0.8zM303.8,181.6h0.8v0.8h-0.8zM297.7,157.5h0.8v0.8h-0.8zM281.0,184.8h0.8v0.8h-0.8zM274.9,181.5h0.8v0.8h-0.8zM308.2,177.1h0.8v0.8h-0.8zM307.8,167.3h0.8v0.8h-0.8zM272.2,168.3h0.8v0.8h-0.8zM307.5,168.6h0.8v0.8h-0.8zM296.9,183.8h0.8v0.8h-0.8zM307.2,174.0h0.8v0.8h-0.8zM283.7,158.3h0.8v0.8h-0.8zM308.8,173.0h0.8v0.8h-0.8zM272.5,164.7h0.8v0.8h-0.8zM284.2,158.4h0.8v0.8h-0.8zM303.0,160.5h0.8v0.8h-0.8zM306.9,175.2h0.8v0.8h-0.8zM286.2,184.8h0.8v0.8h-0.8zM274.5,179.0h0.8v0.8h-0.8zM272.6,163.1h0.8v0.8h-0.8zM301.1,183.0h0.8v0.8h-0.8zM289.1,157.7h0.8v0.8h-0.8zM298.8,157.8h0.8v0.8h-0.8zM275.0,180.6h0.8v0.8h-0.8zM299.8,159.2h0.8v0.8h-0.8zM273.4,180.8h0.8v0.8h-0.8zM292.6,157.5h0.8v0.8h-0.8zM290.6,185.5h0.8v0.8h-0.8zM296.3,157.0h0.8v0.8h-0.8zM297.5,157.5h0.8v0.8h-0.8zM307.6,176.2h0.8v0.8h-0.8zM309.1,167.4h0.8v0.8h-0.8zM289.6,185.7h0.8v0.8h-0.8zM276.9,160.9h0.8v0.8h-0.8zM272.0,177.3h0.8v0.8h-0.8zM307.5,173.2h0.8v0.8h-0.8zM309.0,168.6h0.8v0.8h-0.8zM307.5,165.7h0.8v0.8h-0.8zM296.8,157.2h0.8v0.8h-0.8zM302.9,162.5h0.8v0.8h-0.8zM277.9,160.6h0.8v0.8h-0.8zM281.5,158.8h0.8v0.8h-0.8zM276.2,161.8h0.8v0.8h-0.8zM307.2,167.2h0.8v0.8h-0.8zM282.8,185.2h0.8v0.8h-0.8zM303.6,181.4h0.8v0.8h-0.8zM307.9,167.5h0.8v0.8h-0.8zM287.3,185.7h0.8v0.8h-0.8zM302.4,181.0h0.8v0.8h-0.8zM284.4,185.1h0.8v0.8h-0.8zM285.1,184.9h0.8v0.8h-0.8zM305.9,179.0h0.8v0.8h-0.8zM299.9,159.0h0.8v0.8h-0.8zM295.4,185.6h0.8v0.8h-0.8zM275.0,162.1h0.8v0.8h-0.8zM282.7,184.3h0.8v0.8h-0.8zM292.9,185.6h0.8v0.8h-0.8zM275.1,181.2h0.8v0.8h-0.8zM308.2,172.5h0.8v0.8h-0.8zM301.4,160.8h0.8v0.8h-0.8zM283.9,185.8h0.8v0.8h-0.8zM299.2,182.8h0.8v0.8h-0.8zM302.6,161.1h0.8v0.8h-0.8zM306.9,176.8h0.8v0.8h-0.8zM303.7,180.2h0.8v0.8h-0.8zM308.6,167.6h0.8v0.8h-0.8zM300.0,183.0h0.8v0.8h-0.8zM277.7,183.2h0.8v0.8h-0.8zM274.5,161.3h0.8v0.8h-0.8zM297.8,158.4h0.8v0.8h-0.8zM288.1,156.5h0.8v0.8h-0.8zM290.7,157.1h0.8v0.8h-0.8zM293.8,156.9h0.8v0.8h-0.8zM305.1,164.4h0.8v0.8h-0.8zM301.7,161.7h0.8v0.8h-0.8zM291.4,156.9h0.8v0.8h-0.8zM272.5,165.2h0.8v0.8h-0.8zM293.7,156.5h0.8v0.8h-0.8zM274.8,162.6h0.8v0.8h-0.8zM286.4,157.6h0.8v0.8h-0.8zM274.6,180.6h0.8v0.8h-0.8zM275.6,180.7h0.8v0.8h-0.8zM294.1,156.7h0.8v0.8h-0.8zM297.0,184.2h0.8v0.8h-0.8zM301.3,182.9h0.8v0.8h-0.8zM273.8,164.7h0.8v0.8h-0.8zM305.8,164.6h0.8v0.8h-0.8zM300.6,158.8h0.8v0.8h-0.8zM307.2,167.9h0.8v0.8h-0.8zM307.3,172.3h0.8v0.8h-0.8zM272.0,165.7h0.8v0.8h-0.8zM306.9,164.2h0.8v0.8h-0.8zM282.1,158.4h0.8v0.8h-0.8zM277.4,182.8h0.8v0.8h-0.8zM277.4,183.8h0.8v0.8h-0.8zM280.9,158.4h0.8v0.8h-0.8zM304.8,179.6h0.8v0.8h-0.8zM273.8,179.9h0.8v0.8h-0.8zM308.1,168.2h0.8v0.8h-0.8zM308.2,171.1h0.8v0.8h-0.8zM298.4,183.7h0.8v0.8h-0.8zM309.3,169.4h0.8v0.8h-0.8zM305.0,162.3h0.8v0.8h-0.8zM298.3,157.5h0.8v0.8h-0.8zM303.9,162.2h0.8v0.8h-0.8zM299.8,183.0h0.8v0.8h-0.8zM296.4,184.1h0.8v0.8h-0.8zM276.2,160.7h0.8v0.8h-0.8zM277.1,183.7h0.8v0.8h-0.8zM277.8,161.2h0.8v0.8h-0.8zM272.6,179.3h0.8v0.8h-0.8zM282.6,185.3h0.8v0.8h-0.8zM308.1,171.7h0.8v0.8h-0.8zM300.1,159.2h0.8v0.8h-0.8zM280.5,159.4h0.8v0.8h-0.8zM287.5,186.1h0.8v0.8h-0.8zM272.6,165.0h0.8v0.8h-0.8zM302.6,180.9h0.8v0.8h-0.8zM290.6,157.8h0.8v0.8h-0.8zM304.2,179.5h0.8v0.8h-0.8z" fill="#1c1c1c"/><path d="M274.6,161.8h0.8v0.8h-0.8zM305.6,176.4h0.8v0.8h-0.8zM291.9,157.7h0.8v0.8h-0.8zM285.5,157.9h0.8v0.8h-0.8zM298.3,183.3h0.8v0.8h-0.8zM305.6,180.2h0.8v0.8h-0.8zM273.6,164.6h0.8v0.8h-0.8zM272.0,175.7h0.8v0.8h-0.8zM308.2,176.4h0.8v0.8h-0.8zM272.1,163.9h0.8v0.8h-0.8zM289.6,184.6h0.8v0.8h-0.8zM307.4,165.1h0.8v0.8h-0.8zM281.6,185.1h0.8v0.8h-0.8zM296.8,158.8h0.8v0.8h-0.8zM273.5,162.3h0.8v0.8h-0.8zM290.3,185.3h0.8v0.8h-0.8zM286.0,158.1h0.8v0.8h-0.8zM282.3,185.3h0.8v0.8h-0.8zM290.2,184.9h0.8v0.8h-0.8z" fill="#3a468f"/><path d="M301.80,171.40 L301.75,172.20 L301.58,172.99 L301.32,173.76 L300.94,174.50 L300.47,175.20 L299.90,175.84 L299.23,176.43 L298.48,176.96 L297.64,177.41 L296.73,177.79 L295.74,178.08 L294.70,178.30 L293.60,178.43 L292.46,178.48 L291.28,178.45 L290.07,178.34 L288.84,178.16 L287.60,177.91 L286.36,177.59 L285.13,177.22 L283.92,176.81 L282.74,176.36 L281.60,175.88 L280.50,175.38 L279.46,174.88 L278.47,174.38 L277.56,173.89 L276.72,173.42 L275.97,172.99 L275.30,172.59 L274.73,172.24 L274.26,171.95 L273.88,171.71 L273.62,171.54 L273.45,171.43 L273.40,171.40 L273.45,171.37 L273.62,171.26 L273.88,171.09 L274.26,170.85 L274.73,170.56 L275.30,170.21 L275.97,169.81 L276.72,169.38 L277.56,168.91 L278.47,168.42 L279.46,167.92 L280.50,167.42 L281.60,166.92 L282.74,166.44 L283.92,165.99 L285.13,165.58 L286.36,165.21 L287.60,164.89 L288.84,164.64 L290.07,164.46 L291.28,164.35 L292.46,164.32 L293.60,164.37 L294.70,164.50 L295.74,164.72 L296.73,165.01 L297.64,165.39 L298.48,165.84 L299.23,166.37 L299.90,166.96 L300.47,167.60 L300.94,168.30 L301.32,169.04 L301.58,169.81 L301.75,170.60Z" fill="#fafafa"/><path d="M300.59,171.09 L300.54,171.79 L300.40,172.49 L300.16,173.17 L299.83,173.81 L299.42,174.43 L298.91,175.00 L298.33,175.52 L297.66,175.98 L296.93,176.38 L296.12,176.71 L295.26,176.97 L294.34,177.16 L293.37,177.28 L292.37,177.32 L291.33,177.29 L290.26,177.20 L289.18,177.03 L288.09,176.81 L287.00,176.54 L285.92,176.21 L284.86,175.85 L283.82,175.45 L282.81,175.03 L281.84,174.59 L280.92,174.15 L280.06,173.71 L279.26,173.28 L278.52,172.87 L277.86,172.48 L277.27,172.14 L276.77,171.83 L276.35,171.57 L276.02,171.36 L275.79,171.21 L275.64,171.12 L275.60,171.09 L275.64,171.06 L275.79,170.97 L276.02,170.81 L276.35,170.61 L276.77,170.35 L277.27,170.04 L277.86,169.69 L278.52,169.31 L279.26,168.90 L280.06,168.47 L280.92,168.03 L281.84,167.58 L282.81,167.15 L283.82,166.72 L284.86,166.33 L285.92,165.96 L287.00,165.64 L288.09,165.36 L289.18,165.14 L290.26,164.98 L291.33,164.88 L292.37,164.86 L293.37,164.90 L294.34,165.02 L295.26,165.21 L296.12,165.47 L296.93,165.80 L297.66,166.20 L298.33,166.66 L298.91,167.18 L299.42,167.75 L299.83,168.36 L300.16,169.01 L300.40,169.69 L300.54,170.38Z M299.17,170.72 L299.13,171.32 L299.01,171.90 L298.82,172.47 L298.54,173.02 L298.19,173.53 L297.77,174.01 L297.27,174.45 L296.72,174.84 L296.10,175.17 L295.42,175.45 L294.69,175.67 L293.92,175.83 L293.11,175.93 L292.26,175.96 L291.39,175.94 L290.49,175.86 L289.58,175.72 L288.67,175.54 L287.75,175.31 L286.84,175.03 L285.95,174.73 L285.07,174.39 L284.23,174.04 L283.41,173.67 L282.64,173.30 L281.91,172.93 L281.24,172.57 L280.62,172.22 L280.06,171.90 L279.57,171.61 L279.14,171.35 L278.79,171.13 L278.52,170.95 L278.32,170.83 L278.20,170.75 L278.16,170.72 L278.20,170.70 L278.32,170.62 L278.52,170.49 L278.79,170.32 L279.14,170.10 L279.57,169.84 L280.06,169.55 L280.62,169.23 L281.24,168.88 L281.91,168.52 L282.64,168.15 L283.41,167.78 L284.23,167.41 L285.07,167.05 L285.95,166.72 L286.84,166.41 L287.75,166.14 L288.67,165.91 L289.58,165.72 L290.49,165.59 L291.39,165.51 L292.26,165.48 L293.11,165.52 L293.92,165.62 L294.69,165.78 L295.42,166.00 L296.10,166.28 L296.72,166.61 L297.27,167.00 L297.77,167.44 L298.19,167.92 L298.54,168.43 L298.82,168.98 L299.01,169.55 L299.13,170.13Z M297.86,170.39 L297.83,170.87 L297.73,171.36 L297.57,171.83 L297.34,172.28 L297.05,172.70 L296.70,173.10 L296.29,173.46 L295.83,173.78 L295.32,174.05 L294.77,174.28 L294.17,174.46 L293.53,174.59 L292.86,174.68 L292.16,174.71 L291.44,174.69 L290.70,174.62 L289.95,174.51 L289.20,174.35 L288.44,174.16 L287.69,173.94 L286.96,173.69 L286.24,173.41 L285.54,173.12 L284.87,172.82 L284.23,172.51 L283.63,172.20 L283.07,171.90 L282.56,171.62 L282.10,171.35 L281.70,171.11 L281.35,170.90 L281.06,170.72 L280.83,170.58 L280.67,170.47 L280.57,170.41 L280.54,170.39 L280.57,170.36 L280.67,170.30 L280.83,170.20 L281.06,170.05 L281.35,169.87 L281.70,169.66 L282.10,169.42 L282.56,169.15 L283.07,168.87 L283.63,168.57 L284.23,168.26 L284.87,167.96 L285.54,167.65 L286.24,167.36 L286.96,167.09 L287.69,166.83 L288.44,166.61 L289.20,166.42 L289.95,166.26 L290.70,166.15 L291.44,166.09 L292.16,166.07 L292.86,166.10 L293.53,166.18 L294.17,166.31 L294.77,166.49 L295.32,166.72 L295.83,167.00 L296.29,167.32 L296.70,167.68 L297.05,168.07 L297.34,168.50 L297.57,168.95 L297.73,169.42 L297.83,169.90Z M296.65,170.07 L296.62,170.47 L296.54,170.85 L296.41,171.23 L296.23,171.59 L296.00,171.93 L295.72,172.25 L295.39,172.54 L295.02,172.80 L294.61,173.02 L294.16,173.20 L293.68,173.35 L293.17,173.46 L292.63,173.52 L292.07,173.54 L291.49,173.53 L290.90,173.47 L290.30,173.38 L289.69,173.26 L289.08,173.11 L288.48,172.93 L287.89,172.72 L287.31,172.50 L286.75,172.27 L286.21,172.03 L285.70,171.78 L285.22,171.53 L284.77,171.29 L284.36,171.07 L283.99,170.85 L283.67,170.66 L283.38,170.49 L283.15,170.34 L282.97,170.23 L282.84,170.14 L282.76,170.09 L282.73,170.07 L282.76,170.06 L282.84,170.01 L282.97,169.92 L283.15,169.81 L283.38,169.66 L283.67,169.49 L283.99,169.30 L284.36,169.08 L284.77,168.85 L285.22,168.61 L285.70,168.37 L286.21,168.12 L286.75,167.88 L287.31,167.64 L287.89,167.42 L288.48,167.22 L289.08,167.04 L289.69,166.89 L290.30,166.76 L290.90,166.67 L291.49,166.62 L292.07,166.60 L292.63,166.63 L293.17,166.69 L293.68,166.80 L294.16,166.94 L294.61,167.13 L295.02,167.35 L295.39,167.61 L295.72,167.90 L296.00,168.21 L296.23,168.56 L296.41,168.92 L296.54,169.29 L296.62,169.68Z M295.44,169.76 L295.42,170.06 L295.36,170.35 L295.26,170.64 L295.12,170.91 L294.94,171.17 L294.73,171.41 L294.49,171.62 L294.21,171.82 L293.90,171.99 L293.56,172.13 L293.20,172.24 L292.81,172.31 L292.40,172.36 L291.98,172.38 L291.54,172.37 L291.10,172.33 L290.64,172.26 L290.18,172.17 L289.73,172.05 L289.27,171.92 L288.82,171.76 L288.39,171.60 L287.96,171.42 L287.56,171.24 L287.17,171.05 L286.81,170.86 L286.47,170.68 L286.16,170.51 L285.88,170.35 L285.63,170.20 L285.42,170.07 L285.25,169.96 L285.11,169.88 L285.01,169.81 L284.95,169.77 L284.93,169.76 L284.95,169.75 L285.01,169.71 L285.11,169.65 L285.25,169.56 L285.42,169.45 L285.63,169.32 L285.88,169.17 L286.16,169.01 L286.47,168.84 L286.81,168.66 L287.17,168.47 L287.56,168.29 L287.96,168.10 L288.39,167.93 L288.82,167.76 L289.27,167.61 L289.73,167.47 L290.18,167.36 L290.64,167.26 L291.10,167.19 L291.54,167.15 L291.98,167.14 L292.40,167.16 L292.81,167.21 L293.20,167.29 L293.56,167.40 L293.90,167.54 L294.21,167.71 L294.49,167.90 L294.73,168.12 L294.94,168.36 L295.12,168.62 L295.26,168.89 L295.36,169.17 L295.42,169.47Z M294.23,169.45 L294.21,169.65 L294.17,169.85 L294.10,170.04 L294.01,170.22 L293.89,170.40 L293.75,170.56 L293.58,170.71 L293.39,170.84 L293.19,170.95 L292.96,171.05 L292.71,171.12 L292.45,171.18 L292.18,171.21 L291.89,171.22 L291.59,171.21 L291.29,171.19 L290.98,171.14 L290.68,171.08 L290.37,171.00 L290.06,170.91 L289.76,170.80 L289.46,170.69 L289.17,170.57 L288.90,170.45 L288.64,170.32 L288.39,170.19 L288.16,170.07 L287.96,169.96 L287.77,169.85 L287.60,169.75 L287.46,169.66 L287.34,169.59 L287.25,169.53 L287.18,169.48 L287.14,169.46 L287.12,169.45 L287.14,169.44 L287.18,169.42 L287.25,169.37 L287.34,169.31 L287.46,169.24 L287.60,169.15 L287.77,169.05 L287.96,168.94 L288.16,168.83 L288.39,168.71 L288.64,168.58 L288.90,168.45 L289.17,168.33 L289.46,168.21 L289.76,168.10 L290.06,167.99 L290.37,167.90 L290.68,167.82 L290.98,167.76 L291.29,167.71 L291.59,167.69 L291.89,167.68 L292.18,167.69 L292.45,167.73 L292.71,167.78 L292.96,167.85 L293.19,167.95 L293.39,168.06 L293.58,168.19 L293.75,168.34 L293.89,168.50 L294.01,168.68 L294.10,168.86 L294.17,169.05 L294.21,169.25Z" fill="none" stroke="#2a2a2a" stroke-width="0.7"/><ellipse cx="291.7" cy="168.8" rx="1.7" ry="1.1" fill="#fff"/></g>
<path d="M290.0,61.0h0.8v0.8h-0.8zM296.1,53.2h0.8v0.8h-0.8zM289.7,52.8h0.8v0.8h-0.8zM287.2,52.5h0.8v0.8h-0.8zM290.5,57.5h0.8v0.8h-0.8z" fill="#8890c0"/>
<path d="M306.0,155.7h0.8v0.8h-0.8zM295.3,147.2h0.8v0.8h-0.8zM299.8,149.1h0.8v0.8h-0.8zM298.1,143.2h0.8v0.8h-0.8zM295.2,130.6h0.8v0.8h-0.8zM303.2,155.6h0.8v0.8h-0.8zM302.0,145.2h0.8v0.8h-0.8zM299.6,134.6h0.8v0.8h-0.8z" fill="#8890c0"/>
<path d="M305.5,179.0h0.7v0.7h-0.7zM319.4,171.7h0.7v0.7h-0.7zM311.2,182.7h0.7v0.7h-0.7zM313.0,174.9h0.7v0.7h-0.7zM314.5,175.9h0.7v0.7h-0.7zM316.5,170.5h0.7v0.7h-0.7zM325.5,170.3h0.7v0.7h-0.7zM314.4,178.3h0.7v0.7h-0.7zM314.2,172.4h0.7v0.7h-0.7zM320.5,172.8h0.7v0.7h-0.7zM309.3,174.4h0.7v0.7h-0.7zM316.5,185.2h0.7v0.7h-0.7zM310.3,180.8h0.7v0.7h-0.7zM312.5,172.9h0.7v0.7h-0.7z" fill="#444"/>
<clipPath id="c22"><rect x="355.95" y="24.95" width="76.8" height="76.2"/></clipPath>
<g clip-path="url(#c22)"><path d="M363.6,92.3h0.7v0.7h-0.7zM381.8,95.6h0.7v0.7h-0.7zM366.5,96.7h0.7v0.7h-0.7zM387.8,93.3h0.7v0.7h-0.7zM363.6,94.5h0.7v0.7h-0.7zM370.0,95.7h0.7v0.7h-0.7zM368.3,95.9h0.7v0.7h-0.7zM386.7,94.2h0.7v0.7h-0.7zM371.1,96.6h0.7v0.7h-0.7zM388.4,81.8h0.7v0.7h-0.7zM387.6,80.1h0.7v0.7h-0.7zM384.8,93.5h0.7v0.7h-0.7zM392.3,88.9h0.7v0.7h-0.7zM366.9,79.7h0.7v0.7h-0.7zM360.8,91.9h0.7v0.7h-0.7zM370.1,79.2h0.7v0.7h-0.7zM384.0,79.1h0.7v0.7h-0.7zM364.2,80.7h0.7v0.7h-0.7zM388.4,94.1h0.7v0.7h-0.7zM372.8,77.3h0.7v0.7h-0.7zM389.4,89.3h0.7v0.7h-0.7zM381.9,94.0h0.7v0.7h-0.7zM368.9,96.4h0.7v0.7h-0.7zM390.6,89.4h0.7v0.7h-0.7zM365.0,80.5h0.7v0.7h-0.7zM384.0,78.3h0.7v0.7h-0.7zM371.5,78.8h0.7v0.7h-0.7zM360.0,90.7h0.7v0.7h-0.7zM365.8,94.1h0.7v0.7h-0.7zM384.0,77.6h0.7v0.7h-0.7zM371.0,95.7h0.7v0.7h-0.7zM385.2,78.9h0.7v0.7h-0.7zM390.2,89.8h0.7v0.7h-0.7zM388.4,93.8h0.7v0.7h-0.7zM378.7,96.6h0.7v0.7h-0.7zM374.5,78.5h0.7v0.7h-0.7zM369.5,79.0h0.7v0.7h-0.7zM374.2,76.7h0.7v0.7h-0.7zM371.5,95.8h0.7v0.7h-0.7zM388.5,84.1h0.7v0.7h-0.7zM388.9,83.1h0.7v0.7h-0.7zM373.3,76.9h0.7v0.7h-0.7zM363.3,80.3h0.7v0.7h-0.7zM392.1,90.6h0.7v0.7h-0.7zM360.8,90.8h0.7v0.7h-0.7zM386.8,83.5h0.7v0.7h-0.7zM375.6,78.4h0.7v0.7h-0.7zM369.7,77.9h0.7v0.7h-0.7zM373.3,96.8h0.7v0.7h-0.7zM390.3,85.2h0.7v0.7h-0.7zM358.7,84.4h0.7v0.7h-0.7zM390.4,90.6h0.7v0.7h-0.7zM362.5,91.3h0.7v0.7h-0.7zM368.5,95.6h0.7v0.7h-0.7zM370.2,78.1h0.7v0.7h-0.7zM375.6,95.7h0.7v0.7h-0.7zM357.9,86.1h0.7v0.7h-0.7zM387.9,83.7h0.7v0.7h-0.7zM368.6,97.8h0.7v0.7h-0.7zM384.6,94.3h0.7v0.7h-0.7zM365.0,96.6h0.7v0.7h-0.7zM356.5,83.7h0.7v0.7h-0.7zM382.2,95.1h0.7v0.7h-0.7zM360.6,81.2h0.7v0.7h-0.7zM376.4,76.4h0.7v0.7h-0.7zM386.4,93.1h0.7v0.7h-0.7zM364.5,94.0h0.7v0.7h-0.7zM390.0,90.6h0.7v0.7h-0.7zM379.7,95.8h0.7v0.7h-0.7zM361.6,89.5h0.7v0.7h-0.7zM366.6,96.1h0.7v0.7h-0.7zM364.5,93.8h0.7v0.7h-0.7zM388.4,90.9h0.7v0.7h-0.7zM391.7,86.5h0.7v0.7h-0.7zM390.5,92.4h0.7v0.7h-0.7zM390.4,85.8h0.7v0.7h-0.7zM387.6,93.2h0.7v0.7h-0.7zM361.8,90.2h0.7v0.7h-0.7zM359.8,84.6h0.7v0.7h-0.7zM388.3,82.5h0.7v0.7h-0.7zM361.8,79.4h0.7v0.7h-0.7zM366.1,80.1h0.7v0.7h-0.7zM374.9,95.6h0.7v0.7h-0.7zM392.7,88.9h0.7v0.7h-0.7zM383.3,78.9h0.7v0.7h-0.7zM380.7,95.4h0.7v0.7h-0.7zM385.4,77.8h0.7v0.7h-0.7zM382.5,95.3h0.7v0.7h-0.7zM383.6,77.5h0.7v0.7h-0.7zM367.0,95.3h0.7v0.7h-0.7zM382.2,78.3h0.7v0.7h-0.7zM363.1,94.2h0.7v0.7h-0.7zM362.2,94.7h0.7v0.7h-0.7zM375.4,95.2h0.7v0.7h-0.7zM357.8,82.7h0.7v0.7h-0.7zM382.4,77.2h0.7v0.7h-0.7zM388.9,81.3h0.7v0.7h-0.7zM358.3,87.3h0.7v0.7h-0.7zM382.5,94.1h0.7v0.7h-0.7zM360.8,82.6h0.7v0.7h-0.7zM369.3,79.6h0.7v0.7h-0.7zM358.6,90.5h0.7v0.7h-0.7zM387.5,91.8h0.7v0.7h-0.7zM361.6,90.0h0.7v0.7h-0.7zM372.2,79.2h0.7v0.7h-0.7zM384.8,77.7h0.7v0.7h-0.7zM378.4,77.3h0.7v0.7h-0.7zM370.7,97.3h0.7v0.7h-0.7zM358.0,86.1h0.7v0.7h-0.7zM365.4,95.5h0.7v0.7h-0.7zM366.1,78.7h0.7v0.7h-0.7zM386.2,82.3h0.7v0.7h-0.7zM369.6,96.7h0.7v0.7h-0.7zM358.8,83.2h0.7v0.7h-0.7zM379.0,94.4h0.7v0.7h-0.7zM366.7,96.1h0.7v0.7h-0.7zM391.5,85.2h0.7v0.7h-0.7zM387.0,78.8h0.7v0.7h-0.7zM389.9,84.8h0.7v0.7h-0.7zM380.4,78.6h0.7v0.7h-0.7zM367.5,78.9h0.7v0.7h-0.7zM369.3,97.0h0.7v0.7h-0.7zM389.0,84.4h0.7v0.7h-0.7zM365.5,80.1h0.7v0.7h-0.7zM363.9,96.3h0.7v0.7h-0.7zM390.1,88.6h0.7v0.7h-0.7zM368.0,79.2h0.7v0.7h-0.7zM390.2,92.4h0.7v0.7h-0.7zM362.8,94.1h0.7v0.7h-0.7zM361.2,91.5h0.7v0.7h-0.7zM358.7,83.0h0.7v0.7h-0.7zM386.1,92.9h0.7v0.7h-0.7zM386.9,81.0h0.7v0.7h-0.7zM388.6,93.9h0.7v0.7h-0.7zM374.2,95.6h0.7v0.7h-0.7zM358.6,85.2h0.7v0.7h-0.7zM358.2,87.6h0.7v0.7h-0.7zM376.8,96.2h0.7v0.7h-0.7zM387.3,93.4h0.7v0.7h-0.7zM361.3,82.2h0.7v0.7h-0.7zM363.0,91.4h0.7v0.7h-0.7zM359.1,90.6h0.7v0.7h-0.7zM356.7,83.6h0.7v0.7h-0.7zM375.1,78.3h0.7v0.7h-0.7zM391.5,86.4h0.7v0.7h-0.7zM389.4,93.5h0.7v0.7h-0.7zM363.2,92.3h0.7v0.7h-0.7zM389.6,84.8h0.7v0.7h-0.7zM376.9,78.1h0.7v0.7h-0.7zM377.0,78.3h0.7v0.7h-0.7zM375.8,95.9h0.7v0.7h-0.7zM391.8,88.0h0.7v0.7h-0.7zM377.8,95.2h0.7v0.7h-0.7zM370.5,78.6h0.7v0.7h-0.7zM387.1,80.8h0.7v0.7h-0.7zM386.2,80.0h0.7v0.7h-0.7zM389.1,82.2h0.7v0.7h-0.7zM382.5,95.2h0.7v0.7h-0.7zM364.4,96.1h0.7v0.7h-0.7zM367.5,78.4h0.7v0.7h-0.7zM385.9,93.5h0.7v0.7h-0.7zM373.1,76.6h0.7v0.7h-0.7zM372.1,79.2h0.7v0.7h-0.7zM362.3,81.6h0.7v0.7h-0.7zM356.3,83.7h0.7v0.7h-0.7zM388.7,94.1h0.7v0.7h-0.7zM368.1,79.7h0.7v0.7h-0.7zM379.7,95.1h0.7v0.7h-0.7zM383.9,78.2h0.7v0.7h-0.7zM385.6,92.6h0.7v0.7h-0.7zM388.5,93.8h0.7v0.7h-0.7zM380.6,95.2h0.7v0.7h-0.7zM369.9,97.4h0.7v0.7h-0.7zM363.7,92.8h0.7v0.7h-0.7zM386.3,80.2h0.7v0.7h-0.7zM368.4,78.2h0.7v0.7h-0.7zM387.0,84.6h0.7v0.7h-0.7zM365.8,94.7h0.7v0.7h-0.7zM356.4,86.9h0.7v0.7h-0.7zM379.3,78.4h0.7v0.7h-0.7zM381.3,95.7h0.7v0.7h-0.7zM368.2,79.3h0.7v0.7h-0.7zM360.4,88.3h0.7v0.7h-0.7zM384.0,78.9h0.7v0.7h-0.7zM386.4,79.9h0.7v0.7h-0.7zM389.5,91.5h0.7v0.7h-0.7zM378.1,96.7h0.7v0.7h-0.7zM361.5,82.3h0.7v0.7h-0.7zM381.6,94.5h0.7v0.7h-0.7zM359.0,88.8h0.7v0.7h-0.7zM362.8,92.8h0.7v0.7h-0.7zM391.5,87.4h0.7v0.7h-0.7zM366.8,94.7h0.7v0.7h-0.7zM357.8,89.5h0.7v0.7h-0.7zM389.8,89.6h0.7v0.7h-0.7zM367.7,79.7h0.7v0.7h-0.7zM372.0,96.9h0.7v0.7h-0.7zM373.2,96.9h0.7v0.7h-0.7zM388.7,86.6h0.7v0.7h-0.7zM356.9,82.9h0.7v0.7h-0.7zM386.8,79.6h0.7v0.7h-0.7zM363.3,79.8h0.7v0.7h-0.7zM364.2,94.0h0.7v0.7h-0.7zM379.9,76.2h0.7v0.7h-0.7zM389.2,83.5h0.7v0.7h-0.7zM368.2,97.4h0.7v0.7h-0.7zM373.4,77.7h0.7v0.7h-0.7zM364.3,80.3h0.7v0.7h-0.7zM358.1,83.9h0.7v0.7h-0.7zM390.3,90.7h0.7v0.7h-0.7zM365.6,97.4h0.7v0.7h-0.7zM359.3,88.0h0.7v0.7h-0.7zM375.1,95.7h0.7v0.7h-0.7zM365.4,94.3h0.7v0.7h-0.7zM392.8,87.5h0.7v0.7h-0.7zM360.1,89.5h0.7v0.7h-0.7zM359.2,82.9h0.7v0.7h-0.7zM381.1,93.8h0.7v0.7h-0.7zM369.2,96.2h0.7v0.7h-0.7zM372.2,77.9h0.7v0.7h-0.7zM387.9,83.8h0.7v0.7h-0.7zM388.2,82.7h0.7v0.7h-0.7zM388.6,91.5h0.7v0.7h-0.7zM357.1,81.4h0.7v0.7h-0.7zM363.1,95.3h0.7v0.7h-0.7zM359.5,91.2h0.7v0.7h-0.7zM390.6,91.2h0.7v0.7h-0.7zM386.4,81.9h0.7v0.7h-0.7zM373.8,95.5h0.7v0.7h-0.7z" fill="#222"/><path d="M380.0,98.7h0.7v0.7h-0.7zM374.0,95.3h0.7v0.7h-0.7zM370.6,98.0h0.7v0.7h-0.7zM360.1,94.0h0.7v0.7h-0.7zM372.0,95.7h0.7v0.7h-0.7zM373.4,90.6h0.7v0.7h-0.7zM372.7,96.4h0.7v0.7h-0.7zM383.5,92.2h0.7v0.7h-0.7zM373.1,98.1h0.7v0.7h-0.7zM380.7,99.9h0.7v0.7h-0.7zM386.1,94.5h0.7v0.7h-0.7zM382.1,96.2h0.7v0.7h-0.7zM370.0,94.9h0.7v0.7h-0.7zM372.1,95.0h0.7v0.7h-0.7zM385.7,97.9h0.7v0.7h-0.7zM389.5,98.0h0.7v0.7h-0.7zM370.1,99.5h0.7v0.7h-0.7zM369.7,95.9h0.7v0.7h-0.7zM374.4,97.1h0.7v0.7h-0.7zM387.5,95.5h0.7v0.7h-0.7zM379.4,96.9h0.7v0.7h-0.7zM363.9,94.4h0.7v0.7h-0.7zM373.9,98.0h0.7v0.7h-0.7zM379.1,98.2h0.7v0.7h-0.7zM376.5,95.9h0.7v0.7h-0.7zM380.1,94.6h0.7v0.7h-0.7zM363.1,96.2h0.7v0.7h-0.7zM362.2,95.8h0.7v0.7h-0.7zM368.8,95.7h0.7v0.7h-0.7z" fill="#444"/><path d="M388.30,87.00 L388.26,88.33 L388.15,89.18 L387.96,89.89 L387.70,90.53 L387.36,91.11 L386.94,91.63 L386.45,92.11 L385.89,92.54 L385.25,92.93 L384.54,93.28 L383.75,93.59 L382.87,93.86 L381.91,94.08 L380.86,94.27 L379.69,94.41 L378.38,94.52 L376.83,94.58 L374.40,94.60 L371.97,94.58 L370.42,94.52 L369.11,94.41 L367.94,94.27 L366.89,94.08 L365.93,93.86 L365.05,93.59 L364.26,93.28 L363.55,92.93 L362.91,92.54 L362.35,92.11 L361.86,91.63 L361.44,91.11 L361.10,90.53 L360.84,89.89 L360.65,89.18 L360.54,88.33 L360.50,87.00 L360.54,85.67 L360.65,84.82 L360.84,84.11 L361.10,83.47 L361.44,82.89 L361.86,82.37 L362.35,81.89 L362.91,81.46 L363.55,81.07 L364.26,80.72 L365.05,80.41 L365.93,80.14 L366.89,79.92 L367.94,79.73 L369.11,79.59 L370.42,79.48 L371.97,79.42 L374.40,79.40 L376.83,79.42 L378.38,79.48 L379.69,79.59 L380.86,79.73 L381.91,79.92 L382.87,80.14 L383.75,80.41 L384.54,80.72 L385.25,81.07 L385.89,81.46 L386.45,81.89 L386.94,82.37 L387.36,82.89 L387.70,83.47 L387.96,84.11 L388.15,84.82 L388.26,85.67Z M386.80,87.00 L386.76,87.90 L386.66,88.53 L386.48,89.09 L386.24,89.58 L385.93,90.04 L385.54,90.46 L385.09,90.85 L384.58,91.20 L383.99,91.52 L383.34,91.81 L382.62,92.06 L381.84,92.28 L380.99,92.47 L380.06,92.62 L379.04,92.74 L377.92,92.83 L376.64,92.88 L374.80,92.90 L372.96,92.88 L371.68,92.83 L370.56,92.74 L369.54,92.62 L368.61,92.47 L367.76,92.28 L366.98,92.06 L366.26,91.81 L365.61,91.52 L365.02,91.20 L364.51,90.85 L364.06,90.46 L363.67,90.04 L363.36,89.58 L363.12,89.09 L362.94,88.53 L362.84,87.90 L362.80,87.00 L362.84,86.10 L362.94,85.47 L363.12,84.91 L363.36,84.42 L363.67,83.96 L364.06,83.54 L364.51,83.15 L365.02,82.80 L365.61,82.48 L366.26,82.19 L366.98,81.94 L367.76,81.72 L368.61,81.53 L369.54,81.38 L370.56,81.26 L371.68,81.17 L372.96,81.12 L374.80,81.10 L376.64,81.12 L377.92,81.17 L379.04,81.26 L380.06,81.38 L380.99,81.53 L381.84,81.72 L382.62,81.94 L383.34,82.19 L383.99,82.48 L384.58,82.80 L385.09,83.15 L385.54,83.54 L385.93,83.96 L386.24,84.42 L386.48,84.91 L386.66,85.47 L386.76,86.10Z" fill="none" stroke="#1a1a1a" stroke-width="0.8"/><path d="M364.50,85.92 L365.00,86.81 L365.50,87.55 L366.00,88.01 L366.50,88.11 L367.00,87.83 L367.50,87.21 L368.00,86.38 L368.50,85.46 L369.00,84.63 L369.50,84.01 L370.00,83.73 L370.50,83.83 L371.00,84.29 L371.50,85.03 L372.00,85.92 L372.50,86.81 L373.00,87.55 L373.50,88.01 L374.00,88.11 L374.50,87.83 L375.00,87.21 L375.50,86.38 L376.00,85.46 L376.50,84.63 L377.00,84.01 L377.50,83.73 L378.00,83.83 L378.50,84.29 L379.00,85.03 L379.50,85.92 L380.00,86.81 L380.50,87.55 L381.00,88.01 L381.50,88.11 L382.00,87.83 L382.50,87.21 L383.00,86.38 L383.50,85.46 L384.00,84.63 L384.50,84.01 M364.50,90.13 L365.00,90.28 L365.50,90.04 L366.00,89.47 L366.50,88.66 L367.00,87.75 L367.50,86.89 L368.00,86.24 L368.50,85.91 L369.00,85.95 L369.50,86.36 L370.00,87.07 L370.50,87.96 L371.00,88.86 L371.50,89.63 L372.00,90.13 L372.50,90.28 L373.00,90.04 L373.50,89.47 L374.00,88.66 L374.50,87.75 L375.00,86.89 L375.50,86.24 L376.00,85.91 L376.50,85.95 L377.00,86.36 L377.50,87.07 L378.00,87.96 L378.50,88.86 L379.00,89.63 L379.50,90.13 L380.00,90.28 L380.50,90.04 L381.00,89.47 L381.50,88.66 L382.00,87.75 L382.50,86.89 L383.00,86.24 L383.50,85.91 L384.00,85.95 L384.50,86.36" fill="none" stroke="#1a1a1a" stroke-width="0.75"/><path d="M401.5,76.8h0.8v0.8h-0.8zM398.7,76.2h0.8v0.8h-0.8zM404.6,76.8h0.8v0.8h-0.8zM404.5,75.6h0.8v0.8h-0.8zM388.9,90.1h0.8v0.8h-0.8zM386.9,85.4h0.8v0.8h-0.8zM411.3,94.4h0.8v0.8h-0.8zM387.6,88.8h0.8v0.8h-0.8zM404.4,76.7h0.8v0.8h-0.8zM416.1,86.4h0.8v0.8h-0.8zM402.9,77.0h0.8v0.8h-0.8zM415.7,88.9h0.8v0.8h-0.8zM415.8,91.1h0.8v0.8h-0.8zM389.4,83.6h0.8v0.8h-0.8zM415.5,83.2h0.8v0.8h-0.8zM410.4,95.3h0.8v0.8h-0.8zM401.1,75.6h0.8v0.8h-0.8zM409.3,95.6h0.8v0.8h-0.8zM404.7,76.9h0.8v0.8h-0.8zM416.7,85.9h0.8v0.8h-0.8zM393.0,79.2h0.8v0.8h-0.8zM406.8,76.9h0.8v0.8h-0.8zM395.4,97.4h0.8v0.8h-0.8zM414.0,94.1h0.8v0.8h-0.8zM415.9,91.5h0.8v0.8h-0.8zM389.8,93.7h0.8v0.8h-0.8zM415.9,91.1h0.8v0.8h-0.8zM389.2,93.3h0.8v0.8h-0.8zM416.2,83.4h0.8v0.8h-0.8zM404.6,97.3h0.8v0.8h-0.8zM401.2,97.7h0.8v0.8h-0.8zM403.9,97.3h0.8v0.8h-0.8zM403.2,76.1h0.8v0.8h-0.8zM397.6,98.2h0.8v0.8h-0.8zM405.4,97.8h0.8v0.8h-0.8zM410.8,96.6h0.8v0.8h-0.8zM411.8,79.5h0.8v0.8h-0.8zM402.4,75.7h0.8v0.8h-0.8zM399.4,97.4h0.8v0.8h-0.8zM386.9,88.1h0.8v0.8h-0.8zM410.2,96.5h0.8v0.8h-0.8zM390.5,80.9h0.8v0.8h-0.8zM388.8,81.6h0.8v0.8h-0.8zM406.2,98.2h0.8v0.8h-0.8zM392.6,95.8h0.8v0.8h-0.8zM411.3,79.4h0.8v0.8h-0.8zM412.6,78.3h0.8v0.8h-0.8zM398.4,96.6h0.8v0.8h-0.8zM414.2,94.6h0.8v0.8h-0.8zM417.8,87.8h0.8v0.8h-0.8zM411.1,96.2h0.8v0.8h-0.8zM413.5,93.0h0.8v0.8h-0.8zM396.8,77.9h0.8v0.8h-0.8zM394.0,96.9h0.8v0.8h-0.8zM399.1,75.9h0.8v0.8h-0.8zM415.6,85.8h0.8v0.8h-0.8zM403.8,98.4h0.8v0.8h-0.8zM397.3,77.8h0.8v0.8h-0.8zM388.5,86.8h0.8v0.8h-0.8zM390.0,91.4h0.8v0.8h-0.8zM417.8,88.6h0.8v0.8h-0.8zM396.1,97.6h0.8v0.8h-0.8zM412.8,94.5h0.8v0.8h-0.8zM411.7,95.1h0.8v0.8h-0.8zM408.7,97.1h0.8v0.8h-0.8zM411.3,96.1h0.8v0.8h-0.8zM388.7,87.1h0.8v0.8h-0.8zM393.5,95.7h0.8v0.8h-0.8zM414.6,82.0h0.8v0.8h-0.8zM405.7,98.4h0.8v0.8h-0.8zM413.5,79.6h0.8v0.8h-0.8zM400.3,97.2h0.8v0.8h-0.8zM401.1,97.1h0.8v0.8h-0.8zM416.3,90.0h0.8v0.8h-0.8zM390.0,93.0h0.8v0.8h-0.8zM393.6,94.6h0.8v0.8h-0.8zM396.7,76.9h0.8v0.8h-0.8zM388.2,84.1h0.8v0.8h-0.8zM396.6,76.3h0.8v0.8h-0.8zM412.9,79.1h0.8v0.8h-0.8zM391.0,93.3h0.8v0.8h-0.8zM388.6,92.8h0.8v0.8h-0.8zM391.5,94.0h0.8v0.8h-0.8zM390.8,92.5h0.8v0.8h-0.8zM415.6,87.0h0.8v0.8h-0.8zM390.2,79.9h0.8v0.8h-0.8zM401.9,98.1h0.8v0.8h-0.8zM392.4,94.3h0.8v0.8h-0.8zM406.6,96.7h0.8v0.8h-0.8zM410.7,77.7h0.8v0.8h-0.8zM413.6,81.7h0.8v0.8h-0.8zM397.5,77.3h0.8v0.8h-0.8zM393.4,78.5h0.8v0.8h-0.8zM396.0,97.8h0.8v0.8h-0.8zM417.4,87.2h0.8v0.8h-0.8zM411.1,78.5h0.8v0.8h-0.8zM389.2,80.7h0.8v0.8h-0.8zM403.7,98.1h0.8v0.8h-0.8zM401.7,76.5h0.8v0.8h-0.8zM398.9,76.8h0.8v0.8h-0.8zM387.7,85.3h0.8v0.8h-0.8zM396.1,77.7h0.8v0.8h-0.8zM392.2,79.2h0.8v0.8h-0.8zM404.8,97.9h0.8v0.8h-0.8zM400.9,98.6h0.8v0.8h-0.8zM387.5,89.0h0.8v0.8h-0.8zM388.0,85.6h0.8v0.8h-0.8zM404.8,97.1h0.8v0.8h-0.8zM415.4,82.3h0.8v0.8h-0.8zM387.9,85.5h0.8v0.8h-0.8zM407.7,77.6h0.8v0.8h-0.8zM409.5,97.1h0.8v0.8h-0.8zM387.9,89.8h0.8v0.8h-0.8zM409.5,76.9h0.8v0.8h-0.8zM411.3,79.7h0.8v0.8h-0.8zM391.1,94.8h0.8v0.8h-0.8zM407.9,77.9h0.8v0.8h-0.8zM410.2,95.6h0.8v0.8h-0.8zM413.6,93.4h0.8v0.8h-0.8zM407.1,76.9h0.8v0.8h-0.8zM389.4,90.0h0.8v0.8h-0.8zM389.9,94.2h0.8v0.8h-0.8zM397.4,77.0h0.8v0.8h-0.8zM387.2,88.6h0.8v0.8h-0.8zM403.1,76.9h0.8v0.8h-0.8zM396.3,77.5h0.8v0.8h-0.8zM388.5,85.8h0.8v0.8h-0.8zM392.6,94.7h0.8v0.8h-0.8zM392.5,93.8h0.8v0.8h-0.8zM406.8,97.5h0.8v0.8h-0.8zM415.1,90.7h0.8v0.8h-0.8zM399.5,76.9h0.8v0.8h-0.8zM396.1,96.3h0.8v0.8h-0.8zM409.1,78.4h0.8v0.8h-0.8zM392.2,78.5h0.8v0.8h-0.8zM406.6,97.3h0.8v0.8h-0.8zM406.2,76.5h0.8v0.8h-0.8zM393.0,94.3h0.8v0.8h-0.8zM389.0,90.8h0.8v0.8h-0.8zM399.0,77.0h0.8v0.8h-0.8zM389.9,93.1h0.8v0.8h-0.8zM407.6,77.3h0.8v0.8h-0.8zM391.3,94.3h0.8v0.8h-0.8zM414.6,82.4h0.8v0.8h-0.8zM417.1,85.1h0.8v0.8h-0.8zM391.9,95.1h0.8v0.8h-0.8zM395.9,95.9h0.8v0.8h-0.8zM402.8,76.5h0.8v0.8h-0.8zM388.0,85.4h0.8v0.8h-0.8zM414.6,80.6h0.8v0.8h-0.8zM416.8,88.9h0.8v0.8h-0.8zM388.3,89.6h0.8v0.8h-0.8zM409.9,78.1h0.8v0.8h-0.8zM387.1,89.0h0.8v0.8h-0.8zM388.8,91.1h0.8v0.8h-0.8zM387.1,86.3h0.8v0.8h-0.8zM395.1,77.3h0.8v0.8h-0.8zM391.4,92.9h0.8v0.8h-0.8zM396.1,77.3h0.8v0.8h-0.8zM404.1,75.9h0.8v0.8h-0.8zM412.5,94.1h0.8v0.8h-0.8zM415.8,92.4h0.8v0.8h-0.8zM413.1,93.1h0.8v0.8h-0.8zM402.6,76.2h0.8v0.8h-0.8zM416.3,90.9h0.8v0.8h-0.8zM398.8,76.7h0.8v0.8h-0.8zM416.4,90.9h0.8v0.8h-0.8zM389.5,92.5h0.8v0.8h-0.8zM417.6,87.0h0.8v0.8h-0.8zM411.8,79.8h0.8v0.8h-0.8zM395.0,96.4h0.8v0.8h-0.8zM418.0,87.5h0.8v0.8h-0.8zM400.1,97.3h0.8v0.8h-0.8zM396.9,96.7h0.8v0.8h-0.8zM411.5,78.7h0.8v0.8h-0.8zM388.0,86.4h0.8v0.8h-0.8zM415.6,90.4h0.8v0.8h-0.8zM412.5,78.7h0.8v0.8h-0.8zM410.9,79.0h0.8v0.8h-0.8zM406.3,96.6h0.8v0.8h-0.8zM388.5,84.7h0.8v0.8h-0.8zM388.2,89.5h0.8v0.8h-0.8zM390.0,81.8h0.8v0.8h-0.8zM406.7,77.4h0.8v0.8h-0.8zM415.1,81.8h0.8v0.8h-0.8zM415.6,90.4h0.8v0.8h-0.8zM388.3,84.9h0.8v0.8h-0.8zM389.4,82.9h0.8v0.8h-0.8zM400.1,98.3h0.8v0.8h-0.8zM398.4,97.9h0.8v0.8h-0.8zM407.1,76.7h0.8v0.8h-0.8zM387.4,90.4h0.8v0.8h-0.8zM387.8,91.0h0.8v0.8h-0.8zM415.7,90.9h0.8v0.8h-0.8zM393.7,79.4h0.8v0.8h-0.8zM411.1,79.5h0.8v0.8h-0.8zM391.0,81.3h0.8v0.8h-0.8zM415.2,82.0h0.8v0.8h-0.8zM406.8,76.9h0.8v0.8h-0.8zM395.4,77.2h0.8v0.8h-0.8zM398.5,97.0h0.8v0.8h-0.8zM409.5,78.5h0.8v0.8h-0.8zM414.3,82.0h0.8v0.8h-0.8zM413.2,93.1h0.8v0.8h-0.8zM405.6,75.8h0.8v0.8h-0.8zM389.5,92.8h0.8v0.8h-0.8zM401.6,98.6h0.8v0.8h-0.8zM396.9,77.7h0.8v0.8h-0.8zM416.3,91.0h0.8v0.8h-0.8zM417.1,90.1h0.8v0.8h-0.8zM398.5,97.0h0.8v0.8h-0.8zM390.1,81.9h0.8v0.8h-0.8zM389.6,83.3h0.8v0.8h-0.8zM414.3,81.6h0.8v0.8h-0.8zM409.7,78.6h0.8v0.8h-0.8zM407.1,76.0h0.8v0.8h-0.8zM391.9,93.4h0.8v0.8h-0.8zM391.5,94.7h0.8v0.8h-0.8zM404.7,97.8h0.8v0.8h-0.8zM414.3,93.1h0.8v0.8h-0.8zM400.3,76.5h0.8v0.8h-0.8zM396.4,78.0h0.8v0.8h-0.8zM408.7,78.2h0.8v0.8h-0.8zM416.2,81.7h0.8v0.8h-0.8zM415.8,83.1h0.8v0.8h-0.8zM398.7,97.3h0.8v0.8h-0.8zM402.3,76.3h0.8v0.8h-0.8zM414.5,82.8h0.8v0.8h-0.8zM387.0,88.2h0.8v0.8h-0.8zM390.4,80.8h0.8v0.8h-0.8z" fill="#222"/><path d="M415.30,86.90 L415.25,87.72 L415.11,88.53 L414.86,89.33 L414.53,90.11 L414.10,90.87 L413.59,91.60 L412.99,92.29 L412.31,92.94 L411.55,93.55 L410.73,94.10 L409.84,94.60 L408.90,95.04 L407.91,95.42 L406.88,95.73 L405.81,95.98 L404.72,96.16 L403.62,96.26 L402.50,96.30 L401.38,96.26 L400.28,96.16 L399.19,95.98 L398.12,95.73 L397.09,95.42 L396.10,95.04 L395.16,94.60 L394.27,94.10 L393.45,93.55 L392.69,92.94 L392.01,92.29 L391.41,91.60 L390.90,90.87 L390.47,90.11 L390.14,89.33 L389.89,88.53 L389.75,87.72 L389.70,86.90 L389.75,86.08 L389.89,85.27 L390.14,84.47 L390.47,83.69 L390.90,82.93 L391.41,82.20 L392.01,81.51 L392.69,80.86 L393.45,80.25 L394.27,79.70 L395.16,79.20 L396.10,78.76 L397.09,78.38 L398.12,78.07 L399.19,77.82 L400.28,77.64 L401.38,77.54 L402.50,77.50 L403.62,77.54 L404.72,77.64 L405.81,77.82 L406.88,78.07 L407.91,78.38 L408.90,78.76 L409.84,79.20 L410.73,79.70 L411.55,80.25 L412.31,80.86 L412.99,81.51 L413.59,82.20 L414.10,82.93 L414.53,83.69 L414.86,84.47 L415.11,85.27 L415.25,86.08Z" fill="none" stroke="#1a1a1a" stroke-width="1.3"/><path d="M391.18,85.44 L391.52,84.44 L392.02,83.48 L392.69,82.57 L393.50,81.73 L394.46,80.96 L395.54,80.28 L396.72,79.70 L398.00,79.23 L399.35,78.87 L400.75,78.63 L402.18,78.51 L403.62,78.52 L405.05,78.65 L406.45,78.91 L407.79,79.29 L409.05,79.78 L410.23,80.37 L411.29,81.06 L412.22,81.84 L413.02,82.70 L413.66,83.62 L414.14,84.58 L414.45,85.59 L414.59,86.61 L414.56,87.63 L414.34,88.65 L413.96,89.63 L413.41,90.58 L412.70,91.47 L411.84,92.30" fill="none" stroke="#1a1a1a" stroke-width="2.6"/><path d="M412.94,86.94 L412.90,87.63 L412.78,88.32 L412.59,88.99 L412.32,89.65 L411.97,90.29 L411.56,90.90 L411.08,91.48 L410.53,92.03 L409.92,92.54 L409.26,93.00 L408.55,93.43 L407.79,93.80 L406.99,94.11 L406.16,94.38 L405.30,94.59 L404.43,94.74 L403.53,94.83 L402.64,94.86 L401.74,94.83 L400.85,94.74 L399.97,94.59 L399.11,94.38 L398.28,94.11 L397.48,93.80 L396.73,93.43 L396.01,93.00 L395.35,92.54 L394.74,92.03 L394.20,91.48 L393.71,90.90 L393.30,90.29 L392.95,89.65 L392.68,88.99 L392.49,88.32 L392.37,87.63 L392.33,86.94 L392.37,86.25 L392.49,85.57 L392.68,84.90 L392.95,84.24 L393.30,83.60 L393.71,82.99 L394.20,82.41 L394.74,81.86 L395.35,81.35 L396.01,80.88 L396.73,80.46 L397.48,80.09 L398.28,79.77 L399.11,79.51 L399.97,79.30 L400.85,79.15 L401.74,79.06 L402.64,79.03 L403.53,79.06 L404.43,79.15 L405.30,79.30 L406.16,79.51 L406.99,79.77 L407.79,80.09 L408.55,80.46 L409.26,80.88 L409.92,81.35 L410.53,81.86 L411.08,82.41 L411.56,82.99 L411.97,83.60 L412.32,84.24 L412.59,84.90 L412.78,85.57 L412.90,86.25Z M411.80,86.86 L411.77,87.46 L411.66,88.05 L411.49,88.64 L411.26,89.21 L410.96,89.77 L410.60,90.30 L410.18,90.81 L409.70,91.28 L409.18,91.72 L408.60,92.13 L407.98,92.50 L407.32,92.82 L406.63,93.10 L405.90,93.33 L405.16,93.51 L404.40,93.64 L403.62,93.71 L402.84,93.74 L402.06,93.71 L401.28,93.64 L400.52,93.51 L399.78,93.33 L399.05,93.10 L398.36,92.82 L397.70,92.50 L397.08,92.13 L396.50,91.72 L395.98,91.28 L395.50,90.81 L395.08,90.30 L394.72,89.77 L394.42,89.21 L394.19,88.64 L394.02,88.05 L393.91,87.46 L393.88,86.86 L393.91,86.26 L394.02,85.67 L394.19,85.08 L394.42,84.51 L394.72,83.95 L395.08,83.42 L395.50,82.91 L395.98,82.44 L396.50,82.00 L397.08,81.59 L397.70,81.22 L398.36,80.90 L399.05,80.62 L399.78,80.39 L400.52,80.21 L401.28,80.08 L402.06,80.01 L402.84,79.98 L403.62,80.01 L404.40,80.08 L405.16,80.21 L405.90,80.39 L406.63,80.62 L407.32,80.90 L407.98,81.22 L408.60,81.59 L409.18,82.00 L409.70,82.44 L410.18,82.91 L410.60,83.42 L410.96,83.95 L411.26,84.51 L411.49,85.08 L411.66,85.67 L411.77,86.26Z M410.66,86.78 L410.63,87.29 L410.54,87.79 L410.40,88.29 L410.20,88.78 L409.95,89.25 L409.64,89.70 L409.28,90.13 L408.88,90.54 L408.43,90.91 L407.94,91.26 L407.41,91.57 L406.85,91.84 L406.26,92.08 L405.65,92.27 L405.02,92.42 L404.37,92.54 L403.71,92.60 L403.04,92.62 L402.38,92.60 L401.72,92.54 L401.07,92.42 L400.44,92.27 L399.83,92.08 L399.24,91.84 L398.68,91.57 L398.15,91.26 L397.66,90.91 L397.21,90.54 L396.81,90.13 L396.45,89.70 L396.14,89.25 L395.89,88.78 L395.69,88.29 L395.54,87.79 L395.46,87.29 L395.43,86.78 L395.46,86.27 L395.54,85.76 L395.69,85.26 L395.89,84.78 L396.14,84.30 L396.45,83.85 L396.81,83.42 L397.21,83.02 L397.66,82.64 L398.15,82.30 L398.68,81.99 L399.24,81.71 L399.83,81.48 L400.44,81.28 L401.07,81.13 L401.72,81.02 L402.38,80.95 L403.04,80.93 L403.71,80.95 L404.37,81.02 L405.02,81.13 L405.65,81.28 L406.26,81.48 L406.85,81.71 L407.41,81.99 L407.94,82.30 L408.43,82.64 L408.88,83.02 L409.28,83.42 L409.64,83.85 L409.95,84.30 L410.20,84.78 L410.40,85.26 L410.54,85.76 L410.63,86.27Z M409.52,86.69 L409.50,87.11 L409.42,87.53 L409.31,87.94 L409.14,88.34 L408.93,88.73 L408.68,89.10 L408.39,89.45 L408.05,89.79 L407.68,90.10 L407.28,90.38 L406.85,90.64 L406.38,90.86 L405.90,91.06 L405.39,91.22 L404.87,91.34 L404.34,91.43 L403.79,91.49 L403.25,91.51 L402.70,91.49 L402.16,91.43 L401.62,91.34 L401.10,91.22 L400.60,91.06 L400.11,90.86 L399.65,90.64 L399.22,90.38 L398.81,90.10 L398.44,89.79 L398.11,89.45 L397.82,89.10 L397.56,88.73 L397.35,88.34 L397.19,87.94 L397.07,87.53 L397.00,87.11 L396.98,86.69 L397.00,86.27 L397.07,85.86 L397.19,85.45 L397.35,85.04 L397.56,84.66 L397.82,84.28 L398.11,83.93 L398.44,83.60 L398.81,83.29 L399.22,83.00 L399.65,82.75 L400.11,82.52 L400.60,82.33 L401.10,82.17 L401.62,82.04 L402.16,81.95 L402.70,81.89 L403.25,81.88 L403.79,81.89 L404.34,81.95 L404.87,82.04 L405.39,82.17 L405.90,82.33 L406.38,82.52 L406.85,82.75 L407.28,83.00 L407.68,83.29 L408.05,83.60 L408.39,83.93 L408.68,84.28 L408.93,84.66 L409.14,85.04 L409.31,85.45 L409.42,85.86 L409.50,86.27Z" fill="none" stroke="#2a2a2a" stroke-width="0.6"/><ellipse cx="403.9" cy="86.3" rx="4.0" ry="3.2" fill="none" stroke="#333" stroke-width="1.0"/><ellipse cx="403.9" cy="86.2" rx="1.8" ry="1.4" fill="#fff"/></g>
<clipPath id="c24"><rect x="440.15" y="24.95" width="76.9" height="76.2"/></clipPath>
<g clip-path="url(#c24)"><path d="M454.3,89.3h0.7v0.7h-0.7zM450.6,97.4h0.7v0.7h-0.7zM454.0,85.3h0.7v0.7h-0.7zM453.1,87.5h0.7v0.7h-0.7zM441.4,81.2h0.7v0.7h-0.7zM445.3,97.0h0.7v0.7h-0.7zM451.1,86.8h0.7v0.7h-0.7zM449.3,92.3h0.7v0.7h-0.7zM452.1,95.4h0.7v0.7h-0.7zM455.8,95.1h0.7v0.7h-0.7zM451.4,89.6h0.7v0.7h-0.7zM449.9,87.3h0.7v0.7h-0.7zM443.7,85.5h0.7v0.7h-0.7zM447.4,85.2h0.7v0.7h-0.7zM457.9,89.1h0.7v0.7h-0.7zM457.9,91.7h0.7v0.7h-0.7zM456.4,92.4h0.7v0.7h-0.7zM449.1,91.5h0.7v0.7h-0.7zM450.4,85.7h0.7v0.7h-0.7zM457.8,97.4h0.7v0.7h-0.7zM447.3,95.5h0.7v0.7h-0.7zM456.0,84.3h0.7v0.7h-0.7zM453.3,89.6h0.7v0.7h-0.7zM453.8,86.5h0.7v0.7h-0.7zM445.8,88.1h0.7v0.7h-0.7zM456.2,91.4h0.7v0.7h-0.7zM455.2,92.8h0.7v0.7h-0.7zM447.2,87.8h0.7v0.7h-0.7zM453.6,92.3h0.7v0.7h-0.7zM452.8,90.2h0.7v0.7h-0.7zM452.6,97.1h0.7v0.7h-0.7zM441.5,87.9h0.7v0.7h-0.7zM463.9,89.0h0.7v0.7h-0.7zM443.2,88.6h0.7v0.7h-0.7zM445.1,85.1h0.7v0.7h-0.7zM453.1,95.4h0.7v0.7h-0.7zM454.2,90.9h0.7v0.7h-0.7zM456.9,88.9h0.7v0.7h-0.7zM447.9,87.6h0.7v0.7h-0.7zM453.6,86.8h0.7v0.7h-0.7zM448.8,86.4h0.7v0.7h-0.7zM444.8,83.6h0.7v0.7h-0.7zM451.6,86.4h0.7v0.7h-0.7zM452.2,94.1h0.7v0.7h-0.7zM453.4,87.9h0.7v0.7h-0.7zM446.4,83.3h0.7v0.7h-0.7zM453.8,84.2h0.7v0.7h-0.7zM454.1,83.3h0.7v0.7h-0.7zM452.6,87.7h0.7v0.7h-0.7zM456.8,86.3h0.7v0.7h-0.7zM450.2,89.1h0.7v0.7h-0.7zM452.3,95.3h0.7v0.7h-0.7zM450.8,85.7h0.7v0.7h-0.7zM450.5,90.1h0.7v0.7h-0.7zM453.1,91.0h0.7v0.7h-0.7zM445.3,98.7h0.7v0.7h-0.7zM460.9,87.9h0.7v0.7h-0.7zM446.2,88.7h0.7v0.7h-0.7zM454.0,78.3h0.7v0.7h-0.7zM452.1,81.6h0.7v0.7h-0.7zM454.2,94.0h0.7v0.7h-0.7zM457.0,81.5h0.7v0.7h-0.7zM458.6,91.9h0.7v0.7h-0.7zM450.3,90.2h0.7v0.7h-0.7zM459.3,86.6h0.7v0.7h-0.7zM451.9,85.6h0.7v0.7h-0.7zM457.6,78.7h0.7v0.7h-0.7zM458.8,83.8h0.7v0.7h-0.7zM456.5,81.0h0.7v0.7h-0.7zM447.5,85.4h0.7v0.7h-0.7z" fill="#333"/><path d="M467.6,80.2h0.7v0.7h-0.7zM466.1,84.9h0.7v0.7h-0.7zM470.4,86.5h0.7v0.7h-0.7zM465.3,87.2h0.7v0.7h-0.7zM474.1,86.3h0.7v0.7h-0.7zM461.8,97.5h0.7v0.7h-0.7zM462.5,91.3h0.7v0.7h-0.7zM457.0,89.0h0.7v0.7h-0.7zM446.7,88.5h0.7v0.7h-0.7zM457.6,80.8h0.7v0.7h-0.7zM452.5,93.5h0.7v0.7h-0.7zM464.9,80.7h0.7v0.7h-0.7zM474.2,84.7h0.7v0.7h-0.7zM459.5,89.2h0.7v0.7h-0.7zM454.3,80.2h0.7v0.7h-0.7zM457.0,93.7h0.7v0.7h-0.7zM468.4,80.4h0.7v0.7h-0.7zM470.1,88.2h0.7v0.7h-0.7zM465.4,88.2h0.7v0.7h-0.7zM464.8,83.2h0.7v0.7h-0.7zM455.9,84.6h0.7v0.7h-0.7zM459.5,91.0h0.7v0.7h-0.7zM453.8,95.7h0.7v0.7h-0.7zM457.7,85.2h0.7v0.7h-0.7zM466.7,90.1h0.7v0.7h-0.7zM459.7,82.9h0.7v0.7h-0.7zM455.3,80.3h0.7v0.7h-0.7zM469.7,93.2h0.7v0.7h-0.7zM474.6,90.4h0.7v0.7h-0.7zM464.2,91.6h0.7v0.7h-0.7zM468.4,86.8h0.7v0.7h-0.7zM464.4,98.4h0.7v0.7h-0.7zM450.6,81.2h0.7v0.7h-0.7zM455.5,91.6h0.7v0.7h-0.7zM470.0,86.4h0.7v0.7h-0.7zM466.5,87.8h0.7v0.7h-0.7zM464.0,85.4h0.7v0.7h-0.7zM461.8,88.0h0.7v0.7h-0.7zM469.6,98.7h0.7v0.7h-0.7zM449.8,90.6h0.7v0.7h-0.7zM462.0,92.7h0.7v0.7h-0.7zM469.2,91.8h0.7v0.7h-0.7zM467.5,83.4h0.7v0.7h-0.7zM450.5,96.0h0.7v0.7h-0.7zM470.1,83.4h0.7v0.7h-0.7z" fill="#555"/><path d="M452.60,86.90 L452.69,87.24 L452.75,87.61 L452.78,87.98 L452.77,88.37 L452.73,88.75 L452.64,89.13 L452.52,89.49 L452.37,89.82 L452.18,90.12 L451.95,90.38 L451.71,90.60 L451.44,90.76 L451.16,90.87 L450.88,90.93 L450.60,90.94 L450.32,90.90 L450.05,90.82 L449.80,90.70 L449.56,90.55 L449.35,90.39 L449.15,90.20 L448.97,90.01 L448.80,89.82 L448.64,89.62 L448.50,89.43 L448.35,89.24 L448.22,89.05 L448.08,88.86 L447.94,88.67 L447.80,88.47 L447.65,88.26 L447.51,88.03 L447.37,87.79 L447.23,87.51 L447.11,87.22 L447.00,86.90 L446.91,86.56 L446.85,86.19 L446.82,85.82 L446.83,85.43 L446.87,85.05 L446.96,84.67 L447.08,84.31 L447.23,83.98 L447.42,83.68 L447.65,83.42 L447.89,83.20 L448.16,83.04 L448.44,82.93 L448.72,82.87 L449.00,82.86 L449.28,82.90 L449.55,82.98 L449.80,83.10 L450.04,83.25 L450.25,83.41 L450.45,83.60 L450.63,83.79 L450.80,83.98 L450.96,84.18 L451.10,84.37 L451.25,84.56 L451.38,84.75 L451.52,84.94 L451.66,85.13 L451.80,85.33 L451.95,85.54 L452.09,85.77 L452.23,86.01 L452.37,86.29 L452.49,86.58Z" fill="none" stroke="#1e1e1e" stroke-width="0.8"/><path d="M498.0,91.6h0.7v0.7h-0.7zM473.6,90.5h0.7v0.7h-0.7zM478.1,95.0h0.7v0.7h-0.7zM478.1,78.7h0.7v0.7h-0.7zM473.6,85.0h0.7v0.7h-0.7zM497.1,80.6h0.7v0.7h-0.7zM477.5,95.3h0.7v0.7h-0.7zM499.1,90.5h0.7v0.7h-0.7zM481.3,76.5h0.7v0.7h-0.7zM474.0,90.1h0.7v0.7h-0.7zM496.7,79.4h0.7v0.7h-0.7zM486.5,76.6h0.7v0.7h-0.7zM481.1,95.5h0.7v0.7h-0.7zM499.5,83.1h0.7v0.7h-0.7zM494.4,95.1h0.7v0.7h-0.7zM476.2,81.9h0.7v0.7h-0.7zM476.2,93.6h0.7v0.7h-0.7zM478.8,78.5h0.7v0.7h-0.7zM487.5,76.2h0.7v0.7h-0.7zM474.5,83.6h0.7v0.7h-0.7zM499.4,85.0h0.7v0.7h-0.7zM490.9,76.0h0.7v0.7h-0.7zM476.5,94.5h0.7v0.7h-0.7zM483.2,75.7h0.7v0.7h-0.7zM484.5,96.5h0.7v0.7h-0.7zM474.6,81.3h0.7v0.7h-0.7zM489.8,76.4h0.7v0.7h-0.7zM494.6,94.8h0.7v0.7h-0.7zM495.0,79.5h0.7v0.7h-0.7zM485.6,76.4h0.7v0.7h-0.7zM482.1,95.7h0.7v0.7h-0.7zM482.8,96.6h0.7v0.7h-0.7zM499.9,84.1h0.7v0.7h-0.7zM491.2,96.1h0.7v0.7h-0.7zM497.7,83.0h0.7v0.7h-0.7zM481.1,96.1h0.7v0.7h-0.7zM495.9,93.0h0.7v0.7h-0.7zM476.8,93.0h0.7v0.7h-0.7zM498.3,84.2h0.7v0.7h-0.7zM490.4,97.6h0.7v0.7h-0.7zM473.7,90.0h0.7v0.7h-0.7zM477.8,77.9h0.7v0.7h-0.7zM481.8,95.8h0.7v0.7h-0.7zM487.1,75.8h0.7v0.7h-0.7zM474.3,82.5h0.7v0.7h-0.7zM486.7,76.2h0.7v0.7h-0.7zM477.6,95.3h0.7v0.7h-0.7zM474.5,84.6h0.7v0.7h-0.7zM478.2,79.0h0.7v0.7h-0.7zM488.1,76.7h0.7v0.7h-0.7zM492.4,76.8h0.7v0.7h-0.7zM478.2,95.8h0.7v0.7h-0.7zM485.3,96.7h0.7v0.7h-0.7zM498.1,91.1h0.7v0.7h-0.7zM486.8,75.4h0.7v0.7h-0.7zM475.1,92.4h0.7v0.7h-0.7zM495.8,93.2h0.7v0.7h-0.7zM478.1,77.3h0.7v0.7h-0.7zM477.8,78.2h0.7v0.7h-0.7zM488.4,76.1h0.7v0.7h-0.7zM498.8,82.4h0.7v0.7h-0.7zM479.7,95.4h0.7v0.7h-0.7zM490.7,76.7h0.7v0.7h-0.7zM491.8,97.1h0.7v0.7h-0.7zM474.1,84.4h0.7v0.7h-0.7zM479.9,76.4h0.7v0.7h-0.7zM494.7,94.3h0.7v0.7h-0.7zM497.9,90.8h0.7v0.7h-0.7zM473.0,86.3h0.7v0.7h-0.7zM480.2,77.0h0.7v0.7h-0.7zM476.0,92.7h0.7v0.7h-0.7zM484.5,97.8h0.7v0.7h-0.7zM489.7,75.4h0.7v0.7h-0.7zM494.1,95.5h0.7v0.7h-0.7zM486.8,75.7h0.7v0.7h-0.7zM497.4,79.6h0.7v0.7h-0.7zM485.9,75.1h0.7v0.7h-0.7zM478.5,77.2h0.7v0.7h-0.7zM495.4,94.7h0.7v0.7h-0.7zM482.8,76.0h0.7v0.7h-0.7zM484.7,96.3h0.7v0.7h-0.7zM475.8,79.6h0.7v0.7h-0.7zM484.8,96.6h0.7v0.7h-0.7zM488.4,96.3h0.7v0.7h-0.7zM480.3,76.0h0.7v0.7h-0.7zM490.5,76.6h0.7v0.7h-0.7zM482.9,77.1h0.7v0.7h-0.7zM493.0,77.6h0.7v0.7h-0.7zM499.4,86.7h0.7v0.7h-0.7zM494.3,94.4h0.7v0.7h-0.7zM498.2,90.4h0.7v0.7h-0.7zM473.9,82.7h0.7v0.7h-0.7zM499.5,89.3h0.7v0.7h-0.7zM495.7,93.1h0.7v0.7h-0.7zM478.1,78.9h0.7v0.7h-0.7zM480.3,96.0h0.7v0.7h-0.7zM489.2,97.6h0.7v0.7h-0.7zM489.9,97.6h0.7v0.7h-0.7zM491.1,76.4h0.7v0.7h-0.7zM499.5,88.7h0.7v0.7h-0.7zM499.0,88.4h0.7v0.7h-0.7zM476.2,91.1h0.7v0.7h-0.7zM477.5,78.3h0.7v0.7h-0.7zM475.8,81.1h0.7v0.7h-0.7zM473.7,85.7h0.7v0.7h-0.7zM488.5,97.9h0.7v0.7h-0.7zM499.8,86.2h0.7v0.7h-0.7zM498.4,84.0h0.7v0.7h-0.7zM498.1,85.6h0.7v0.7h-0.7zM474.8,87.9h0.7v0.7h-0.7zM474.0,89.7h0.7v0.7h-0.7zM483.3,76.2h0.7v0.7h-0.7zM480.0,95.0h0.7v0.7h-0.7zM476.5,92.4h0.7v0.7h-0.7zM491.0,97.1h0.7v0.7h-0.7zM474.1,85.4h0.7v0.7h-0.7zM490.7,97.1h0.7v0.7h-0.7zM490.5,96.2h0.7v0.7h-0.7zM474.3,82.4h0.7v0.7h-0.7zM499.5,84.6h0.7v0.7h-0.7zM499.4,82.8h0.7v0.7h-0.7zM484.2,75.5h0.7v0.7h-0.7zM497.6,90.4h0.7v0.7h-0.7zM499.9,87.4h0.7v0.7h-0.7zM484.2,75.6h0.7v0.7h-0.7zM485.4,97.0h0.7v0.7h-0.7zM493.2,96.0h0.7v0.7h-0.7zM498.7,85.9h0.7v0.7h-0.7zM497.9,89.3h0.7v0.7h-0.7zM478.2,95.6h0.7v0.7h-0.7zM490.7,76.4h0.7v0.7h-0.7zM495.9,92.5h0.7v0.7h-0.7zM494.0,95.8h0.7v0.7h-0.7zM472.9,88.6h0.7v0.7h-0.7zM497.8,80.5h0.7v0.7h-0.7zM473.3,88.2h0.7v0.7h-0.7zM494.6,93.7h0.7v0.7h-0.7zM474.8,82.3h0.7v0.7h-0.7zM489.6,96.5h0.7v0.7h-0.7zM500.0,88.0h0.7v0.7h-0.7zM483.1,75.2h0.7v0.7h-0.7zM498.9,85.2h0.7v0.7h-0.7zM485.1,76.0h0.7v0.7h-0.7zM491.6,75.9h0.7v0.7h-0.7zM494.2,93.8h0.7v0.7h-0.7zM489.4,97.2h0.7v0.7h-0.7zM478.2,93.3h0.7v0.7h-0.7zM492.9,76.6h0.7v0.7h-0.7zM475.2,88.7h0.7v0.7h-0.7zM496.3,79.5h0.7v0.7h-0.7zM497.5,91.0h0.7v0.7h-0.7zM476.9,78.4h0.7v0.7h-0.7zM473.6,87.6h0.7v0.7h-0.7zM489.8,96.4h0.7v0.7h-0.7zM496.8,80.6h0.7v0.7h-0.7zM496.7,93.2h0.7v0.7h-0.7zM494.9,93.8h0.7v0.7h-0.7zM474.1,89.5h0.7v0.7h-0.7zM477.9,78.0h0.7v0.7h-0.7zM475.7,90.2h0.7v0.7h-0.7zM484.6,76.7h0.7v0.7h-0.7zM474.3,88.4h0.7v0.7h-0.7zM480.4,76.6h0.7v0.7h-0.7zM487.3,97.6h0.7v0.7h-0.7zM482.0,76.5h0.7v0.7h-0.7zM495.0,95.5h0.7v0.7h-0.7zM477.0,80.7h0.7v0.7h-0.7zM487.5,98.2h0.7v0.7h-0.7zM488.2,97.0h0.7v0.7h-0.7zM489.7,75.4h0.7v0.7h-0.7zM477.7,78.1h0.7v0.7h-0.7zM497.9,88.9h0.7v0.7h-0.7zM499.7,84.8h0.7v0.7h-0.7zM497.8,88.8h0.7v0.7h-0.7zM487.3,98.1h0.7v0.7h-0.7zM489.0,97.4h0.7v0.7h-0.7zM498.2,81.8h0.7v0.7h-0.7zM497.1,81.5h0.7v0.7h-0.7zM493.1,94.6h0.7v0.7h-0.7zM487.0,76.5h0.7v0.7h-0.7zM499.4,84.6h0.7v0.7h-0.7zM491.7,97.0h0.7v0.7h-0.7zM493.1,95.7h0.7v0.7h-0.7zM497.0,93.5h0.7v0.7h-0.7zM497.0,79.1h0.7v0.7h-0.7zM500.0,86.7h0.7v0.7h-0.7zM473.9,82.6h0.7v0.7h-0.7zM473.6,86.3h0.7v0.7h-0.7zM475.4,80.1h0.7v0.7h-0.7zM496.8,91.1h0.7v0.7h-0.7zM474.8,83.6h0.7v0.7h-0.7zM477.3,92.4h0.7v0.7h-0.7zM486.1,76.7h0.7v0.7h-0.7zM492.9,76.5h0.7v0.7h-0.7zM475.1,89.1h0.7v0.7h-0.7zM479.5,78.2h0.7v0.7h-0.7zM475.9,90.8h0.7v0.7h-0.7zM499.1,84.9h0.7v0.7h-0.7zM479.5,94.5h0.7v0.7h-0.7zM484.8,75.1h0.7v0.7h-0.7zM493.3,78.3h0.7v0.7h-0.7zM478.3,94.2h0.7v0.7h-0.7zM487.4,76.4h0.7v0.7h-0.7zM475.7,79.2h0.7v0.7h-0.7zM487.9,76.8h0.7v0.7h-0.7zM497.0,91.0h0.7v0.7h-0.7zM481.9,76.2h0.7v0.7h-0.7zM474.1,85.2h0.7v0.7h-0.7zM475.7,92.5h0.7v0.7h-0.7zM478.4,77.2h0.7v0.7h-0.7zM485.1,75.2h0.7v0.7h-0.7zM498.0,80.5h0.7v0.7h-0.7zM484.1,76.9h0.7v0.7h-0.7zM480.8,76.1h0.7v0.7h-0.7zM474.2,91.4h0.7v0.7h-0.7zM492.3,97.0h0.7v0.7h-0.7zM474.2,90.5h0.7v0.7h-0.7zM486.3,96.9h0.7v0.7h-0.7zM479.4,95.0h0.7v0.7h-0.7zM496.9,92.5h0.7v0.7h-0.7z" fill="#333"/><path d="M497.80,86.50 L497.84,87.34 L497.80,88.19 L497.65,89.04 L497.39,89.87 L497.04,90.67 L496.58,91.44 L496.02,92.17 L495.38,92.83 L494.66,93.43 L493.87,93.96 L493.03,94.42 L492.15,94.81 L491.24,95.13 L490.31,95.39 L489.36,95.58 L488.41,95.71 L487.46,95.79 L486.50,95.81 L485.54,95.79 L484.59,95.71 L483.64,95.58 L482.69,95.39 L481.76,95.13 L480.85,94.81 L479.97,94.42 L479.13,93.96 L478.34,93.43 L477.62,92.83 L476.98,92.17 L476.42,91.44 L475.96,90.67 L475.61,89.87 L475.35,89.04 L475.20,88.19 L475.16,87.34 L475.20,86.50 L475.33,85.67 L475.54,84.86 L475.82,84.07 L476.16,83.30 L476.56,82.56 L477.01,81.84 L477.51,81.15 L478.07,80.49 L478.68,79.86 L479.35,79.26 L480.07,78.70 L480.85,78.19 L481.69,77.73 L482.58,77.34 L483.51,77.03 L484.49,76.80 L485.49,76.66 L486.50,76.61 L487.51,76.66 L488.51,76.80 L489.49,77.03 L490.42,77.34 L491.31,77.73 L492.15,78.19 L492.93,78.70 L493.65,79.26 L494.32,79.86 L494.93,80.49 L495.49,81.15 L495.99,81.84 L496.44,82.56 L496.84,83.30 L497.18,84.07 L497.46,84.86 L497.67,85.67Z M496.85,86.47 L496.85,87.23 L496.75,87.99 L496.56,88.74 L496.27,89.47 L495.89,90.16 L495.43,90.82 L494.89,91.43 L494.29,91.98 L493.64,92.49 L492.95,92.94 L492.22,93.34 L491.47,93.69 L490.69,94.00 L489.89,94.26 L489.08,94.47 L488.25,94.65 L487.41,94.77 L486.56,94.85 L485.69,94.88 L484.82,94.84 L483.94,94.75 L483.08,94.58 L482.23,94.35 L481.41,94.04 L480.63,93.66 L479.90,93.21 L479.23,92.69 L478.64,92.11 L478.12,91.49 L477.68,90.82 L477.33,90.12 L477.06,89.40 L476.87,88.67 L476.76,87.93 L476.72,87.20 L476.73,86.47 L476.81,85.74 L476.94,85.03 L477.13,84.32 L477.37,83.63 L477.66,82.94 L478.01,82.27 L478.42,81.62 L478.88,81.00 L479.42,80.40 L480.02,79.85 L480.68,79.34 L481.41,78.89 L482.19,78.51 L483.01,78.20 L483.87,77.97 L484.76,77.82 L485.66,77.75 L486.56,77.76 L487.44,77.85 L488.31,78.02 L489.15,78.24 L489.96,78.53 L490.73,78.86 L491.47,79.24 L492.16,79.66 L492.83,80.12 L493.45,80.61 L494.04,81.13 L494.59,81.68 L495.10,82.27 L495.56,82.90 L495.96,83.56 L496.30,84.25 L496.57,84.97 L496.75,85.71Z M495.68,86.43 L495.62,87.10 L495.48,87.76 L495.26,88.40 L494.96,89.02 L494.61,89.60 L494.19,90.15 L493.73,90.67 L493.22,91.15 L492.68,91.59 L492.11,92.01 L491.51,92.38 L490.89,92.73 L490.24,93.04 L489.56,93.32 L488.86,93.55 L488.13,93.74 L487.38,93.89 L486.61,93.97 L485.83,94.00 L485.05,93.96 L484.27,93.85 L483.51,93.67 L482.77,93.42 L482.07,93.11 L481.42,92.73 L480.82,92.30 L480.28,91.81 L479.80,91.29 L479.38,90.73 L479.03,90.15 L478.73,89.55 L478.50,88.94 L478.31,88.32 L478.18,87.70 L478.09,87.07 L478.05,86.43 L478.06,85.80 L478.12,85.16 L478.23,84.53 L478.40,83.90 L478.63,83.27 L478.92,82.66 L479.29,82.08 L479.72,81.52 L480.22,81.00 L480.78,80.53 L481.40,80.12 L482.07,79.76 L482.79,79.47 L483.53,79.24 L484.29,79.09 L485.07,79.00 L485.84,78.97 L486.61,79.00 L487.37,79.08 L488.11,79.21 L488.83,79.39 L489.54,79.60 L490.22,79.85 L490.89,80.14 L491.53,80.46 L492.15,80.82 L492.74,81.22 L493.30,81.66 L493.82,82.14 L494.30,82.66 L494.71,83.22 L495.06,83.82 L495.34,84.45 L495.54,85.10 L495.65,85.76Z M494.33,86.40 L494.25,86.96 L494.10,87.52 L493.90,88.05 L493.66,88.56 L493.37,89.06 L493.04,89.53 L492.68,89.98 L492.29,90.41 L491.87,90.82 L491.41,91.21 L490.92,91.57 L490.40,91.90 L489.85,92.20 L489.26,92.46 L488.64,92.68 L488.00,92.84 L487.34,92.96 L486.67,93.01 L485.99,93.00 L485.31,92.92 L484.65,92.79 L484.01,92.59 L483.40,92.34 L482.83,92.04 L482.30,91.70 L481.81,91.32 L481.37,90.90 L480.96,90.46 L480.61,90.01 L480.29,89.53 L480.01,89.04 L479.76,88.54 L479.56,88.02 L479.39,87.49 L479.27,86.95 L479.19,86.40 L479.16,85.84 L479.19,85.28 L479.28,84.72 L479.43,84.16 L479.65,83.62 L479.93,83.10 L480.28,82.60 L480.69,82.14 L481.16,81.72 L481.68,81.35 L482.24,81.03 L482.83,80.76 L483.45,80.54 L484.08,80.37 L484.73,80.25 L485.37,80.17 L486.02,80.14 L486.67,80.14 L487.31,80.18 L487.94,80.26 L488.57,80.36 L489.19,80.51 L489.80,80.68 L490.40,80.90 L490.98,81.16 L491.54,81.46 L492.07,81.81 L492.56,82.20 L493.01,82.63 L493.40,83.10 L493.73,83.60 L493.99,84.14 L494.18,84.69 L494.30,85.26 L494.35,85.83Z M492.96,86.37 L492.90,86.83 L492.80,87.28 L492.66,87.72 L492.49,88.15 L492.29,88.57 L492.05,88.98 L491.79,89.38 L491.49,89.77 L491.15,90.13 L490.78,90.48 L490.37,90.80 L489.93,91.09 L489.45,91.34 L488.94,91.55 L488.40,91.71 L487.85,91.82 L487.29,91.88 L486.72,91.89 L486.16,91.84 L485.60,91.75 L485.07,91.61 L484.55,91.43 L484.06,91.21 L483.60,90.96 L483.16,90.68 L482.75,90.38 L482.37,90.06 L482.02,89.72 L481.69,89.36 L481.39,88.98 L481.11,88.59 L480.87,88.18 L480.67,87.75 L480.50,87.30 L480.38,86.84 L480.31,86.37 L480.29,85.89 L480.33,85.41 L480.43,84.94 L480.60,84.47 L480.82,84.03 L481.09,83.61 L481.42,83.21 L481.79,82.85 L482.20,82.53 L482.64,82.24 L483.11,81.99 L483.60,81.77 L484.10,81.59 L484.61,81.44 L485.13,81.32 L485.65,81.23 L486.18,81.17 L486.72,81.14 L487.26,81.13 L487.80,81.16 L488.34,81.23 L488.88,81.33 L489.41,81.47 L489.93,81.65 L490.42,81.88 L490.89,82.15 L491.32,82.46 L491.71,82.81 L492.06,83.19 L492.35,83.61 L492.58,84.04 L492.77,84.50 L492.89,84.96 L492.96,85.43 L492.99,85.90Z M491.71,86.34 L491.69,86.70 L491.64,87.06 L491.56,87.42 L491.46,87.78 L491.32,88.14 L491.15,88.48 L490.95,88.82 L490.71,89.14 L490.43,89.44 L490.12,89.72 L489.77,89.97 L489.39,90.19 L488.99,90.37 L488.56,90.51 L488.12,90.61 L487.68,90.68 L487.22,90.70 L486.77,90.68 L486.33,90.63 L485.90,90.55 L485.48,90.44 L485.07,90.30 L484.68,90.15 L484.31,89.97 L483.95,89.77 L483.60,89.55 L483.27,89.31 L482.96,89.06 L482.67,88.78 L482.40,88.48 L482.16,88.16 L481.95,87.83 L481.78,87.47 L481.66,87.10 L481.57,86.72 L481.54,86.34 L481.56,85.95 L481.62,85.56 L481.74,85.19 L481.90,84.83 L482.10,84.48 L482.34,84.16 L482.62,83.86 L482.92,83.58 L483.24,83.33 L483.58,83.10 L483.94,82.89 L484.31,82.70 L484.69,82.54 L485.09,82.39 L485.49,82.27 L485.91,82.17 L486.34,82.09 L486.77,82.04 L487.22,82.03 L487.67,82.04 L488.11,82.09 L488.55,82.19 L488.98,82.32 L489.39,82.48 L489.78,82.69 L490.14,82.93 L490.46,83.20 L490.75,83.50 L491.00,83.82 L491.21,84.16 L491.38,84.51 L491.51,84.87 L491.61,85.24 L491.67,85.60 L491.71,85.97Z M490.69,86.31 L490.70,86.59 L490.68,86.88 L490.63,87.17 L490.56,87.46 L490.45,87.74 L490.32,88.02 L490.14,88.28 L489.94,88.53 L489.71,88.75 L489.44,88.96 L489.16,89.13 L488.85,89.28 L488.53,89.40 L488.19,89.50 L487.85,89.56 L487.51,89.60 L487.17,89.61 L486.82,89.60 L486.49,89.57 L486.16,89.52 L485.83,89.45 L485.51,89.37 L485.20,89.27 L484.89,89.15 L484.60,89.01 L484.31,88.85 L484.04,88.67 L483.78,88.48 L483.55,88.26 L483.33,88.02 L483.15,87.76 L483.00,87.49 L482.89,87.20 L482.81,86.91 L482.78,86.61 L482.78,86.31 L482.82,86.01 L482.89,85.72 L482.99,85.43 L483.13,85.16 L483.28,84.90 L483.47,84.66 L483.66,84.42 L483.88,84.21 L484.11,84.00 L484.36,83.81 L484.62,83.63 L484.89,83.46 L485.18,83.31 L485.49,83.18 L485.80,83.07 L486.13,82.98 L486.48,82.92 L486.82,82.88 L487.18,82.88 L487.53,82.90 L487.88,82.96 L488.22,83.05 L488.54,83.18 L488.85,83.33 L489.13,83.50 L489.39,83.70 L489.63,83.92 L489.84,84.16 L490.02,84.40 L490.18,84.66 L490.32,84.92 L490.44,85.19 L490.53,85.46 L490.60,85.74 L490.66,86.02Z M489.81,86.28 L489.82,86.50 L489.81,86.72 L489.77,86.94 L489.70,87.15 L489.61,87.36 L489.49,87.56 L489.35,87.75 L489.18,87.92 L488.99,88.08 L488.79,88.22 L488.57,88.34 L488.34,88.44 L488.10,88.52 L487.86,88.59 L487.61,88.64 L487.37,88.67 L487.12,88.69 L486.87,88.70 L486.62,88.69 L486.37,88.67 L486.13,88.64 L485.88,88.59 L485.64,88.52 L485.40,88.44 L485.17,88.34 L484.95,88.22 L484.75,88.08 L484.56,87.92 L484.39,87.75 L484.25,87.56 L484.13,87.36 L484.04,87.15 L483.97,86.94 L483.93,86.72 L483.92,86.50 L483.93,86.28 L483.97,86.06 L484.02,85.85 L484.09,85.65 L484.18,85.45 L484.28,85.25 L484.40,85.07 L484.53,84.89 L484.68,84.71 L484.84,84.55 L485.01,84.39 L485.20,84.25 L485.40,84.12 L485.62,84.00 L485.85,83.90 L486.09,83.82 L486.35,83.76 L486.61,83.72 L486.87,83.71 L487.13,83.72 L487.39,83.76 L487.65,83.82 L487.89,83.90 L488.12,84.00 L488.34,84.12 L488.54,84.25 L488.73,84.40 L488.90,84.55 L489.06,84.72 L489.21,84.89 L489.34,85.07 L489.46,85.25 L489.56,85.45 L489.65,85.65 L489.72,85.85 L489.78,86.06Z" fill="none" stroke="#161616" stroke-width="0.75"/><ellipse cx="487" cy="86.2" rx="1.6" ry="1.3" fill="#fff"/></g>
<clipPath id="c26"><rect x="355.95" y="109.85000000000001" width="76.8" height="77.0"/></clipPath>
<g clip-path="url(#c26)"><path d="M416.1,151.0h0.7v0.7h-0.7zM416.8,147.8h0.7v0.7h-0.7zM417.7,135.5h0.7v0.7h-0.7zM406.1,147.2h0.7v0.7h-0.7zM406.0,158.2h0.7v0.7h-0.7zM411.0,152.6h0.7v0.7h-0.7zM417.9,143.1h0.7v0.7h-0.7zM400.3,161.1h0.7v0.7h-0.7zM408.3,139.6h0.7v0.7h-0.7zM408.4,144.9h0.7v0.7h-0.7zM416.3,158.9h0.7v0.7h-0.7zM402.2,159.8h0.7v0.7h-0.7zM400.2,157.5h0.7v0.7h-0.7zM410.1,151.2h0.7v0.7h-0.7zM396.0,150.3h0.7v0.7h-0.7zM390.0,148.6h0.7v0.7h-0.7zM393.0,159.3h0.7v0.7h-0.7zM399.2,137.4h0.7v0.7h-0.7zM410.1,154.2h0.7v0.7h-0.7zM402.5,164.7h0.7v0.7h-0.7zM411.4,152.4h0.7v0.7h-0.7zM401.5,134.3h0.7v0.7h-0.7zM409.4,157.8h0.7v0.7h-0.7zM401.9,143.5h0.7v0.7h-0.7zM405.7,142.0h0.7v0.7h-0.7zM406.1,156.6h0.7v0.7h-0.7zM416.6,153.6h0.7v0.7h-0.7zM407.4,156.5h0.7v0.7h-0.7zM415.8,150.1h0.7v0.7h-0.7zM397.4,147.3h0.7v0.7h-0.7zM397.2,146.7h0.7v0.7h-0.7zM405.2,154.1h0.7v0.7h-0.7zM407.1,152.4h0.7v0.7h-0.7zM403.5,154.5h0.7v0.7h-0.7zM412.2,156.6h0.7v0.7h-0.7zM416.5,150.3h0.7v0.7h-0.7zM404.2,162.2h0.7v0.7h-0.7zM407.4,154.5h0.7v0.7h-0.7zM403.6,157.8h0.7v0.7h-0.7zM403.2,146.0h0.7v0.7h-0.7zM405.6,149.3h0.7v0.7h-0.7zM411.8,149.7h0.7v0.7h-0.7zM406.9,150.7h0.7v0.7h-0.7zM408.4,148.2h0.7v0.7h-0.7zM413.7,143.5h0.7v0.7h-0.7zM403.3,147.7h0.7v0.7h-0.7zM410.5,152.2h0.7v0.7h-0.7zM409.4,150.0h0.7v0.7h-0.7zM401.0,145.3h0.7v0.7h-0.7zM403.7,148.8h0.7v0.7h-0.7zM408.0,154.1h0.7v0.7h-0.7zM412.8,151.4h0.7v0.7h-0.7zM400.8,145.6h0.7v0.7h-0.7zM406.4,154.2h0.7v0.7h-0.7zM419.6,153.1h0.7v0.7h-0.7zM418.3,163.2h0.7v0.7h-0.7zM398.7,159.3h0.7v0.7h-0.7zM414.0,160.1h0.7v0.7h-0.7zM405.9,157.7h0.7v0.7h-0.7zM402.6,151.6h0.7v0.7h-0.7zM406.1,162.7h0.7v0.7h-0.7zM404.5,157.7h0.7v0.7h-0.7zM406.5,147.7h0.7v0.7h-0.7zM407.7,156.0h0.7v0.7h-0.7zM401.0,155.8h0.7v0.7h-0.7zM401.0,146.7h0.7v0.7h-0.7zM407.5,150.6h0.7v0.7h-0.7zM399.1,142.2h0.7v0.7h-0.7zM406.2,153.5h0.7v0.7h-0.7zM402.8,153.1h0.7v0.7h-0.7zM395.3,154.4h0.7v0.7h-0.7zM408.9,153.7h0.7v0.7h-0.7zM401.7,152.5h0.7v0.7h-0.7zM406.9,158.4h0.7v0.7h-0.7zM407.9,153.5h0.7v0.7h-0.7zM400.9,157.2h0.7v0.7h-0.7zM414.2,149.0h0.7v0.7h-0.7zM410.5,153.8h0.7v0.7h-0.7zM405.7,144.3h0.7v0.7h-0.7zM418.3,140.8h0.7v0.7h-0.7zM408.1,149.7h0.7v0.7h-0.7zM414.0,149.5h0.7v0.7h-0.7zM406.3,155.7h0.7v0.7h-0.7zM409.2,148.9h0.7v0.7h-0.7zM410.8,154.3h0.7v0.7h-0.7zM412.9,148.9h0.7v0.7h-0.7zM405.7,149.7h0.7v0.7h-0.7zM400.1,153.5h0.7v0.7h-0.7zM408.9,160.5h0.7v0.7h-0.7zM403.7,154.3h0.7v0.7h-0.7zM414.0,151.3h0.7v0.7h-0.7zM406.4,152.8h0.7v0.7h-0.7zM401.2,146.1h0.7v0.7h-0.7zM413.8,153.0h0.7v0.7h-0.7zM405.5,144.6h0.7v0.7h-0.7zM406.8,159.0h0.7v0.7h-0.7zM398.0,146.7h0.7v0.7h-0.7zM413.7,160.6h0.7v0.7h-0.7zM416.8,148.7h0.7v0.7h-0.7zM410.2,147.5h0.7v0.7h-0.7zM409.6,149.8h0.7v0.7h-0.7zM407.4,160.0h0.7v0.7h-0.7zM408.4,150.6h0.7v0.7h-0.7zM406.4,153.6h0.7v0.7h-0.7zM402.4,153.2h0.7v0.7h-0.7zM410.2,161.3h0.7v0.7h-0.7zM391.6,144.9h0.7v0.7h-0.7zM397.4,157.2h0.7v0.7h-0.7zM423.0,153.2h0.7v0.7h-0.7zM406.8,158.8h0.7v0.7h-0.7z" fill="#444"/><path d="M370.9,143.3h0.7v0.7h-0.7zM386.1,141.9h0.7v0.7h-0.7zM399.9,150.0h0.7v0.7h-0.7zM386.8,185.3h0.7v0.7h-0.7zM372.0,162.9h0.7v0.7h-0.7zM365.2,167.3h0.7v0.7h-0.7zM397.2,151.9h0.7v0.7h-0.7zM397.7,172.4h0.7v0.7h-0.7zM404.6,150.0h0.7v0.7h-0.7zM379.0,165.4h0.7v0.7h-0.7zM388.7,157.9h0.7v0.7h-0.7zM413.2,174.4h0.7v0.7h-0.7zM385.8,156.1h0.7v0.7h-0.7zM356.5,147.4h0.7v0.7h-0.7zM384.7,146.9h0.7v0.7h-0.7zM381.1,158.4h0.7v0.7h-0.7zM363.0,142.1h0.7v0.7h-0.7zM361.2,126.4h0.7v0.7h-0.7zM393.7,147.0h0.7v0.7h-0.7zM397.2,144.9h0.7v0.7h-0.7zM417.9,159.9h0.7v0.7h-0.7z" fill="#777"/><path d="M362.9,178.3h0.7v0.7h-0.7zM378.3,179.0h0.7v0.7h-0.7zM357.6,171.9h0.7v0.7h-0.7zM388.7,175.0h0.7v0.7h-0.7zM364.6,167.1h0.7v0.7h-0.7zM383.7,170.2h0.7v0.7h-0.7zM363.1,179.0h0.7v0.7h-0.7zM383.4,170.0h0.7v0.7h-0.7zM369.0,166.5h0.7v0.7h-0.7zM359.8,171.9h0.7v0.7h-0.7zM359.1,178.0h0.7v0.7h-0.7zM388.1,172.9h0.7v0.7h-0.7zM379.9,169.2h0.7v0.7h-0.7zM373.2,180.2h0.7v0.7h-0.7zM391.0,173.7h0.7v0.7h-0.7zM359.4,177.7h0.7v0.7h-0.7zM385.9,171.3h0.7v0.7h-0.7zM382.5,169.3h0.7v0.7h-0.7zM358.5,174.3h0.7v0.7h-0.7zM381.8,169.2h0.7v0.7h-0.7zM383.5,170.7h0.7v0.7h-0.7zM358.1,171.5h0.7v0.7h-0.7zM372.8,180.3h0.7v0.7h-0.7zM359.9,171.7h0.7v0.7h-0.7zM389.3,175.4h0.7v0.7h-0.7zM362.2,169.2h0.7v0.7h-0.7zM375.9,167.9h0.7v0.7h-0.7zM383.3,169.7h0.7v0.7h-0.7zM363.9,179.3h0.7v0.7h-0.7zM371.1,180.2h0.7v0.7h-0.7zM359.9,175.6h0.7v0.7h-0.7zM387.7,175.4h0.7v0.7h-0.7zM360.1,177.8h0.7v0.7h-0.7zM359.2,170.7h0.7v0.7h-0.7zM384.8,177.2h0.7v0.7h-0.7zM388.4,174.5h0.7v0.7h-0.7zM389.0,173.9h0.7v0.7h-0.7zM381.2,169.8h0.7v0.7h-0.7zM386.5,176.8h0.7v0.7h-0.7zM372.7,166.8h0.7v0.7h-0.7zM384.9,170.5h0.7v0.7h-0.7zM379.4,168.1h0.7v0.7h-0.7zM368.9,181.0h0.7v0.7h-0.7zM379.3,178.6h0.7v0.7h-0.7zM367.4,167.0h0.7v0.7h-0.7zM364.4,167.0h0.7v0.7h-0.7zM387.3,172.4h0.7v0.7h-0.7zM358.4,174.6h0.7v0.7h-0.7zM376.8,168.2h0.7v0.7h-0.7zM361.4,177.1h0.7v0.7h-0.7zM366.7,180.7h0.7v0.7h-0.7zM359.3,174.0h0.7v0.7h-0.7zM376.1,180.1h0.7v0.7h-0.7zM360.0,173.2h0.7v0.7h-0.7zM361.3,179.6h0.7v0.7h-0.7zM359.8,172.3h0.7v0.7h-0.7zM382.8,177.8h0.7v0.7h-0.7zM381.3,178.2h0.7v0.7h-0.7zM389.7,173.9h0.7v0.7h-0.7zM360.6,176.5h0.7v0.7h-0.7zM366.8,179.8h0.7v0.7h-0.7zM386.4,171.2h0.7v0.7h-0.7zM375.9,180.2h0.7v0.7h-0.7zM376.6,168.1h0.7v0.7h-0.7zM389.6,173.8h0.7v0.7h-0.7zM359.8,170.1h0.7v0.7h-0.7zM360.3,176.3h0.7v0.7h-0.7zM380.0,169.0h0.7v0.7h-0.7zM377.6,168.5h0.7v0.7h-0.7zM369.5,166.6h0.7v0.7h-0.7zM360.9,178.5h0.7v0.7h-0.7zM368.5,180.9h0.7v0.7h-0.7zM368.8,166.6h0.7v0.7h-0.7zM372.8,179.9h0.7v0.7h-0.7zM382.9,169.8h0.7v0.7h-0.7zM364.7,179.5h0.7v0.7h-0.7zM387.4,172.6h0.7v0.7h-0.7zM384.7,171.1h0.7v0.7h-0.7zM375.3,179.9h0.7v0.7h-0.7zM390.9,173.6h0.7v0.7h-0.7zM358.0,175.5h0.7v0.7h-0.7zM371.7,180.2h0.7v0.7h-0.7zM385.2,170.6h0.7v0.7h-0.7zM387.6,171.4h0.7v0.7h-0.7zM370.1,180.3h0.7v0.7h-0.7zM382.5,170.1h0.7v0.7h-0.7zM366.1,179.9h0.7v0.7h-0.7zM372.2,166.7h0.7v0.7h-0.7zM378.2,167.7h0.7v0.7h-0.7zM370.2,167.3h0.7v0.7h-0.7zM381.2,178.6h0.7v0.7h-0.7zM359.1,176.8h0.7v0.7h-0.7zM362.1,177.8h0.7v0.7h-0.7zM389.4,173.8h0.7v0.7h-0.7zM358.8,170.0h0.7v0.7h-0.7zM389.2,174.1h0.7v0.7h-0.7zM362.7,179.3h0.7v0.7h-0.7zM390.0,173.7h0.7v0.7h-0.7zM377.9,168.2h0.7v0.7h-0.7zM372.1,167.6h0.7v0.7h-0.7zM360.3,177.3h0.7v0.7h-0.7zM389.7,173.9h0.7v0.7h-0.7zM381.9,169.9h0.7v0.7h-0.7zM381.2,178.3h0.7v0.7h-0.7zM378.5,168.0h0.7v0.7h-0.7zM385.5,176.5h0.7v0.7h-0.7zM358.8,169.8h0.7v0.7h-0.7zM385.4,171.6h0.7v0.7h-0.7zM390.4,174.2h0.7v0.7h-0.7zM377.1,179.0h0.7v0.7h-0.7zM357.2,172.7h0.7v0.7h-0.7zM363.5,179.6h0.7v0.7h-0.7zM385.8,171.5h0.7v0.7h-0.7zM359.1,177.5h0.7v0.7h-0.7zM372.4,167.2h0.7v0.7h-0.7zM361.0,178.0h0.7v0.7h-0.7zM359.9,178.9h0.7v0.7h-0.7zM359.9,176.4h0.7v0.7h-0.7zM372.8,167.7h0.7v0.7h-0.7zM363.0,178.5h0.7v0.7h-0.7zM366.2,180.4h0.7v0.7h-0.7zM367.0,167.6h0.7v0.7h-0.7zM366.7,180.8h0.7v0.7h-0.7zM388.4,174.8h0.7v0.7h-0.7zM363.6,179.2h0.7v0.7h-0.7zM359.9,172.4h0.7v0.7h-0.7zM375.5,180.2h0.7v0.7h-0.7zM361.0,168.2h0.7v0.7h-0.7zM391.8,174.0h0.7v0.7h-0.7zM386.7,172.0h0.7v0.7h-0.7zM390.9,174.1h0.7v0.7h-0.7zM376.0,168.2h0.7v0.7h-0.7zM368.4,181.2h0.7v0.7h-0.7zM361.1,179.2h0.7v0.7h-0.7zM382.6,177.4h0.7v0.7h-0.7zM375.0,180.0h0.7v0.7h-0.7zM359.6,173.3h0.7v0.7h-0.7zM365.0,167.8h0.7v0.7h-0.7zM366.6,180.8h0.7v0.7h-0.7zM382.7,177.3h0.7v0.7h-0.7zM389.4,175.1h0.7v0.7h-0.7zM363.8,167.7h0.7v0.7h-0.7zM357.6,174.4h0.7v0.7h-0.7zM388.1,171.7h0.7v0.7h-0.7zM359.7,171.3h0.7v0.7h-0.7zM364.6,167.1h0.7v0.7h-0.7zM376.1,179.7h0.7v0.7h-0.7zM385.5,176.3h0.7v0.7h-0.7zM385.2,176.1h0.7v0.7h-0.7zM372.0,181.0h0.7v0.7h-0.7zM388.5,175.3h0.7v0.7h-0.7zM361.7,168.2h0.7v0.7h-0.7zM373.9,180.8h0.7v0.7h-0.7zM368.6,166.3h0.7v0.7h-0.7zM376.8,167.6h0.7v0.7h-0.7zM368.6,167.4h0.7v0.7h-0.7zM383.3,170.2h0.7v0.7h-0.7zM366.5,167.8h0.7v0.7h-0.7zM389.6,173.5h0.7v0.7h-0.7zM367.8,167.3h0.7v0.7h-0.7zM364.9,166.9h0.7v0.7h-0.7zM363.7,168.6h0.7v0.7h-0.7zM358.9,170.4h0.7v0.7h-0.7zM381.8,169.3h0.7v0.7h-0.7zM358.0,176.5h0.7v0.7h-0.7zM389.7,173.3h0.7v0.7h-0.7zM383.5,177.8h0.7v0.7h-0.7zM371.0,166.6h0.7v0.7h-0.7zM371.0,180.4h0.7v0.7h-0.7zM374.4,179.6h0.7v0.7h-0.7z" fill="#333"/><path d="M360.00,173.80 L360.06,174.48 L360.22,175.15 L360.49,175.80 L360.87,176.43 L361.36,177.03 L361.94,177.58 L362.62,178.09 L363.39,178.54 L364.25,178.94 L365.18,179.27 L366.18,179.54 L367.25,179.73 L368.37,179.86 L369.54,179.93 L370.75,179.92 L371.98,179.84 L373.24,179.71 L374.50,179.51 L375.76,179.26 L377.02,178.96 L378.25,178.62 L379.46,178.24 L380.63,177.84 L381.75,177.42 L382.82,176.99 L383.82,176.55 L384.75,176.12 L385.61,175.71 L386.38,175.32 L387.06,174.96 L387.64,174.63 L388.13,174.35 L388.51,174.12 L388.78,173.95 L388.94,173.84 L389.00,173.80 L388.94,173.76 L388.78,173.65 L388.51,173.48 L388.13,173.25 L387.64,172.97 L387.06,172.64 L386.38,172.28 L385.61,171.89 L384.75,171.48 L383.82,171.05 L382.82,170.61 L381.75,170.18 L380.63,169.76 L379.46,169.36 L378.25,168.98 L377.02,168.64 L375.76,168.34 L374.50,168.09 L373.24,167.89 L371.98,167.76 L370.75,167.68 L369.54,167.67 L368.37,167.74 L367.25,167.87 L366.18,168.06 L365.18,168.33 L364.25,168.66 L363.39,169.06 L362.62,169.51 L361.94,170.02 L361.36,170.57 L360.87,171.17 L360.49,171.80 L360.22,172.45 L360.06,173.12Z" fill="#fff" stroke="#1a1a1a" stroke-width="0.8"/><path d="M361.61,173.71 L361.65,174.24 L361.78,174.76 L361.99,175.27 L362.29,175.76 L362.67,176.23 L363.12,176.66 L363.65,177.06 L364.25,177.41 L364.92,177.72 L365.65,177.98 L366.43,178.19 L367.26,178.34 L368.14,178.44 L369.05,178.49 L369.99,178.48 L370.95,178.43 L371.93,178.32 L372.92,178.17 L373.90,177.97 L374.88,177.74 L375.84,177.47 L376.78,177.18 L377.70,176.86 L378.57,176.54 L379.40,176.20 L380.19,175.86 L380.91,175.52 L381.58,175.20 L382.18,174.90 L382.71,174.61 L383.17,174.36 L383.54,174.14 L383.84,173.96 L384.05,173.83 L384.18,173.74 L384.23,173.71 L384.18,173.68 L384.05,173.59 L383.84,173.46 L383.54,173.28 L383.17,173.06 L382.71,172.81 L382.18,172.53 L381.58,172.22 L380.91,171.90 L380.19,171.57 L379.40,171.23 L378.57,170.89 L377.70,170.56 L376.78,170.25 L375.84,169.95 L374.88,169.69 L373.90,169.45 L372.92,169.26 L371.93,169.11 L370.95,169.00 L369.99,168.94 L369.05,168.93 L368.14,168.98 L367.26,169.08 L366.43,169.24 L365.65,169.45 L364.92,169.71 L364.25,170.01 L363.65,170.37 L363.12,170.76 L362.67,171.20 L362.29,171.66 L361.99,172.15 L361.78,172.66 L361.65,173.18Z M363.21,173.62 L363.24,174.00 L363.34,174.38 L363.49,174.75 L363.70,175.10 L363.97,175.43 L364.30,175.74 L364.68,176.02 L365.11,176.28 L365.59,176.50 L366.11,176.69 L366.67,176.84 L367.27,176.95 L367.90,177.02 L368.55,177.05 L369.23,177.05 L369.92,177.01 L370.62,176.93 L371.33,176.82 L372.04,176.68 L372.74,176.51 L373.43,176.32 L374.11,176.11 L374.76,175.89 L375.39,175.65 L375.99,175.41 L376.55,175.17 L377.07,174.93 L377.55,174.69 L377.98,174.47 L378.36,174.27 L378.69,174.09 L378.96,173.93 L379.18,173.80 L379.33,173.71 L379.42,173.65 L379.45,173.62 L379.42,173.60 L379.33,173.54 L379.18,173.44 L378.96,173.31 L378.69,173.16 L378.36,172.98 L377.98,172.77 L377.55,172.55 L377.07,172.32 L376.55,172.08 L375.99,171.84 L375.39,171.60 L374.76,171.36 L374.11,171.14 L373.43,170.92 L372.74,170.73 L372.04,170.57 L371.33,170.43 L370.62,170.32 L369.92,170.24 L369.23,170.20 L368.55,170.19 L367.90,170.23 L367.27,170.30 L366.67,170.41 L366.11,170.56 L365.59,170.75 L365.11,170.97 L364.68,171.22 L364.30,171.51 L363.97,171.82 L363.70,172.15 L363.49,172.50 L363.34,172.87 L363.24,173.24Z" fill="none" stroke="#222" stroke-width="0.75"/><circle cx="367.3" cy="173.4" r="1.6" fill="#fff" stroke="#222" stroke-width="0.7"/><path d="M398.4,181.7h0.8v0.8h-0.8zM406.3,159.0h0.8v0.8h-0.8zM412.5,176.2h0.8v0.8h-0.8zM402.6,158.5h0.8v0.8h-0.8zM392.5,174.1h0.8v0.8h-0.8zM407.1,157.5h0.8v0.8h-0.8zM399.0,183.6h0.8v0.8h-0.8zM412.0,162.9h0.8v0.8h-0.8zM412.6,162.9h0.8v0.8h-0.8zM398.7,184.1h0.8v0.8h-0.8zM393.9,165.6h0.8v0.8h-0.8zM393.1,163.7h0.8v0.8h-0.8zM392.1,169.5h0.8v0.8h-0.8zM392.8,178.1h0.8v0.8h-0.8zM397.8,160.2h0.8v0.8h-0.8zM396.1,180.8h0.8v0.8h-0.8zM414.4,167.5h0.8v0.8h-0.8zM411.7,181.0h0.8v0.8h-0.8zM414.3,173.9h0.8v0.8h-0.8zM392.6,176.7h0.8v0.8h-0.8zM393.8,176.3h0.8v0.8h-0.8zM391.5,168.9h0.8v0.8h-0.8zM405.8,158.5h0.8v0.8h-0.8zM405.2,184.6h0.8v0.8h-0.8zM406.6,159.1h0.8v0.8h-0.8zM412.3,161.4h0.8v0.8h-0.8zM393.2,176.2h0.8v0.8h-0.8zM400.2,157.2h0.8v0.8h-0.8zM406.4,183.1h0.8v0.8h-0.8zM397.6,183.1h0.8v0.8h-0.8zM407.6,183.3h0.8v0.8h-0.8zM391.6,171.0h0.8v0.8h-0.8zM410.8,182.2h0.8v0.8h-0.8zM414.5,171.0h0.8v0.8h-0.8zM406.2,159.1h0.8v0.8h-0.8zM412.8,163.9h0.8v0.8h-0.8zM403.9,156.9h0.8v0.8h-0.8zM395.4,181.9h0.8v0.8h-0.8zM405.9,182.6h0.8v0.8h-0.8zM391.2,170.8h0.8v0.8h-0.8zM413.0,162.6h0.8v0.8h-0.8zM391.1,170.0h0.8v0.8h-0.8zM393.4,166.5h0.8v0.8h-0.8zM395.2,160.8h0.8v0.8h-0.8zM393.1,177.2h0.8v0.8h-0.8zM402.6,183.6h0.8v0.8h-0.8zM393.3,177.4h0.8v0.8h-0.8zM393.0,173.4h0.8v0.8h-0.8zM414.1,171.5h0.8v0.8h-0.8zM400.8,157.5h0.8v0.8h-0.8zM404.1,183.6h0.8v0.8h-0.8zM392.7,169.7h0.8v0.8h-0.8zM393.6,162.5h0.8v0.8h-0.8zM406.6,183.8h0.8v0.8h-0.8zM401.1,157.4h0.8v0.8h-0.8zM400.5,157.7h0.8v0.8h-0.8zM401.5,184.9h0.8v0.8h-0.8zM412.4,165.5h0.8v0.8h-0.8zM413.6,166.5h0.8v0.8h-0.8zM412.1,177.3h0.8v0.8h-0.8zM406.6,158.0h0.8v0.8h-0.8zM410.2,181.2h0.8v0.8h-0.8zM395.3,160.0h0.8v0.8h-0.8zM397.1,182.9h0.8v0.8h-0.8zM403.5,183.5h0.8v0.8h-0.8zM409.0,182.0h0.8v0.8h-0.8zM395.2,162.4h0.8v0.8h-0.8zM408.8,181.7h0.8v0.8h-0.8zM412.3,177.3h0.8v0.8h-0.8zM398.7,183.1h0.8v0.8h-0.8zM407.7,183.0h0.8v0.8h-0.8zM391.9,176.3h0.8v0.8h-0.8zM391.1,172.2h0.8v0.8h-0.8zM392.8,173.2h0.8v0.8h-0.8zM394.4,164.3h0.8v0.8h-0.8zM408.2,181.6h0.8v0.8h-0.8zM399.5,157.3h0.8v0.8h-0.8zM394.2,178.3h0.8v0.8h-0.8zM393.5,176.8h0.8v0.8h-0.8zM399.2,158.9h0.8v0.8h-0.8zM410.1,182.5h0.8v0.8h-0.8zM394.0,165.7h0.8v0.8h-0.8zM410.0,159.9h0.8v0.8h-0.8zM396.2,181.7h0.8v0.8h-0.8zM412.9,164.8h0.8v0.8h-0.8zM393.3,176.2h0.8v0.8h-0.8zM392.3,166.5h0.8v0.8h-0.8zM402.1,156.8h0.8v0.8h-0.8zM409.9,181.2h0.8v0.8h-0.8zM410.2,159.8h0.8v0.8h-0.8zM393.4,163.7h0.8v0.8h-0.8zM396.7,183.0h0.8v0.8h-0.8zM392.7,167.0h0.8v0.8h-0.8zM407.5,182.2h0.8v0.8h-0.8zM412.7,162.6h0.8v0.8h-0.8zM413.9,173.1h0.8v0.8h-0.8zM392.1,172.7h0.8v0.8h-0.8zM395.3,181.7h0.8v0.8h-0.8zM396.6,181.7h0.8v0.8h-0.8zM413.6,165.2h0.8v0.8h-0.8zM392.4,172.8h0.8v0.8h-0.8zM394.5,179.8h0.8v0.8h-0.8zM405.6,158.7h0.8v0.8h-0.8zM395.7,180.4h0.8v0.8h-0.8zM395.3,181.8h0.8v0.8h-0.8zM392.8,167.9h0.8v0.8h-0.8zM397.3,183.1h0.8v0.8h-0.8zM409.4,182.5h0.8v0.8h-0.8zM413.7,172.7h0.8v0.8h-0.8zM414.2,176.1h0.8v0.8h-0.8zM409.6,181.0h0.8v0.8h-0.8zM413.2,175.5h0.8v0.8h-0.8zM402.0,157.3h0.8v0.8h-0.8zM413.5,163.4h0.8v0.8h-0.8zM391.7,166.5h0.8v0.8h-0.8zM413.4,178.6h0.8v0.8h-0.8zM393.5,176.0h0.8v0.8h-0.8zM403.1,156.9h0.8v0.8h-0.8zM395.4,179.0h0.8v0.8h-0.8zM411.4,161.1h0.8v0.8h-0.8zM393.2,162.8h0.8v0.8h-0.8zM413.2,173.9h0.8v0.8h-0.8zM410.5,179.5h0.8v0.8h-0.8zM400.2,157.9h0.8v0.8h-0.8zM411.2,179.0h0.8v0.8h-0.8zM408.0,183.2h0.8v0.8h-0.8zM397.5,158.3h0.8v0.8h-0.8zM395.4,182.0h0.8v0.8h-0.8zM393.1,176.2h0.8v0.8h-0.8zM403.0,183.6h0.8v0.8h-0.8zM415.3,168.7h0.8v0.8h-0.8zM400.3,159.1h0.8v0.8h-0.8zM407.7,182.2h0.8v0.8h-0.8zM396.3,182.1h0.8v0.8h-0.8zM413.7,175.8h0.8v0.8h-0.8zM398.9,160.0h0.8v0.8h-0.8zM392.2,176.2h0.8v0.8h-0.8zM393.3,165.0h0.8v0.8h-0.8zM411.6,161.9h0.8v0.8h-0.8zM397.5,182.1h0.8v0.8h-0.8zM414.4,166.1h0.8v0.8h-0.8zM413.0,164.2h0.8v0.8h-0.8zM409.8,180.7h0.8v0.8h-0.8zM394.6,180.1h0.8v0.8h-0.8zM415.0,171.4h0.8v0.8h-0.8zM405.7,158.1h0.8v0.8h-0.8zM415.0,171.5h0.8v0.8h-0.8zM393.3,178.0h0.8v0.8h-0.8zM392.6,165.2h0.8v0.8h-0.8zM393.0,178.8h0.8v0.8h-0.8zM414.8,167.1h0.8v0.8h-0.8zM395.1,162.6h0.8v0.8h-0.8zM395.5,179.9h0.8v0.8h-0.8zM412.9,163.1h0.8v0.8h-0.8zM406.0,157.4h0.8v0.8h-0.8zM414.8,170.2h0.8v0.8h-0.8zM398.3,183.6h0.8v0.8h-0.8zM402.3,184.4h0.8v0.8h-0.8zM409.7,182.8h0.8v0.8h-0.8zM392.5,171.9h0.8v0.8h-0.8zM412.4,165.3h0.8v0.8h-0.8zM413.8,165.1h0.8v0.8h-0.8zM410.2,182.1h0.8v0.8h-0.8zM392.4,164.7h0.8v0.8h-0.8zM393.7,164.3h0.8v0.8h-0.8zM412.7,166.0h0.8v0.8h-0.8zM405.0,158.9h0.8v0.8h-0.8zM401.5,183.1h0.8v0.8h-0.8zM410.9,161.6h0.8v0.8h-0.8zM401.6,158.5h0.8v0.8h-0.8zM401.8,157.5h0.8v0.8h-0.8zM412.4,178.6h0.8v0.8h-0.8zM401.3,158.7h0.8v0.8h-0.8zM397.1,160.6h0.8v0.8h-0.8zM394.9,181.3h0.8v0.8h-0.8zM414.7,166.0h0.8v0.8h-0.8zM393.0,176.9h0.8v0.8h-0.8zM407.4,158.1h0.8v0.8h-0.8zM391.7,174.8h0.8v0.8h-0.8zM393.3,179.3h0.8v0.8h-0.8zM392.9,173.1h0.8v0.8h-0.8zM403.1,158.7h0.8v0.8h-0.8zM398.8,160.0h0.8v0.8h-0.8zM414.5,170.0h0.8v0.8h-0.8zM402.6,158.7h0.8v0.8h-0.8zM396.0,161.2h0.8v0.8h-0.8zM403.3,185.0h0.8v0.8h-0.8zM414.1,173.7h0.8v0.8h-0.8zM413.4,178.3h0.8v0.8h-0.8zM411.2,163.5h0.8v0.8h-0.8zM392.3,173.9h0.8v0.8h-0.8zM400.9,157.5h0.8v0.8h-0.8zM396.5,182.9h0.8v0.8h-0.8zM407.3,182.3h0.8v0.8h-0.8zM407.3,159.7h0.8v0.8h-0.8zM407.6,183.1h0.8v0.8h-0.8zM397.8,181.6h0.8v0.8h-0.8zM413.3,165.4h0.8v0.8h-0.8zM405.6,158.7h0.8v0.8h-0.8zM412.3,164.5h0.8v0.8h-0.8zM412.7,163.5h0.8v0.8h-0.8zM414.8,168.5h0.8v0.8h-0.8zM395.5,161.3h0.8v0.8h-0.8zM410.0,160.7h0.8v0.8h-0.8zM413.0,179.2h0.8v0.8h-0.8zM407.2,158.2h0.8v0.8h-0.8zM402.8,158.5h0.8v0.8h-0.8zM391.6,174.2h0.8v0.8h-0.8zM414.9,167.6h0.8v0.8h-0.8zM409.4,182.5h0.8v0.8h-0.8zM392.8,166.7h0.8v0.8h-0.8zM408.4,181.7h0.8v0.8h-0.8zM392.2,173.4h0.8v0.8h-0.8zM402.0,183.8h0.8v0.8h-0.8zM392.1,166.4h0.8v0.8h-0.8zM394.3,164.4h0.8v0.8h-0.8zM411.5,162.5h0.8v0.8h-0.8zM415.0,167.4h0.8v0.8h-0.8zM410.4,181.3h0.8v0.8h-0.8zM413.9,168.3h0.8v0.8h-0.8z" fill="#222"/><path d="M413.20,171.20 L413.16,172.21 L413.05,173.21 L412.87,174.20 L412.61,175.17 L412.28,176.10 L411.89,177.00 L411.43,177.85 L410.91,178.66 L410.33,179.40 L409.70,180.09 L409.02,180.70 L408.30,181.25 L407.54,181.71 L406.75,182.10 L405.94,182.40 L405.10,182.62 L404.25,182.76 L403.40,182.80 L402.55,182.76 L401.70,182.62 L400.86,182.40 L400.05,182.10 L399.26,181.71 L398.50,181.25 L397.78,180.70 L397.10,180.09 L396.47,179.40 L395.89,178.66 L395.37,177.85 L394.91,177.00 L394.52,176.10 L394.19,175.17 L393.93,174.20 L393.75,173.21 L393.64,172.21 L393.60,171.20 L393.64,170.19 L393.75,169.19 L393.93,168.20 L394.19,167.23 L394.52,166.30 L394.91,165.40 L395.37,164.55 L395.89,163.74 L396.47,163.00 L397.10,162.31 L397.78,161.70 L398.50,161.15 L399.26,160.69 L400.05,160.30 L400.86,160.00 L401.70,159.78 L402.55,159.64 L403.40,159.60 L404.25,159.64 L405.10,159.78 L405.94,160.00 L406.75,160.30 L407.54,160.69 L408.30,161.15 L409.02,161.70 L409.70,162.31 L410.33,163.00 L410.91,163.74 L411.43,164.55 L411.89,165.40 L412.28,166.30 L412.61,167.23 L412.87,168.20 L413.05,169.19 L413.16,170.19Z" fill="none" stroke="#1e1e1e" stroke-width="2.0"/><path d="M411.48,170.99 L411.45,171.84 L411.36,172.69 L411.20,173.52 L410.99,174.34 L410.71,175.13 L410.38,175.89 L409.99,176.61 L409.55,177.29 L409.07,177.92 L408.53,178.50 L407.96,179.02 L407.36,179.48 L406.72,179.87 L406.05,180.20 L405.36,180.46 L404.66,180.64 L403.95,180.75 L403.23,180.79 L402.51,180.75 L401.79,180.64 L401.09,180.46 L400.40,180.20 L399.74,179.87 L399.10,179.48 L398.49,179.02 L397.92,178.50 L397.39,177.92 L396.90,177.29 L396.47,176.61 L396.08,175.89 L395.75,175.13 L395.47,174.34 L395.25,173.52 L395.10,172.69 L395.00,171.84 L394.97,170.99 L395.00,170.13 L395.10,169.28 L395.25,168.45 L395.47,167.63 L395.75,166.84 L396.08,166.08 L396.47,165.36 L396.90,164.68 L397.39,164.05 L397.92,163.48 L398.49,162.96 L399.10,162.50 L399.74,162.10 L400.40,161.77 L401.09,161.52 L401.79,161.33 L402.51,161.22 L403.23,161.18 L403.95,161.22 L404.66,161.33 L405.36,161.52 L406.05,161.77 L406.72,162.10 L407.36,162.50 L407.96,162.96 L408.53,163.48 L409.07,164.05 L409.55,164.68 L409.99,165.36 L410.38,166.08 L410.71,166.84 L410.99,167.63 L411.20,168.45 L411.36,169.28 L411.45,170.13Z M410.17,170.97 L410.14,171.69 L410.06,172.40 L409.93,173.10 L409.75,173.78 L409.52,174.44 L409.24,175.08 L408.92,175.68 L408.55,176.25 L408.14,176.78 L407.70,177.26 L407.22,177.70 L406.71,178.08 L406.18,178.41 L405.62,178.68 L405.04,178.90 L404.46,179.06 L403.86,179.15 L403.26,179.18 L402.65,179.15 L402.06,179.06 L401.47,178.90 L400.89,178.68 L400.33,178.41 L399.80,178.08 L399.29,177.70 L398.81,177.26 L398.37,176.78 L397.96,176.25 L397.59,175.68 L397.27,175.08 L396.99,174.44 L396.76,173.78 L396.58,173.10 L396.45,172.40 L396.37,171.69 L396.34,170.97 L396.37,170.26 L396.45,169.55 L396.58,168.85 L396.76,168.16 L396.99,167.50 L397.27,166.87 L397.59,166.26 L397.96,165.70 L398.37,165.17 L398.81,164.68 L399.29,164.25 L399.80,163.86 L400.33,163.53 L400.89,163.26 L401.47,163.04 L402.06,162.89 L402.65,162.80 L403.26,162.76 L403.86,162.80 L404.46,162.89 L405.04,163.04 L405.62,163.26 L406.18,163.53 L406.71,163.86 L407.22,164.25 L407.70,164.68 L408.14,165.17 L408.55,165.70 L408.92,166.26 L409.24,166.87 L409.52,167.50 L409.75,168.16 L409.93,168.85 L410.06,169.55 L410.14,170.26Z M408.85,170.96 L408.83,171.53 L408.77,172.11 L408.66,172.67 L408.52,173.22 L408.33,173.75 L408.11,174.26 L407.85,174.75 L407.55,175.21 L407.22,175.63 L406.86,176.02 L406.48,176.37 L406.07,176.68 L405.64,176.95 L405.19,177.17 L404.73,177.34 L404.25,177.47 L403.77,177.54 L403.28,177.57 L402.80,177.54 L402.32,177.47 L401.84,177.34 L401.38,177.17 L400.93,176.95 L400.50,176.68 L400.09,176.37 L399.70,176.02 L399.35,175.63 L399.02,175.21 L398.72,174.75 L398.46,174.26 L398.24,173.75 L398.05,173.22 L397.91,172.67 L397.80,172.11 L397.74,171.53 L397.72,170.96 L397.74,170.38 L397.80,169.81 L397.91,169.25 L398.05,168.70 L398.24,168.16 L398.46,167.65 L398.72,167.17 L399.02,166.71 L399.35,166.28 L399.70,165.89 L400.09,165.54 L400.50,165.23 L400.93,164.97 L401.38,164.74 L401.84,164.57 L402.32,164.45 L402.80,164.37 L403.28,164.35 L403.77,164.37 L404.25,164.45 L404.73,164.57 L405.19,164.74 L405.64,164.97 L406.07,165.23 L406.48,165.54 L406.86,165.89 L407.22,166.28 L407.55,166.71 L407.85,167.17 L408.11,167.65 L408.33,168.16 L408.52,168.70 L408.66,169.25 L408.77,169.81 L408.83,170.38Z M407.54,170.94 L407.52,171.38 L407.47,171.82 L407.39,172.24 L407.28,172.66 L407.14,173.06 L406.97,173.45 L406.77,173.82 L406.55,174.17 L406.30,174.49 L406.03,174.79 L405.73,175.05 L405.42,175.29 L405.10,175.49 L404.76,175.66 L404.41,175.79 L404.05,175.88 L403.68,175.94 L403.31,175.96 L402.94,175.94 L402.58,175.88 L402.22,175.79 L401.87,175.66 L401.53,175.49 L401.20,175.29 L400.89,175.05 L400.60,174.79 L400.33,174.49 L400.08,174.17 L399.85,173.82 L399.65,173.45 L399.48,173.06 L399.34,172.66 L399.23,172.24 L399.15,171.82 L399.10,171.38 L399.09,170.94 L399.10,170.51 L399.15,170.07 L399.23,169.65 L399.34,169.23 L399.48,168.82 L399.65,168.44 L399.85,168.07 L400.08,167.72 L400.33,167.40 L400.60,167.10 L400.89,166.84 L401.20,166.60 L401.53,166.40 L401.87,166.23 L402.22,166.10 L402.58,166.00 L402.94,165.95 L403.31,165.93 L403.68,165.95 L404.05,166.00 L404.41,166.10 L404.76,166.23 L405.10,166.40 L405.42,166.60 L405.73,166.84 L406.03,167.10 L406.30,167.40 L406.55,167.72 L406.77,168.07 L406.97,168.44 L407.14,168.82 L407.28,169.23 L407.39,169.65 L407.47,170.07 L407.52,170.51Z M406.22,170.93 L406.21,171.23 L406.18,171.52 L406.12,171.82 L406.05,172.10 L405.95,172.38 L405.83,172.64 L405.70,172.89 L405.55,173.13 L405.38,173.35 L405.19,173.55 L404.99,173.73 L404.78,173.89 L404.56,174.03 L404.33,174.14 L404.09,174.23 L403.84,174.30 L403.59,174.34 L403.34,174.35 L403.09,174.34 L402.84,174.30 L402.59,174.23 L402.35,174.14 L402.12,174.03 L401.90,173.89 L401.69,173.73 L401.49,173.55 L401.30,173.35 L401.13,173.13 L400.98,172.89 L400.85,172.64 L400.73,172.38 L400.63,172.10 L400.56,171.82 L400.50,171.52 L400.47,171.23 L400.46,170.93 L400.47,170.63 L400.50,170.34 L400.56,170.04 L400.63,169.76 L400.73,169.48 L400.85,169.22 L400.98,168.97 L401.13,168.73 L401.30,168.51 L401.49,168.31 L401.69,168.13 L401.90,167.97 L402.12,167.83 L402.35,167.72 L402.59,167.63 L402.84,167.56 L403.09,167.52 L403.34,167.51 L403.59,167.52 L403.84,167.56 L404.09,167.63 L404.33,167.72 L404.56,167.83 L404.78,167.97 L404.99,168.13 L405.19,168.31 L405.38,168.51 L405.55,168.73 L405.70,168.97 L405.83,169.22 L405.95,169.48 L406.05,169.76 L406.12,170.04 L406.18,170.34 L406.21,170.63Z" fill="none" stroke="#2a2a2a" stroke-width="0.6"/><ellipse cx="403.4" cy="170.9" rx="1.5" ry="1.3" fill="#fff"/></g>
<clipPath id="c28"><rect x="440.15" y="109.85000000000001" width="76.9" height="77.0"/></clipPath>
<g clip-path="url(#c28)"><path d="M480.2,132.6h0.7v0.7h-0.7zM490.7,134.7h0.7v0.7h-0.7zM490.1,137.2h0.7v0.7h-0.7zM479.8,128.9h0.7v0.7h-0.7zM496.1,131.3h0.7v0.7h-0.7zM474.9,144.2h0.7v0.7h-0.7zM480.2,128.9h0.7v0.7h-0.7zM492.8,127.8h0.7v0.7h-0.7zM479.9,139.8h0.7v0.7h-0.7zM480.3,147.8h0.7v0.7h-0.7zM486.7,148.8h0.7v0.7h-0.7zM486.9,134.3h0.7v0.7h-0.7zM481.5,132.8h0.7v0.7h-0.7zM482.5,133.9h0.7v0.7h-0.7zM491.4,127.0h0.7v0.7h-0.7zM479.6,122.5h0.7v0.7h-0.7zM496.5,133.6h0.7v0.7h-0.7zM485.9,133.7h0.7v0.7h-0.7zM493.0,135.8h0.7v0.7h-0.7zM492.0,133.1h0.7v0.7h-0.7zM485.2,133.7h0.7v0.7h-0.7zM473.0,140.0h0.7v0.7h-0.7zM475.0,128.5h0.7v0.7h-0.7zM490.7,134.3h0.7v0.7h-0.7zM491.7,143.4h0.7v0.7h-0.7zM499.0,141.6h0.7v0.7h-0.7zM484.4,145.3h0.7v0.7h-0.7zM479.8,133.5h0.7v0.7h-0.7zM493.0,132.8h0.7v0.7h-0.7zM485.2,132.1h0.7v0.7h-0.7zM495.6,120.4h0.7v0.7h-0.7zM494.9,139.8h0.7v0.7h-0.7zM485.5,137.1h0.7v0.7h-0.7zM479.2,140.1h0.7v0.7h-0.7zM507.4,128.9h0.7v0.7h-0.7zM495.8,133.7h0.7v0.7h-0.7zM483.6,131.3h0.7v0.7h-0.7zM484.7,127.1h0.7v0.7h-0.7zM476.5,143.1h0.7v0.7h-0.7zM485.9,137.0h0.7v0.7h-0.7zM488.2,136.6h0.7v0.7h-0.7zM475.3,128.8h0.7v0.7h-0.7zM490.4,139.5h0.7v0.7h-0.7zM478.0,130.8h0.7v0.7h-0.7zM478.5,137.6h0.7v0.7h-0.7zM488.4,134.2h0.7v0.7h-0.7zM481.5,135.9h0.7v0.7h-0.7zM486.2,129.9h0.7v0.7h-0.7zM488.3,130.3h0.7v0.7h-0.7zM492.7,137.4h0.7v0.7h-0.7zM481.2,137.2h0.7v0.7h-0.7zM486.5,130.1h0.7v0.7h-0.7zM479.6,124.9h0.7v0.7h-0.7zM478.1,135.9h0.7v0.7h-0.7zM494.5,130.5h0.7v0.7h-0.7zM487.1,135.9h0.7v0.7h-0.7zM491.5,136.4h0.7v0.7h-0.7zM494.6,138.2h0.7v0.7h-0.7zM480.7,136.2h0.7v0.7h-0.7zM469.6,133.0h0.7v0.7h-0.7zM486.1,137.2h0.7v0.7h-0.7zM483.9,138.6h0.7v0.7h-0.7zM495.2,129.4h0.7v0.7h-0.7zM482.2,135.4h0.7v0.7h-0.7zM489.4,134.8h0.7v0.7h-0.7zM491.8,127.5h0.7v0.7h-0.7zM491.4,140.4h0.7v0.7h-0.7zM493.8,136.3h0.7v0.7h-0.7zM484.3,136.2h0.7v0.7h-0.7zM485.5,125.3h0.7v0.7h-0.7zM481.8,133.8h0.7v0.7h-0.7zM482.4,128.9h0.7v0.7h-0.7zM484.4,132.0h0.7v0.7h-0.7zM486.5,133.7h0.7v0.7h-0.7zM487.2,139.5h0.7v0.7h-0.7z" fill="#444"/><path d="M463.4,175.3h0.7v0.7h-0.7zM449.8,148.4h0.7v0.7h-0.7zM458.0,177.4h0.7v0.7h-0.7zM458.6,167.0h0.7v0.7h-0.7zM449.6,179.1h0.7v0.7h-0.7zM456.7,174.0h0.7v0.7h-0.7zM473.3,176.3h0.7v0.7h-0.7zM484.4,170.9h0.7v0.7h-0.7zM471.6,177.5h0.7v0.7h-0.7zM455.4,172.4h0.7v0.7h-0.7zM456.4,163.8h0.7v0.7h-0.7zM465.0,165.8h0.7v0.7h-0.7zM478.8,166.1h0.7v0.7h-0.7zM456.6,172.7h0.7v0.7h-0.7zM456.8,172.4h0.7v0.7h-0.7zM455.9,160.6h0.7v0.7h-0.7zM477.2,175.6h0.7v0.7h-0.7zM463.5,168.3h0.7v0.7h-0.7zM460.5,174.4h0.7v0.7h-0.7zM448.1,165.6h0.7v0.7h-0.7zM453.1,182.1h0.7v0.7h-0.7zM451.4,181.4h0.7v0.7h-0.7zM461.2,172.3h0.7v0.7h-0.7zM475.5,179.0h0.7v0.7h-0.7zM471.4,163.4h0.7v0.7h-0.7zM473.4,185.4h0.7v0.7h-0.7zM461.0,168.1h0.7v0.7h-0.7zM451.1,180.1h0.7v0.7h-0.7zM464.9,172.1h0.7v0.7h-0.7zM449.6,185.0h0.7v0.7h-0.7zM470.8,171.8h0.7v0.7h-0.7zM476.8,164.4h0.7v0.7h-0.7zM470.8,164.0h0.7v0.7h-0.7zM476.1,169.8h0.7v0.7h-0.7zM474.2,168.7h0.7v0.7h-0.7zM466.0,181.1h0.7v0.7h-0.7zM453.0,172.8h0.7v0.7h-0.7zM453.6,178.8h0.7v0.7h-0.7zM456.0,169.0h0.7v0.7h-0.7zM460.0,181.3h0.7v0.7h-0.7zM451.6,171.8h0.7v0.7h-0.7zM458.7,167.6h0.7v0.7h-0.7zM454.1,170.7h0.7v0.7h-0.7z" fill="#555"/><path d="M486.9,137.9h0.7v0.7h-0.7zM487.7,138.8h0.7v0.7h-0.7zM485.4,184.2h0.7v0.7h-0.7zM473.5,159.0h0.7v0.7h-0.7zM482.3,181.4h0.7v0.7h-0.7zM482.0,138.0h0.7v0.7h-0.7zM472.8,163.0h0.7v0.7h-0.7zM488.1,181.7h0.7v0.7h-0.7zM478.0,177.0h0.7v0.7h-0.7zM477.3,178.3h0.7v0.7h-0.7zM484.1,139.8h0.7v0.7h-0.7zM486.6,183.5h0.7v0.7h-0.7zM478.3,141.8h0.7v0.7h-0.7zM477.0,143.4h0.7v0.7h-0.7zM483.7,180.5h0.7v0.7h-0.7zM478.2,176.0h0.7v0.7h-0.7zM497.1,155.3h0.7v0.7h-0.7zM479.0,139.6h0.7v0.7h-0.7zM489.2,140.8h0.7v0.7h-0.7zM479.5,178.0h0.7v0.7h-0.7zM488.9,138.5h0.7v0.7h-0.7zM473.5,162.2h0.7v0.7h-0.7zM483.8,182.3h0.7v0.7h-0.7zM482.2,137.6h0.7v0.7h-0.7zM492.8,141.4h0.7v0.7h-0.7zM474.2,168.6h0.7v0.7h-0.7zM480.2,182.5h0.7v0.7h-0.7zM489.9,179.3h0.7v0.7h-0.7zM482.8,183.7h0.7v0.7h-0.7zM492.4,143.5h0.7v0.7h-0.7zM493.0,141.6h0.7v0.7h-0.7zM475.1,169.7h0.7v0.7h-0.7zM487.0,139.2h0.7v0.7h-0.7zM494.8,176.6h0.7v0.7h-0.7zM474.3,168.5h0.7v0.7h-0.7zM475.7,148.7h0.7v0.7h-0.7zM497.1,163.2h0.7v0.7h-0.7zM477.3,174.3h0.7v0.7h-0.7zM476.5,177.1h0.7v0.7h-0.7zM479.1,180.2h0.7v0.7h-0.7zM477.2,145.9h0.7v0.7h-0.7zM497.7,163.4h0.7v0.7h-0.7zM476.4,146.9h0.7v0.7h-0.7zM489.3,182.8h0.7v0.7h-0.7zM495.0,149.2h0.7v0.7h-0.7zM474.8,149.0h0.7v0.7h-0.7zM480.5,178.6h0.7v0.7h-0.7zM479.6,180.6h0.7v0.7h-0.7zM475.6,147.3h0.7v0.7h-0.7zM493.5,175.0h0.7v0.7h-0.7zM480.8,180.6h0.7v0.7h-0.7zM476.8,178.4h0.7v0.7h-0.7zM495.1,176.4h0.7v0.7h-0.7zM486.1,183.9h0.7v0.7h-0.7zM485.8,182.8h0.7v0.7h-0.7zM477.4,174.6h0.7v0.7h-0.7zM489.0,138.2h0.7v0.7h-0.7zM483.8,183.4h0.7v0.7h-0.7zM472.2,163.6h0.7v0.7h-0.7zM496.5,167.7h0.7v0.7h-0.7zM487.0,182.8h0.7v0.7h-0.7zM487.5,137.5h0.7v0.7h-0.7zM474.0,154.1h0.7v0.7h-0.7zM488.7,141.1h0.7v0.7h-0.7zM484.5,183.5h0.7v0.7h-0.7zM473.0,169.3h0.7v0.7h-0.7zM495.4,172.3h0.7v0.7h-0.7zM487.9,180.0h0.7v0.7h-0.7zM494.6,171.8h0.7v0.7h-0.7zM477.2,176.4h0.7v0.7h-0.7zM473.7,159.5h0.7v0.7h-0.7zM481.7,139.4h0.7v0.7h-0.7zM496.6,158.1h0.7v0.7h-0.7zM473.2,159.0h0.7v0.7h-0.7zM476.4,177.4h0.7v0.7h-0.7zM488.6,183.3h0.7v0.7h-0.7zM477.9,177.1h0.7v0.7h-0.7zM476.1,145.8h0.7v0.7h-0.7zM482.9,180.4h0.7v0.7h-0.7zM496.6,154.5h0.7v0.7h-0.7zM494.7,175.4h0.7v0.7h-0.7zM473.8,156.2h0.7v0.7h-0.7zM479.2,181.1h0.7v0.7h-0.7zM479.0,178.9h0.7v0.7h-0.7zM496.7,154.8h0.7v0.7h-0.7zM476.0,172.4h0.7v0.7h-0.7zM478.8,141.2h0.7v0.7h-0.7zM474.1,167.7h0.7v0.7h-0.7zM486.7,183.5h0.7v0.7h-0.7zM472.9,166.7h0.7v0.7h-0.7zM476.4,176.7h0.7v0.7h-0.7zM496.6,164.3h0.7v0.7h-0.7zM497.4,154.9h0.7v0.7h-0.7zM479.9,140.9h0.7v0.7h-0.7zM474.0,164.1h0.7v0.7h-0.7zM491.1,180.5h0.7v0.7h-0.7zM481.3,140.8h0.7v0.7h-0.7zM478.3,144.3h0.7v0.7h-0.7zM476.7,147.0h0.7v0.7h-0.7zM473.6,159.2h0.7v0.7h-0.7zM474.6,154.1h0.7v0.7h-0.7zM473.0,162.8h0.7v0.7h-0.7zM493.0,176.4h0.7v0.7h-0.7zM480.0,140.5h0.7v0.7h-0.7zM475.9,145.0h0.7v0.7h-0.7zM475.0,151.4h0.7v0.7h-0.7zM473.3,168.7h0.7v0.7h-0.7zM473.7,151.1h0.7v0.7h-0.7zM477.4,176.9h0.7v0.7h-0.7zM497.9,156.1h0.7v0.7h-0.7z" fill="#333"/><path d="M496.10,160.50 L496.14,162.24 L496.10,163.99 L495.95,165.73 L495.71,167.45 L495.37,169.11 L494.93,170.70 L494.40,172.19 L493.79,173.56 L493.10,174.80 L492.35,175.90 L491.54,176.85 L490.70,177.65 L489.83,178.31 L488.94,178.83 L488.04,179.22 L487.13,179.49 L486.21,179.65 L485.30,179.71 L484.39,179.65 L483.47,179.49 L482.56,179.22 L481.66,178.83 L480.77,178.31 L479.90,177.65 L479.06,176.85 L478.25,175.90 L477.50,174.80 L476.81,173.56 L476.20,172.19 L475.67,170.70 L475.23,169.11 L474.89,167.45 L474.65,165.73 L474.50,163.99 L474.46,162.24 L474.50,160.50 L474.62,158.79 L474.82,157.11 L475.09,155.48 L475.41,153.90 L475.80,152.37 L476.23,150.90 L476.71,149.47 L477.24,148.10 L477.83,146.80 L478.46,145.56 L479.15,144.41 L479.90,143.35 L480.70,142.42 L481.55,141.61 L482.45,140.97 L483.38,140.49 L484.33,140.20 L485.30,140.11 L486.27,140.20 L487.22,140.49 L488.15,140.97 L489.05,141.61 L489.90,142.42 L490.70,143.35 L491.45,144.41 L492.14,145.56 L492.77,146.80 L493.36,148.10 L493.89,149.47 L494.37,150.90 L494.80,152.37 L495.19,153.90 L495.51,155.48 L495.78,157.11 L495.98,158.79Z M495.29,160.75 L495.29,162.35 L495.20,163.94 L495.01,165.50 L494.73,167.01 L494.36,168.46 L493.91,169.83 L493.40,171.09 L492.82,172.25 L492.19,173.31 L491.52,174.25 L490.82,175.09 L490.09,175.82 L489.33,176.46 L488.57,177.00 L487.78,177.45 L486.98,177.81 L486.17,178.07 L485.34,178.24 L484.50,178.29 L483.66,178.22 L482.82,178.02 L481.98,177.68 L481.16,177.19 L480.37,176.55 L479.61,175.75 L478.91,174.81 L478.26,173.73 L477.69,172.52 L477.19,171.22 L476.77,169.83 L476.43,168.37 L476.17,166.87 L475.98,165.35 L475.87,163.81 L475.83,162.28 L475.85,160.75 L475.92,159.24 L476.05,157.75 L476.23,156.28 L476.46,154.83 L476.74,153.40 L477.08,152.01 L477.47,150.65 L477.93,149.35 L478.44,148.11 L479.02,146.95 L479.67,145.89 L480.37,144.95 L481.12,144.16 L481.92,143.51 L482.75,143.02 L483.61,142.71 L484.47,142.57 L485.34,142.60 L486.20,142.79 L487.04,143.12 L487.85,143.60 L488.63,144.19 L489.37,144.89 L490.09,145.68 L490.76,146.55 L491.40,147.50 L492.01,148.52 L492.58,149.62 L493.11,150.78 L493.60,152.01 L494.04,153.31 L494.43,154.68 L494.76,156.12 L495.02,157.62 L495.20,159.17Z M494.27,161.00 L494.21,162.42 L494.08,163.81 L493.86,165.16 L493.57,166.46 L493.22,167.70 L492.81,168.87 L492.36,169.96 L491.86,170.97 L491.33,171.92 L490.77,172.79 L490.19,173.59 L489.57,174.32 L488.93,174.98 L488.27,175.56 L487.58,176.06 L486.87,176.46 L486.13,176.76 L485.38,176.95 L484.62,177.00 L483.85,176.92 L483.09,176.69 L482.34,176.31 L481.62,175.79 L480.93,175.12 L480.29,174.32 L479.70,173.40 L479.17,172.38 L478.70,171.27 L478.30,170.09 L477.95,168.87 L477.66,167.60 L477.43,166.31 L477.25,165.00 L477.12,163.67 L477.03,162.34 L476.99,161.00 L477.00,159.66 L477.06,158.31 L477.17,156.97 L477.33,155.63 L477.56,154.31 L477.85,153.03 L478.20,151.79 L478.63,150.61 L479.11,149.51 L479.67,148.52 L480.28,147.64 L480.93,146.88 L481.63,146.26 L482.36,145.79 L483.11,145.46 L483.87,145.26 L484.63,145.20 L485.38,145.27 L486.12,145.44 L486.85,145.72 L487.56,146.09 L488.25,146.54 L488.92,147.07 L489.57,147.68 L490.20,148.37 L490.81,149.13 L491.39,149.98 L491.94,150.91 L492.45,151.92 L492.91,153.03 L493.32,154.21 L493.67,155.47 L493.94,156.80 L494.13,158.17 L494.25,159.58Z M493.08,161.25 L492.99,162.46 L492.85,163.65 L492.65,164.80 L492.40,165.91 L492.11,166.97 L491.79,167.99 L491.43,168.97 L491.04,169.89 L490.61,170.77 L490.16,171.61 L489.67,172.38 L489.15,173.10 L488.60,173.74 L488.01,174.31 L487.40,174.77 L486.76,175.13 L486.09,175.37 L485.42,175.49 L484.74,175.46 L484.07,175.31 L483.41,175.02 L482.77,174.60 L482.16,174.06 L481.59,173.41 L481.06,172.66 L480.57,171.84 L480.13,170.95 L479.73,170.01 L479.37,169.02 L479.05,167.99 L478.77,166.93 L478.53,165.85 L478.32,164.74 L478.16,163.60 L478.03,162.43 L477.96,161.25 L477.93,160.05 L477.96,158.84 L478.04,157.63 L478.19,156.43 L478.41,155.26 L478.70,154.13 L479.04,153.07 L479.46,152.07 L479.92,151.17 L480.44,150.37 L481.00,149.68 L481.59,149.09 L482.21,148.62 L482.84,148.26 L483.48,148.00 L484.13,147.83 L484.78,147.76 L485.42,147.77 L486.06,147.85 L486.69,148.01 L487.32,148.24 L487.94,148.55 L488.55,148.93 L489.15,149.40 L489.73,149.96 L490.29,150.61 L490.82,151.35 L491.31,152.19 L491.75,153.12 L492.14,154.13 L492.47,155.22 L492.74,156.37 L492.93,157.56 L493.05,158.78 L493.10,160.02Z M491.85,161.50 L491.79,162.51 L491.68,163.51 L491.54,164.49 L491.37,165.44 L491.16,166.37 L490.92,167.28 L490.65,168.16 L490.34,169.01 L490.00,169.82 L489.62,170.58 L489.20,171.29 L488.74,171.92 L488.25,172.48 L487.73,172.94 L487.18,173.30 L486.62,173.55 L486.04,173.68 L485.46,173.70 L484.88,173.60 L484.32,173.39 L483.77,173.09 L483.24,172.69 L482.74,172.20 L482.26,171.65 L481.82,171.04 L481.40,170.37 L481.01,169.66 L480.64,168.91 L480.31,168.11 L480.00,167.28 L479.72,166.41 L479.47,165.50 L479.26,164.55 L479.09,163.56 L478.97,162.54 L478.89,161.50 L478.88,160.44 L478.92,159.39 L479.02,158.34 L479.19,157.32 L479.41,156.33 L479.70,155.40 L480.03,154.53 L480.41,153.74 L480.83,153.02 L481.29,152.38 L481.77,151.83 L482.26,151.35 L482.78,150.95 L483.30,150.61 L483.83,150.35 L484.37,150.15 L484.91,150.01 L485.46,149.94 L486.01,149.93 L486.57,150.00 L487.12,150.14 L487.67,150.36 L488.21,150.67 L488.74,151.08 L489.25,151.58 L489.73,152.17 L490.17,152.86 L490.57,153.64 L490.92,154.49 L491.22,155.40 L491.47,156.37 L491.65,157.37 L491.78,158.40 L491.85,159.43 L491.88,160.47Z M490.74,161.75 L490.72,162.59 L490.67,163.42 L490.58,164.25 L490.47,165.07 L490.33,165.88 L490.15,166.67 L489.93,167.44 L489.67,168.17 L489.38,168.86 L489.05,169.50 L488.68,170.08 L488.28,170.58 L487.85,170.99 L487.40,171.32 L486.93,171.55 L486.46,171.70 L485.98,171.75 L485.50,171.71 L485.03,171.60 L484.57,171.41 L484.13,171.16 L483.69,170.85 L483.28,170.48 L482.88,170.07 L482.50,169.62 L482.13,169.12 L481.78,168.57 L481.45,167.99 L481.14,167.35 L480.85,166.67 L480.60,165.94 L480.38,165.17 L480.20,164.35 L480.06,163.51 L479.98,162.64 L479.94,161.75 L479.96,160.86 L480.03,159.98 L480.15,159.12 L480.32,158.30 L480.54,157.51 L480.79,156.77 L481.08,156.08 L481.40,155.44 L481.74,154.86 L482.11,154.33 L482.49,153.86 L482.88,153.43 L483.29,153.05 L483.71,152.71 L484.14,152.43 L484.58,152.20 L485.04,152.02 L485.50,151.91 L485.97,151.87 L486.45,151.91 L486.92,152.03 L487.39,152.24 L487.84,152.54 L488.28,152.92 L488.69,153.40 L489.07,153.95 L489.41,154.57 L489.72,155.26 L489.98,155.99 L490.21,156.77 L490.39,157.57 L490.53,158.40 L490.63,159.23 L490.70,160.07 L490.74,160.91Z M489.86,161.97 L489.87,162.67 L489.85,163.37 L489.80,164.07 L489.72,164.77 L489.60,165.45 L489.44,166.11 L489.25,166.74 L489.02,167.34 L488.76,167.89 L488.47,168.38 L488.15,168.81 L487.80,169.17 L487.44,169.46 L487.07,169.68 L486.69,169.84 L486.30,169.93 L485.92,169.96 L485.54,169.94 L485.16,169.86 L484.79,169.75 L484.42,169.58 L484.07,169.38 L483.72,169.13 L483.37,168.84 L483.04,168.51 L482.72,168.13 L482.41,167.70 L482.13,167.22 L481.86,166.69 L481.63,166.11 L481.42,165.49 L481.26,164.83 L481.13,164.14 L481.05,163.43 L481.00,162.70 L481.01,161.97 L481.05,161.26 L481.13,160.55 L481.25,159.87 L481.40,159.21 L481.57,158.59 L481.77,157.99 L482.00,157.43 L482.24,156.90 L482.50,156.41 L482.77,155.94 L483.07,155.51 L483.37,155.11 L483.70,154.75 L484.04,154.43 L484.39,154.16 L484.76,153.94 L485.15,153.79 L485.54,153.70 L485.93,153.69 L486.33,153.76 L486.72,153.90 L487.10,154.12 L487.46,154.42 L487.80,154.78 L488.12,155.21 L488.41,155.69 L488.68,156.22 L488.91,156.78 L489.12,157.38 L489.30,157.99 L489.45,158.63 L489.58,159.28 L489.69,159.94 L489.77,160.61 L489.83,161.29Z M489.03,162.20 L489.04,162.76 L489.03,163.32 L488.98,163.88 L488.90,164.42 L488.80,164.96 L488.65,165.46 L488.48,165.94 L488.29,166.38 L488.07,166.77 L487.83,167.12 L487.57,167.43 L487.30,167.68 L487.02,167.89 L486.74,168.06 L486.45,168.19 L486.16,168.28 L485.86,168.33 L485.57,168.35 L485.28,168.33 L484.99,168.28 L484.70,168.19 L484.41,168.07 L484.12,167.90 L483.84,167.69 L483.57,167.43 L483.32,167.13 L483.08,166.78 L482.86,166.38 L482.66,165.94 L482.49,165.46 L482.35,164.95 L482.24,164.42 L482.16,163.87 L482.12,163.32 L482.10,162.76 L482.12,162.20 L482.16,161.65 L482.22,161.12 L482.31,160.60 L482.41,160.09 L482.53,159.60 L482.67,159.13 L482.82,158.67 L482.99,158.23 L483.18,157.81 L483.38,157.42 L483.60,157.05 L483.84,156.71 L484.10,156.41 L484.37,156.15 L484.66,155.95 L484.96,155.80 L485.26,155.70 L485.57,155.67 L485.88,155.71 L486.19,155.80 L486.49,155.95 L486.77,156.16 L487.04,156.42 L487.30,156.72 L487.54,157.05 L487.76,157.42 L487.96,157.82 L488.15,158.23 L488.32,158.67 L488.48,159.13 L488.61,159.60 L488.74,160.09 L488.84,160.59 L488.93,161.12 L488.99,161.65Z M488.15,162.43 L488.15,162.83 L488.13,163.24 L488.08,163.64 L488.01,164.03 L487.91,164.40 L487.80,164.74 L487.67,165.07 L487.52,165.36 L487.36,165.63 L487.19,165.87 L487.01,166.09 L486.82,166.27 L486.63,166.44 L486.43,166.58 L486.23,166.69 L486.03,166.79 L485.82,166.85 L485.61,166.90 L485.39,166.91 L485.18,166.89 L484.96,166.84 L484.75,166.75 L484.54,166.63 L484.34,166.46 L484.14,166.26 L483.96,166.02 L483.80,165.74 L483.65,165.43 L483.52,165.10 L483.42,164.74 L483.33,164.37 L483.26,163.99 L483.22,163.60 L483.19,163.21 L483.18,162.81 L483.18,162.43 L483.20,162.04 L483.23,161.66 L483.28,161.28 L483.34,160.91 L483.41,160.55 L483.50,160.19 L483.60,159.84 L483.71,159.51 L483.84,159.19 L483.99,158.90 L484.16,158.63 L484.34,158.39 L484.53,158.18 L484.73,158.02 L484.95,157.90 L485.16,157.82 L485.39,157.78 L485.61,157.79 L485.83,157.84 L486.04,157.92 L486.25,158.04 L486.45,158.19 L486.64,158.37 L486.82,158.58 L486.99,158.80 L487.16,159.04 L487.31,159.30 L487.46,159.58 L487.59,159.88 L487.72,160.19 L487.83,160.52 L487.93,160.87 L488.02,161.24 L488.08,161.63 L488.13,162.02Z" fill="none" stroke="#161616" stroke-width="0.7"/><ellipse cx="485.7" cy="163" rx="1.6" ry="2.2" fill="#fff"/><path d="M447.2,168.3h0.7v0.7h-0.7zM446.6,169.5h0.7v0.7h-0.7zM453.4,170.0h0.7v0.7h-0.7zM448.7,166.8h0.7v0.7h-0.7zM451.2,168.1h0.7v0.7h-0.7zM451.1,167.0h0.7v0.7h-0.7zM453.7,174.2h0.7v0.7h-0.7zM445.1,176.3h0.7v0.7h-0.7zM447.7,166.7h0.7v0.7h-0.7zM451.5,168.5h0.7v0.7h-0.7zM452.2,169.3h0.7v0.7h-0.7zM452.9,174.5h0.7v0.7h-0.7zM452.3,175.9h0.7v0.7h-0.7zM446.7,169.0h0.7v0.7h-0.7zM451.2,179.1h0.7v0.7h-0.7zM448.4,181.5h0.7v0.7h-0.7zM452.9,168.9h0.7v0.7h-0.7zM453.1,172.9h0.7v0.7h-0.7zM450.2,167.0h0.7v0.7h-0.7zM453.1,169.9h0.7v0.7h-0.7zM448.8,166.9h0.7v0.7h-0.7zM453.0,177.9h0.7v0.7h-0.7zM445.3,171.0h0.7v0.7h-0.7zM451.5,168.6h0.7v0.7h-0.7zM448.0,166.6h0.7v0.7h-0.7zM450.1,166.5h0.7v0.7h-0.7zM450.7,181.2h0.7v0.7h-0.7zM448.4,181.0h0.7v0.7h-0.7zM451.0,167.6h0.7v0.7h-0.7zM447.9,166.9h0.7v0.7h-0.7zM449.8,179.8h0.7v0.7h-0.7zM452.8,171.4h0.7v0.7h-0.7zM445.2,173.0h0.7v0.7h-0.7zM453.4,174.7h0.7v0.7h-0.7zM449.1,165.3h0.7v0.7h-0.7zM447.0,178.5h0.7v0.7h-0.7zM446.7,179.7h0.7v0.7h-0.7zM447.1,167.6h0.7v0.7h-0.7zM445.7,172.4h0.7v0.7h-0.7zM452.6,169.9h0.7v0.7h-0.7zM444.9,173.1h0.7v0.7h-0.7zM450.6,180.7h0.7v0.7h-0.7zM446.6,179.7h0.7v0.7h-0.7zM452.2,177.1h0.7v0.7h-0.7zM446.6,168.0h0.7v0.7h-0.7zM446.3,178.6h0.7v0.7h-0.7zM450.0,180.3h0.7v0.7h-0.7zM453.6,173.5h0.7v0.7h-0.7zM449.1,181.4h0.7v0.7h-0.7zM445.3,171.0h0.7v0.7h-0.7zM446.8,168.9h0.7v0.7h-0.7zM449.8,166.8h0.7v0.7h-0.7zM452.0,167.4h0.7v0.7h-0.7zM447.3,166.2h0.7v0.7h-0.7zM445.3,176.4h0.7v0.7h-0.7zM452.6,171.5h0.7v0.7h-0.7zM452.3,177.5h0.7v0.7h-0.7zM445.7,173.0h0.7v0.7h-0.7zM450.0,181.3h0.7v0.7h-0.7zM446.5,177.5h0.7v0.7h-0.7z" fill="#333"/><path d="M452.50,173.40 L452.53,173.93 L452.53,174.47 L452.50,175.01 L452.44,175.54 L452.34,176.06 L452.20,176.55 L452.03,177.01 L451.84,177.42 L451.62,177.79 L451.37,178.11 L451.12,178.38 L450.85,178.60 L450.58,178.77 L450.30,178.90 L450.02,178.99 L449.75,179.05 L449.47,179.09 L449.20,179.10 L448.93,179.09 L448.65,179.05 L448.38,178.99 L448.10,178.90 L447.82,178.77 L447.55,178.60 L447.28,178.38 L447.03,178.11 L446.78,177.79 L446.56,177.42 L446.37,177.01 L446.20,176.55 L446.06,176.06 L445.96,175.54 L445.90,175.01 L445.87,174.47 L445.87,173.93 L445.90,173.40 L445.96,172.88 L446.03,172.38 L446.13,171.90 L446.23,171.44 L446.35,170.99 L446.49,170.55 L446.63,170.12 L446.78,169.71 L446.95,169.31 L447.13,168.92 L447.33,168.55 L447.55,168.20 L447.79,167.89 L448.04,167.62 L448.32,167.40 L448.60,167.24 L448.90,167.13 L449.20,167.10 L449.50,167.13 L449.80,167.24 L450.08,167.40 L450.36,167.62 L450.61,167.89 L450.85,168.20 L451.07,168.55 L451.27,168.92 L451.45,169.31 L451.62,169.71 L451.77,170.12 L451.91,170.55 L452.05,170.99 L452.17,171.44 L452.27,171.90 L452.37,172.38 L452.44,172.88Z" fill="none" stroke="#111" stroke-width="0.9"/></g>
<g stroke="#6b74b0" stroke-width="0.8"><line x1="303.3" y1="24.5" x2="303.3" y2="101.6"/><line x1="271.5" y1="75.2" x2="349.5" y2="75.2"/></g>
<rect x="271.5" y="24.5" width="78.0" height="77.1" fill="none" stroke="#151515" stroke-width="1.0"/>
<path d="M268.5,95.6 H271.5 M268.5,91.6 H271.5 M268.5,88.8 H271.5 M268.5,86.6 H271.5 M268.5,84.8 H271.5 M268.5,83.3 H271.5 M268.5,82.0 H271.5 M268.5,80.8 H271.5 M267.1,79.8 H271.5 M268.5,73.0 H271.5 M268.5,69.0 H271.5 M268.5,66.2 H271.5 M268.5,64.0 H271.5 M268.5,62.2 H271.5 M268.5,60.7 H271.5 M268.5,59.4 H271.5 M268.5,58.2 H271.5 M267.1,57.2 H271.5 M268.5,50.4 H271.5 M268.5,46.4 H271.5 M268.5,43.6 H271.5 M268.5,41.4 H271.5 M268.5,39.6 H271.5 M268.5,38.1 H271.5 M268.5,36.8 H271.5 M268.5,35.6 H271.5 M267.1,34.6 H271.5 M268.5,27.8 H271.5 M267.9,99.1 H271.5 M267.9,98.3 H271.5 M267.9,97.5 H271.5 M267.9,96.7 H271.5 M267.9,95.9 H271.5 M267.9,95.1 H271.5 M267.9,94.3 H271.5 M267.9,93.5 H271.5 M267.9,92.7 H271.5 M277.5,101.6 V104.6 M281.5,101.6 V104.6 M284.3,101.6 V104.6 M286.5,101.6 V104.6 M288.3,101.6 V104.6 M289.8,101.6 V104.6 M291.1,101.6 V104.6 M292.3,101.6 V104.6 M293.3,101.6 V106.0 M300.1,101.6 V104.6 M304.1,101.6 V104.6 M306.9,101.6 V104.6 M309.1,101.6 V104.6 M310.9,101.6 V104.6 M312.4,101.6 V104.6 M313.7,101.6 V104.6 M314.9,101.6 V104.6 M315.9,101.6 V106.0 M322.7,101.6 V104.6 M326.7,101.6 V104.6 M329.5,101.6 V104.6 M331.7,101.6 V104.6 M333.5,101.6 V104.6 M335.0,101.6 V104.6 M336.3,101.6 V104.6 M337.5,101.6 V104.6 M338.5,101.6 V106.0 M345.3,101.6 V104.6 M274.0,101.6 V105.2 M274.8,101.6 V105.2 M275.6,101.6 V105.2 M276.4,101.6 V105.2 M277.2,101.6 V105.2 M278.0,101.6 V105.2 M278.8,101.6 V105.2 M279.6,101.6 V105.2 M280.4,101.6 V105.2" stroke="#1a1a1a" stroke-width="0.75" fill="none"/>
<text x="274.1" y="34.0" font-family="Liberation Sans, sans-serif" font-weight="bold" font-size="8.4" fill="#111" stroke="#111" stroke-width="0.2">0.8%</text>
<text x="346.9" y="34.0" font-family="Liberation Sans, sans-serif" font-weight="bold" font-size="8.4" fill="#111" stroke="#111" stroke-width="0.2" text-anchor="end">0.1%</text>
<g stroke="#6b74b0" stroke-width="0.8"><line x1="387.8" y1="24.5" x2="387.8" y2="101.6"/><line x1="355.5" y1="75.2" x2="433.2" y2="75.2"/></g>
<rect x="355.5" y="24.5" width="77.7" height="77.1" fill="none" stroke="#151515" stroke-width="1.0"/>
<path d="M352.5,95.6 H355.5 M352.5,91.6 H355.5 M352.5,88.8 H355.5 M352.5,86.6 H355.5 M352.5,84.8 H355.5 M352.5,83.3 H355.5 M352.5,82.0 H355.5 M352.5,80.8 H355.5 M351.1,79.8 H355.5 M352.5,73.0 H355.5 M352.5,69.0 H355.5 M352.5,66.2 H355.5 M352.5,64.0 H355.5 M352.5,62.2 H355.5 M352.5,60.7 H355.5 M352.5,59.4 H355.5 M352.5,58.2 H355.5 M351.1,57.2 H355.5 M352.5,50.4 H355.5 M352.5,46.4 H355.5 M352.5,43.6 H355.5 M352.5,41.4 H355.5 M352.5,39.6 H355.5 M352.5,38.1 H355.5 M352.5,36.8 H355.5 M352.5,35.6 H355.5 M351.1,34.6 H355.5 M352.5,27.8 H355.5 M351.9,99.1 H355.5 M351.9,98.3 H355.5 M351.9,97.5 H355.5 M351.9,96.7 H355.5 M351.9,95.9 H355.5 M351.9,95.1 H355.5 M351.9,94.3 H355.5 M351.9,93.5 H355.5 M351.9,92.7 H355.5 M361.5,101.6 V104.6 M365.5,101.6 V104.6 M368.3,101.6 V104.6 M370.5,101.6 V104.6 M372.3,101.6 V104.6 M373.8,101.6 V104.6 M375.1,101.6 V104.6 M376.3,101.6 V104.6 M377.3,101.6 V106.0 M384.1,101.6 V104.6 M388.1,101.6 V104.6 M390.9,101.6 V104.6 M393.1,101.6 V104.6 M394.9,101.6 V104.6 M396.4,101.6 V104.6 M397.7,101.6 V104.6 M398.9,101.6 V104.6 M399.9,101.6 V106.0 M406.7,101.6 V104.6 M410.7,101.6 V104.6 M413.5,101.6 V104.6 M415.7,101.6 V104.6 M417.5,101.6 V104.6 M419.0,101.6 V104.6 M420.3,101.6 V104.6 M421.5,101.6 V104.6 M422.5,101.6 V106.0 M429.3,101.6 V104.6 M358.0,101.6 V105.2 M358.8,101.6 V105.2 M359.6,101.6 V105.2 M360.4,101.6 V105.2 M361.2,101.6 V105.2 M362.0,101.6 V105.2 M362.8,101.6 V105.2 M363.6,101.6 V105.2 M364.4,101.6 V105.2" stroke="#1a1a1a" stroke-width="0.75" fill="none"/>
<text x="358.1" y="34.0" font-family="Liberation Sans, sans-serif" font-weight="bold" font-size="8.4" fill="#111" stroke="#111" stroke-width="0.2">0.0%</text>
<text x="430.6" y="34.0" font-family="Liberation Sans, sans-serif" font-weight="bold" font-size="8.4" fill="#111" stroke="#111" stroke-width="0.2" text-anchor="end">0.1%</text>
<g stroke="#6b74b0" stroke-width="0.8"><line x1="471.6" y1="24.5" x2="471.6" y2="101.6"/><line x1="439.7" y1="75.2" x2="517.5" y2="75.2"/></g>
<rect x="439.7" y="24.5" width="77.8" height="77.1" fill="none" stroke="#151515" stroke-width="1.0"/>
<path d="M436.7,95.6 H439.7 M436.7,91.6 H439.7 M436.7,88.8 H439.7 M436.7,86.6 H439.7 M436.7,84.8 H439.7 M436.7,83.3 H439.7 M436.7,82.0 H439.7 M436.7,80.8 H439.7 M435.3,79.8 H439.7 M436.7,73.0 H439.7 M436.7,69.0 H439.7 M436.7,66.2 H439.7 M436.7,64.0 H439.7 M436.7,62.2 H439.7 M436.7,60.7 H439.7 M436.7,59.4 H439.7 M436.7,58.2 H439.7 M435.3,57.2 H439.7 M436.7,50.4 H439.7 M436.7,46.4 H439.7 M436.7,43.6 H439.7 M436.7,41.4 H439.7 M436.7,39.6 H439.7 M436.7,38.1 H439.7 M436.7,36.8 H439.7 M436.7,35.6 H439.7 M435.3,34.6 H439.7 M436.7,27.8 H439.7 M436.1,99.1 H439.7 M436.1,98.3 H439.7 M436.1,97.5 H439.7 M436.1,96.7 H439.7 M436.1,95.9 H439.7 M436.1,95.1 H439.7 M436.1,94.3 H439.7 M436.1,93.5 H439.7 M436.1,92.7 H439.7 M445.7,101.6 V104.6 M449.7,101.6 V104.6 M452.5,101.6 V104.6 M454.7,101.6 V104.6 M456.5,101.6 V104.6 M458.0,101.6 V104.6 M459.3,101.6 V104.6 M460.5,101.6 V104.6 M461.5,101.6 V106.0 M468.3,101.6 V104.6 M472.3,101.6 V104.6 M475.1,101.6 V104.6 M477.3,101.6 V104.6 M479.1,101.6 V104.6 M480.6,101.6 V104.6 M481.9,101.6 V104.6 M483.1,101.6 V104.6 M484.1,101.6 V106.0 M490.9,101.6 V104.6 M494.9,101.6 V104.6 M497.7,101.6 V104.6 M499.9,101.6 V104.6 M501.7,101.6 V104.6 M503.2,101.6 V104.6 M504.5,101.6 V104.6 M505.7,101.6 V104.6 M506.7,101.6 V106.0 M513.5,101.6 V104.6 M442.2,101.6 V105.2 M443.0,101.6 V105.2 M443.8,101.6 V105.2 M444.6,101.6 V105.2 M445.4,101.6 V105.2 M446.2,101.6 V105.2 M447.0,101.6 V105.2 M447.8,101.6 V105.2 M448.6,101.6 V105.2" stroke="#1a1a1a" stroke-width="0.75" fill="none"/>
<text x="442.3" y="34.0" font-family="Liberation Sans, sans-serif" font-weight="bold" font-size="8.4" fill="#111" stroke="#111" stroke-width="0.2">0.0%</text>
<text x="514.9" y="34.0" font-family="Liberation Sans, sans-serif" font-weight="bold" font-size="8.4" fill="#111" stroke="#111" stroke-width="0.2" text-anchor="end">0.2%</text>
<g stroke="#6b74b0" stroke-width="0.8"><line x1="303.3" y1="109.4" x2="303.3" y2="187.3"/><line x1="271.5" y1="159.8" x2="349.5" y2="159.8"/></g>
<rect x="271.5" y="109.4" width="78.0" height="77.9" fill="none" stroke="#151515" stroke-width="1.0"/>
<path d="M268.5,181.3 H271.5 M268.5,177.3 H271.5 M268.5,174.5 H271.5 M268.5,172.3 H271.5 M268.5,170.5 H271.5 M268.5,169.0 H271.5 M268.5,167.7 H271.5 M268.5,166.5 H271.5 M267.1,165.5 H271.5 M268.5,158.7 H271.5 M268.5,154.7 H271.5 M268.5,151.9 H271.5 M268.5,149.7 H271.5 M268.5,147.9 H271.5 M268.5,146.4 H271.5 M268.5,145.1 H271.5 M268.5,143.9 H271.5 M267.1,142.9 H271.5 M268.5,136.1 H271.5 M268.5,132.1 H271.5 M268.5,129.3 H271.5 M268.5,127.1 H271.5 M268.5,125.3 H271.5 M268.5,123.8 H271.5 M268.5,122.5 H271.5 M268.5,121.3 H271.5 M267.1,120.3 H271.5 M268.5,113.5 H271.5 M267.9,184.8 H271.5 M267.9,184.0 H271.5 M267.9,183.2 H271.5 M267.9,182.4 H271.5 M267.9,181.6 H271.5 M267.9,180.8 H271.5 M267.9,180.0 H271.5 M267.9,179.2 H271.5 M267.9,178.4 H271.5 M277.5,187.3 V190.3 M281.5,187.3 V190.3 M284.3,187.3 V190.3 M286.5,187.3 V190.3 M288.3,187.3 V190.3 M289.8,187.3 V190.3 M291.1,187.3 V190.3 M292.3,187.3 V190.3 M293.3,187.3 V191.7 M300.1,187.3 V190.3 M304.1,187.3 V190.3 M306.9,187.3 V190.3 M309.1,187.3 V190.3 M310.9,187.3 V190.3 M312.4,187.3 V190.3 M313.7,187.3 V190.3 M314.9,187.3 V190.3 M315.9,187.3 V191.7 M322.7,187.3 V190.3 M326.7,187.3 V190.3 M329.5,187.3 V190.3 M331.7,187.3 V190.3 M333.5,187.3 V190.3 M335.0,187.3 V190.3 M336.3,187.3 V190.3 M337.5,187.3 V190.3 M338.5,187.3 V191.7 M345.3,187.3 V190.3 M274.0,187.3 V190.9 M274.8,187.3 V190.9 M275.6,187.3 V190.9 M276.4,187.3 V190.9 M277.2,187.3 V190.9 M278.0,187.3 V190.9 M278.8,187.3 V190.9 M279.6,187.3 V190.9 M280.4,187.3 V190.9" stroke="#1a1a1a" stroke-width="0.75" fill="none"/>
<text x="274.1" y="118.9" font-family="Liberation Sans, sans-serif" font-weight="bold" font-size="8.4" fill="#111" stroke="#111" stroke-width="0.2">0.7%</text>
<text x="346.9" y="118.9" font-family="Liberation Sans, sans-serif" font-weight="bold" font-size="8.4" fill="#111" stroke="#111" stroke-width="0.2" text-anchor="end">0.1%</text>
<g stroke="#6b74b0" stroke-width="0.8"><line x1="387.8" y1="109.4" x2="387.8" y2="187.3"/><line x1="355.5" y1="159.8" x2="433.2" y2="159.8"/></g>
<rect x="355.5" y="109.4" width="77.7" height="77.9" fill="none" stroke="#151515" stroke-width="1.0"/>
<path d="M352.5,181.3 H355.5 M352.5,177.3 H355.5 M352.5,174.5 H355.5 M352.5,172.3 H355.5 M352.5,170.5 H355.5 M352.5,169.0 H355.5 M352.5,167.7 H355.5 M352.5,166.5 H355.5 M351.1,165.5 H355.5 M352.5,158.7 H355.5 M352.5,154.7 H355.5 M352.5,151.9 H355.5 M352.5,149.7 H355.5 M352.5,147.9 H355.5 M352.5,146.4 H355.5 M352.5,145.1 H355.5 M352.5,143.9 H355.5 M351.1,142.9 H355.5 M352.5,136.1 H355.5 M352.5,132.1 H355.5 M352.5,129.3 H355.5 M352.5,127.1 H355.5 M352.5,125.3 H355.5 M352.5,123.8 H355.5 M352.5,122.5 H355.5 M352.5,121.3 H355.5 M351.1,120.3 H355.5 M352.5,113.5 H355.5 M351.9,184.8 H355.5 M351.9,184.0 H355.5 M351.9,183.2 H355.5 M351.9,182.4 H355.5 M351.9,181.6 H355.5 M351.9,180.8 H355.5 M351.9,180.0 H355.5 M351.9,179.2 H355.5 M351.9,178.4 H355.5 M361.5,187.3 V190.3 M365.5,187.3 V190.3 M368.3,187.3 V190.3 M370.5,187.3 V190.3 M372.3,187.3 V190.3 M373.8,187.3 V190.3 M375.1,187.3 V190.3 M376.3,187.3 V190.3 M377.3,187.3 V191.7 M384.1,187.3 V190.3 M388.1,187.3 V190.3 M390.9,187.3 V190.3 M393.1,187.3 V190.3 M394.9,187.3 V190.3 M396.4,187.3 V190.3 M397.7,187.3 V190.3 M398.9,187.3 V190.3 M399.9,187.3 V191.7 M406.7,187.3 V190.3 M410.7,187.3 V190.3 M413.5,187.3 V190.3 M415.7,187.3 V190.3 M417.5,187.3 V190.3 M419.0,187.3 V190.3 M420.3,187.3 V190.3 M421.5,187.3 V190.3 M422.5,187.3 V191.7 M429.3,187.3 V190.3 M358.0,187.3 V190.9 M358.8,187.3 V190.9 M359.6,187.3 V190.9 M360.4,187.3 V190.9 M361.2,187.3 V190.9 M362.0,187.3 V190.9 M362.8,187.3 V190.9 M363.6,187.3 V190.9 M364.4,187.3 V190.9" stroke="#1a1a1a" stroke-width="0.75" fill="none"/>
<text x="358.1" y="118.9" font-family="Liberation Sans, sans-serif" font-weight="bold" font-size="8.4" fill="#111" stroke="#111" stroke-width="0.2">0.3%</text>
<text x="430.6" y="118.9" font-family="Liberation Sans, sans-serif" font-weight="bold" font-size="8.4" fill="#111" stroke="#111" stroke-width="0.2" text-anchor="end">4.7%</text>
<g stroke="#6b74b0" stroke-width="0.8"><line x1="471.6" y1="109.4" x2="471.6" y2="187.3"/><line x1="439.7" y1="159.8" x2="517.5" y2="159.8"/></g>
<rect x="439.7" y="109.4" width="77.8" height="77.9" fill="none" stroke="#151515" stroke-width="1.0"/>
<path d="M436.7,181.3 H439.7 M436.7,177.3 H439.7 M436.7,174.5 H439.7 M436.7,172.3 H439.7 M436.7,170.5 H439.7 M436.7,169.0 H439.7 M436.7,167.7 H439.7 M436.7,166.5 H439.7 M435.3,165.5 H439.7 M436.7,158.7 H439.7 M436.7,154.7 H439.7 M436.7,151.9 H439.7 M436.7,149.7 H439.7 M436.7,147.9 H439.7 M436.7,146.4 H439.7 M436.7,145.1 H439.7 M436.7,143.9 H439.7 M435.3,142.9 H439.7 M436.7,136.1 H439.7 M436.7,132.1 H439.7 M436.7,129.3 H439.7 M436.7,127.1 H439.7 M436.7,125.3 H439.7 M436.7,123.8 H439.7 M436.7,122.5 H439.7 M436.7,121.3 H439.7 M435.3,120.3 H439.7 M436.7,113.5 H439.7 M436.1,184.8 H439.7 M436.1,184.0 H439.7 M436.1,183.2 H439.7 M436.1,182.4 H439.7 M436.1,181.6 H439.7 M436.1,180.8 H439.7 M436.1,180.0 H439.7 M436.1,179.2 H439.7 M436.1,178.4 H439.7 M445.7,187.3 V190.3 M449.7,187.3 V190.3 M452.5,187.3 V190.3 M454.7,187.3 V190.3 M456.5,187.3 V190.3 M458.0,187.3 V190.3 M459.3,187.3 V190.3 M460.5,187.3 V190.3 M461.5,187.3 V191.7 M468.3,187.3 V190.3 M472.3,187.3 V190.3 M475.1,187.3 V190.3 M477.3,187.3 V190.3 M479.1,187.3 V190.3 M480.6,187.3 V190.3 M481.9,187.3 V190.3 M483.1,187.3 V190.3 M484.1,187.3 V191.7 M490.9,187.3 V190.3 M494.9,187.3 V190.3 M497.7,187.3 V190.3 M499.9,187.3 V190.3 M501.7,187.3 V190.3 M503.2,187.3 V190.3 M504.5,187.3 V190.3 M505.7,187.3 V190.3 M506.7,187.3 V191.7 M513.5,187.3 V190.3 M442.2,187.3 V190.9 M443.0,187.3 V190.9 M443.8,187.3 V190.9 M444.6,187.3 V190.9 M445.4,187.3 V190.9 M446.2,187.3 V190.9 M447.0,187.3 V190.9 M447.8,187.3 V190.9 M448.6,187.3 V190.9" stroke="#1a1a1a" stroke-width="0.75" fill="none"/>
<text x="442.3" y="118.9" font-family="Liberation Sans, sans-serif" font-weight="bold" font-size="8.4" fill="#111" stroke="#111" stroke-width="0.2">0.3%</text>
<text x="514.9" y="118.9" font-family="Liberation Sans, sans-serif" font-weight="bold" font-size="8.4" fill="#111" stroke="#111" stroke-width="0.2" text-anchor="end">36.6%</text>
<text x="242.6" y="225.4" font-family="Liberation Sans, sans-serif" font-weight="bold" font-size="12.4" fill="#111" stroke="#111" stroke-width="0.35">C</text>
<text transform="translate(267.0,368.5) rotate(-90)" font-family="Liberation Sans, sans-serif" font-size="12.3" fill="#111" textLength="127.5" lengthAdjust="spacingAndGlyphs">% CD137+ CD8 T cells</text>
<g stroke="#111" stroke-width="1.2" fill="none"><path d="M286.1,228.3 H290.6 V256.3"/><path d="M286.1,242.3 H290.6"/><path d="M286.1,256.3 H293.7"/><path d="M286.1,267.3 H293.7 M290.6,267.3 V378.6 H517.1"/><path d="M286.6,295.3 H290.6 M286.6,323.3 H290.6 M286.6,351.2 H290.6 M286.6,378.6 H290.6"/><path d="M318.8,378.6 V383 M375.3,378.6 V383 M432.1,378.6 V383 M488.4,378.6 V383"/></g>
<text x="284.1" y="233.0" font-family="Liberation Sans, sans-serif" font-weight="bold" font-size="10.4" fill="#111" stroke="#111" stroke-width="0.25" text-anchor="end">60</text>
<text x="284.1" y="246.9" font-family="Liberation Sans, sans-serif" font-weight="bold" font-size="10.4" fill="#111" stroke="#111" stroke-width="0.25" text-anchor="end">40</text>
<text x="284.1" y="260.9" font-family="Liberation Sans, sans-serif" font-weight="bold" font-size="10.4" fill="#111" stroke="#111" stroke-width="0.25" text-anchor="end">20</text>
<text x="284.1" y="272.2" font-family="Liberation Sans, sans-serif" font-weight="bold" font-size="10.4" fill="#111" stroke="#111" stroke-width="0.25" text-anchor="end">20</text>
<text x="284.1" y="299.7" font-family="Liberation Sans, sans-serif" font-weight="bold" font-size="10.4" fill="#111" stroke="#111" stroke-width="0.25" text-anchor="end">15</text>
<text x="284.1" y="327.9" font-family="Liberation Sans, sans-serif" font-weight="bold" font-size="10.4" fill="#111" stroke="#111" stroke-width="0.25" text-anchor="end">10</text>
<text x="284.1" y="355.6" font-family="Liberation Sans, sans-serif" font-weight="bold" font-size="10.4" fill="#111" stroke="#111" stroke-width="0.25" text-anchor="end">5</text>
<text x="284.1" y="383.1" font-family="Liberation Sans, sans-serif" font-weight="bold" font-size="10.4" fill="#111" stroke="#111" stroke-width="0.25" text-anchor="end">0</text>
<text x="303.0" y="395.6" font-family="Liberation Sans, sans-serif" font-weight="bold" font-size="10" fill="#111" stroke="#111" stroke-width="0.25" textLength="31.6" lengthAdjust="spacingAndGlyphs">PBMC</text>
<text x="369.1" y="395.6" font-family="Liberation Sans, sans-serif" font-weight="bold" font-size="10" fill="#111" stroke="#111" stroke-width="0.25" textLength="12.5" lengthAdjust="spacingAndGlyphs">FL</text>
<text x="420.7" y="395.6" font-family="Liberation Sans, sans-serif" font-weight="bold" font-size="10" fill="#111" stroke="#111" stroke-width="0.25" textLength="22.9" lengthAdjust="spacingAndGlyphs">MCL</text>
<text x="470.8" y="395.6" font-family="Liberation Sans, sans-serif" font-weight="bold" font-size="10" fill="#111" stroke="#111" stroke-width="0.25" textLength="36.4" lengthAdjust="spacingAndGlyphs">DLBCL</text>
<g stroke="#111" stroke-width="1.15"><line x1="299.4" y1="374.0" x2="338.2" y2="374.0"/><line x1="356.2" y1="345.1" x2="394.9" y2="345.1"/><line x1="412.4" y1="293.5" x2="449.3" y2="293.5"/><line x1="469.5" y1="274.6" x2="507.9" y2="274.6"/></g>
<g fill="#111"><circle cx="319.05" cy="351.8" r="2.15"/><circle cx="309.9" cy="370.7" r="2.15"/><circle cx="323.5" cy="370.7" r="2.15"/><circle cx="305.2" cy="375.8" r="2.15"/><circle cx="309.7" cy="377.4" r="2.15"/><circle cx="314.5" cy="374.1" r="2.15"/><circle cx="314.5" cy="378.0" r="2.15"/><circle cx="318.8" cy="374.1" r="2.15"/><circle cx="321.0" cy="375.4" r="2.15"/><circle cx="318.8" cy="379.3" r="2.15"/><circle cx="323.5" cy="378.0" r="2.15"/><circle cx="327.9" cy="377.1" r="2.15"/><circle cx="332.2" cy="375.8" r="2.15"/><circle cx="375.5" cy="314.7" r="2.15"/><circle cx="375.5" cy="320.0" r="2.15"/><circle cx="379.9" cy="326.1" r="2.15"/><circle cx="375.5" cy="327.9" r="2.15"/><circle cx="371.1" cy="331.1" r="2.15"/><circle cx="379.9" cy="331.1" r="2.15"/><circle cx="375.5" cy="334.0" r="2.15"/><circle cx="371.1" cy="337.0" r="2.15"/><circle cx="379.9" cy="337.0" r="2.15"/><circle cx="375.5" cy="340.2" r="2.15"/><circle cx="371.1" cy="343.4" r="2.15"/><circle cx="379.9" cy="343.4" r="2.15"/><circle cx="375.5" cy="345.8" r="2.15"/><circle cx="362.0" cy="347.6" r="2.15"/><circle cx="366.7" cy="349.9" r="2.15"/><circle cx="371.1" cy="351.1" r="2.15"/><circle cx="375.5" cy="352.2" r="2.15"/><circle cx="379.9" cy="351.1" r="2.15"/><circle cx="384.3" cy="351.1" r="2.15"/><circle cx="388.7" cy="349.4" r="2.15"/><circle cx="373.2" cy="355.2" r="2.15"/><circle cx="362.0" cy="355.7" r="2.15"/><circle cx="366.7" cy="356.9" r="2.15"/><circle cx="379.9" cy="356.9" r="2.15"/><circle cx="384.3" cy="355.7" r="2.15"/><circle cx="388.7" cy="355.7" r="2.15"/><circle cx="371.1" cy="359.6" r="2.15"/><circle cx="375.5" cy="359.6" r="2.15"/><circle cx="375.5" cy="365.2" r="2.15"/><circle cx="432.2" cy="241.5" r="2.15"/><circle cx="432.2" cy="249.6" r="2.15"/><circle cx="432.2" cy="268.3" r="2.15"/><circle cx="432.2" cy="273.4" r="2.15"/><circle cx="432.2" cy="289.9" r="2.15"/><circle cx="427.5" cy="298.6" r="2.15"/><circle cx="432.1" cy="302.9" r="2.15"/><circle cx="436.4" cy="306.7" r="2.15"/><circle cx="432.1" cy="308.9" r="2.15"/><circle cx="427.5" cy="318.3" r="2.15"/><circle cx="432.1" cy="319.6" r="2.15"/><circle cx="432.1" cy="332.6" r="2.15"/><circle cx="432.1" cy="356.0" r="2.15"/><circle cx="432.1" cy="363.3" r="2.15"/><circle cx="488.5" cy="234.1" r="2.15"/><circle cx="483.7" cy="248.8" r="2.15"/><circle cx="488.5" cy="250.8" r="2.15"/><circle cx="488.5" cy="268.3" r="2.15"/><circle cx="488.5" cy="279.0" r="2.15"/><circle cx="488.5" cy="293.3" r="2.15"/><circle cx="488.3" cy="314.3" r="2.15"/><circle cx="488.3" cy="327.2" r="2.15"/><circle cx="488.3" cy="334.5" r="2.15"/><circle cx="488.3" cy="341.2" r="2.15"/><circle cx="492.9" cy="341.2" r="2.15"/></g>
</svg>
</body></html>
